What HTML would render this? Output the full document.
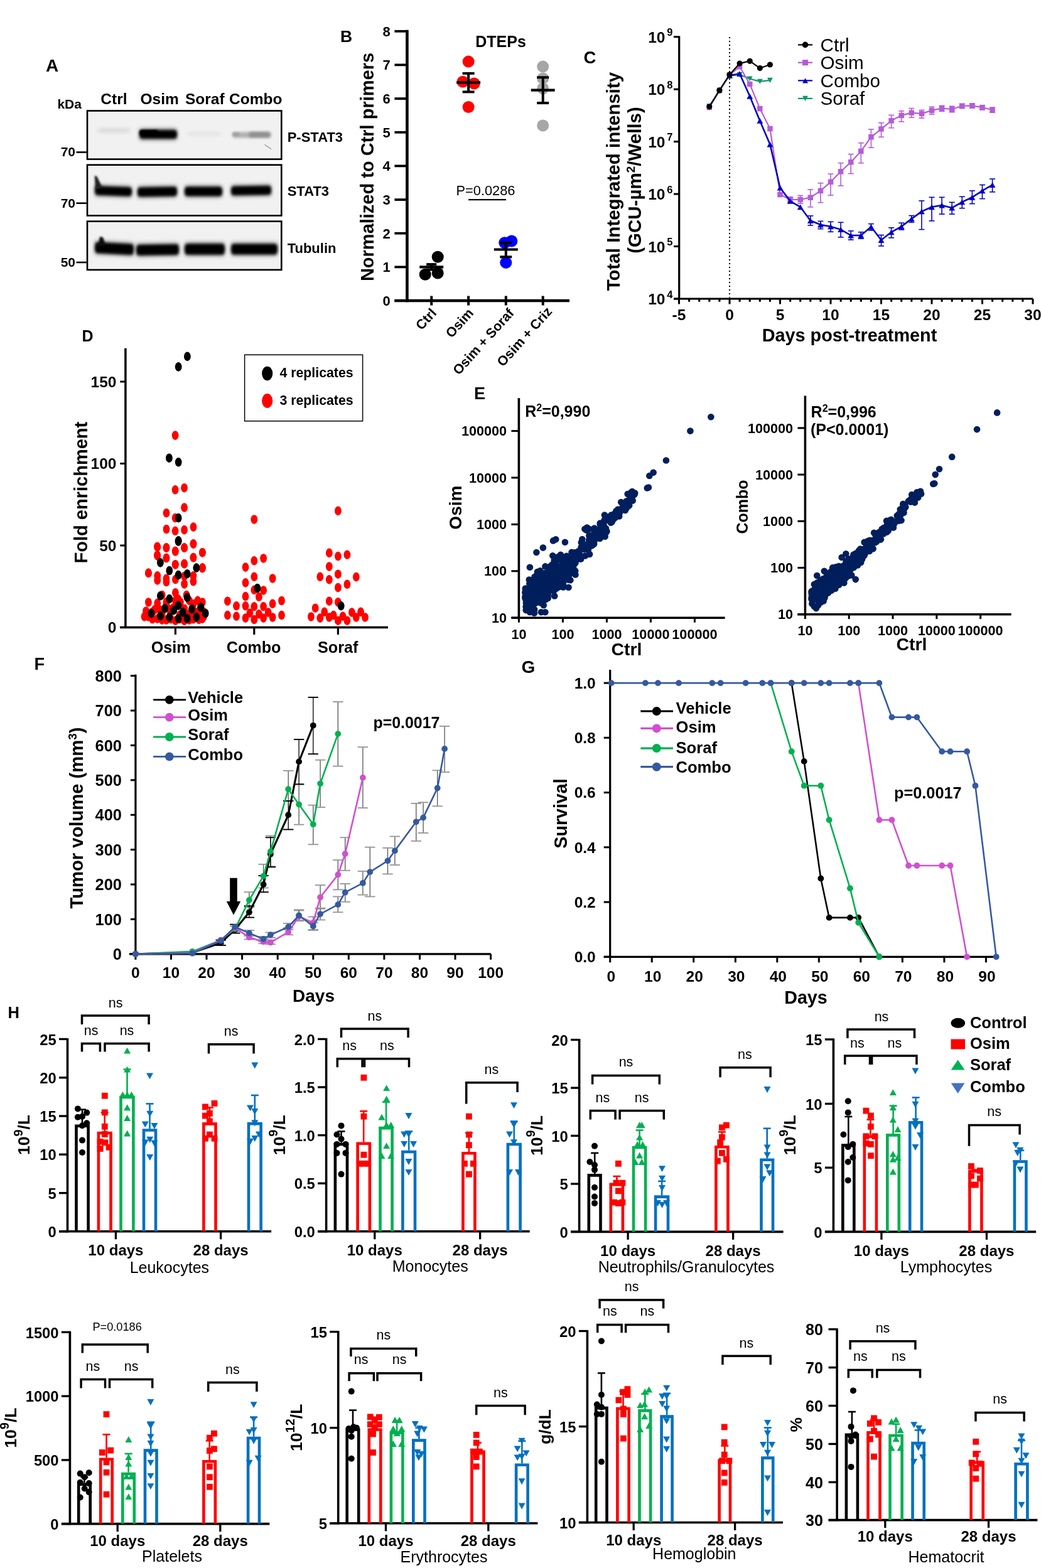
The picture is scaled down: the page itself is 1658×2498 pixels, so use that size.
<!DOCTYPE html>
<html><head><meta charset="utf-8"><style>
html,body{margin:0;padding:0;background:#fff;overflow:hidden;width:1658px;height:2498px;}
svg{display:block;}
text{font-family:'Liberation Sans', Arial, Helvetica, sans-serif;}
</style></head><body>
<svg font-weight="bold" width="1658" height="2498" viewBox="0 0 1658 2498">
<defs>
<filter id="blur2" x="-20%" y="-50%" width="140%" height="200%"><feGaussianBlur stdDeviation="2.2"/></filter>
<filter id="blur1" x="-20%" y="-50%" width="140%" height="200%"><feGaussianBlur stdDeviation="1.4"/></filter>
<filter id="blur4" x="-20%" y="-80%" width="140%" height="260%"><feGaussianBlur stdDeviation="3.5"/></filter>
<filter id="blur3" x="-20%" y="-50%" width="140%" height="200%"><feGaussianBlur stdDeviation="3"/></filter>
</defs>
<rect width="1658" height="2498" fill="#fff"/>
<text x="73" y="114" font-size="28">A</text>
<text x="91.4" y="172.5" font-size="21">kDa</text>
<text x="160.3" y="165.5" font-size="24.5">Ctrl</text>
<text x="223.5" y="165.5" font-size="24.5">Osim</text>
<text x="295" y="165.5" font-size="24.5">Soraf</text>
<text x="365" y="165.5" font-size="24.5">Combo</text>
<rect x="139" y="176.5" width="309.3" height="77.1" fill="#f1f1f1" stroke="#000" stroke-width="2.6"/>
<rect x="139" y="262.7" width="309.3" height="80.8" fill="#f1f1f1" stroke="#000" stroke-width="2.6"/>
<rect x="139" y="352.6" width="309.3" height="77.3" fill="#f1f1f1" stroke="#000" stroke-width="2.6"/>
<g filter="url(#blur3)" opacity="1.0"><path d="M158,204.5 L205,204.5 Q209,208 205,211.5 L158,211.5 Q154,208 158,204.5Z" fill="#d8d8d8"/></g>
<g filter="url(#blur4)" opacity="0.55"><path d="M223,205.5 L281,205.5 L281,222.5 L223,222.5Z" fill="#000"/></g>
<g filter="url(#blur2)" opacity="1.0"><path d="M224,207.5 L280,207.5 Q284,214 280,220.5 L224,220.5 Q220,214 224,207.5Z" fill="#000"/></g>
<g filter="url(#blur1)" opacity="1.0"><path d="M224,207 L250,207 Q254,211 250,215 L224,215 Q220,211 224,207Z" fill="#000"/></g>
<g filter="url(#blur3)" opacity="1.0"><path d="M300,210 L350,210 Q354,213 350,216 L300,216 Q296,213 300,210Z" fill="#e2e2e2"/></g>
<g filter="url(#blur2)" opacity="1.0"><path d="M372,210.5 L430,210.5 Q434,215 430,219.5 L372,219.5 Q368,215 372,210.5Z" fill="#b0b0b0"/></g>
<g filter="url(#blur2)" opacity="1.0"><path d="M398,210.5 L428,210.5 Q432,214.5 428,218.5 L398,218.5 Q394,214.5 398,210.5Z" fill="#8e8e8e"/></g>
<g filter="url(#blur1)" opacity="1.0"><path d="M372,211 L380,211 Q384,214 380,217 L372,217 Q368,214 372,211Z" fill="#a0a0a0"/></g>
<g filter="url(#blur4)" opacity="0.55"><path d="M152,294.8 L209,296.8 L209,314.2 L152,312.2Z" fill="#000"/></g>
<g filter="url(#blur2)" opacity="1.0"><path d="M153,296.8 L208,298.8 Q212,304.5 208,312.2 L153,310.2 Q149,303.5 153,296.8Z" fill="#000"/></g>
<g filter="url(#blur1)"><path d="M150.5,280 L154.5,281 L163,299 L152,301Z" fill="#222"/></g>
<g filter="url(#blur4)" opacity="0.55"><path d="M220,297 L281,296 L281,314 L220,315Z" fill="#000"/></g>
<g filter="url(#blur2)" opacity="1.0"><path d="M221,299 L280,298 Q284,305.5 280,312 L221,313 Q217,306 221,299Z" fill="#000"/></g>
<g filter="url(#blur4)" opacity="0.55"><path d="M295,296 L353,296 L353,314 L295,314Z" fill="#000"/></g>
<g filter="url(#blur2)" opacity="1.0"><path d="M296,298 L352,298 Q356,305 352,312 L296,312 Q292,305 296,298Z" fill="#000"/></g>
<g filter="url(#blur4)" opacity="0.55"><path d="M369,295.2 L431,294.2 L431,311.8 L369,312.8Z" fill="#000"/></g>
<g filter="url(#blur2)" opacity="1.0"><path d="M370,297.2 L430,296.2 Q434,303.5 430,309.8 L370,310.8 Q366,304 370,297.2Z" fill="#000"/></g>
<g filter="url(#blur4)" opacity="0.55"><path d="M152,384.2 L212,387.2 L212,407.8 L152,404.8Z" fill="#000"/></g>
<g filter="url(#blur2)" opacity="1.0"><path d="M153,386.2 L211,389.2 Q215,396 211,405.8 L153,402.8 Q149,394.5 153,386.2Z" fill="#000"/></g>
<g filter="url(#blur1)"><path d="M159,377 L164,378 L168,390 L156,393Z" fill="#111"/></g>
<line x1="421.5" y1="230.5" x2="432" y2="237.5" stroke="#555" stroke-width="0.9"/>
<g filter="url(#blur4)" opacity="0.55"><path d="M218,388.5 L284,387.5 L284,407.5 L218,408.5Z" fill="#000"/></g>
<g filter="url(#blur2)" opacity="1.0"><path d="M219,390.5 L283,389.5 Q287,398 283,405.5 L219,406.5 Q215,398.5 219,390.5Z" fill="#000"/></g>
<g filter="url(#blur4)" opacity="0.55"><path d="M295,386.8 L357,386.8 L357,407.2 L295,407.2Z" fill="#000"/></g>
<g filter="url(#blur2)" opacity="1.0"><path d="M296,388.8 L356,388.8 Q360,397 356,405.2 L296,405.2 Q292,397 296,388.8Z" fill="#000"/></g>
<g filter="url(#blur4)" opacity="0.55"><path d="M369,387 L441,387 L441,407 L369,407Z" fill="#000"/></g>
<g filter="url(#blur2)" opacity="1.0"><path d="M370,389 L440,389 Q444,397 440,405 L370,405 Q366,397 370,389Z" fill="#000"/></g>
<text x="96.7" y="248.9" font-size="21">70</text>
<line x1="121.5" y1="242.5" x2="137.7" y2="242.5" stroke="#000" stroke-width="2.6"/>
<text x="96.7" y="331.4" font-size="21">70</text>
<line x1="121.5" y1="323.7" x2="137.7" y2="323.7" stroke="#000" stroke-width="2.6"/>
<text x="96.7" y="424.9" font-size="21">50</text>
<line x1="121.5" y1="418" x2="137.7" y2="418" stroke="#000" stroke-width="2.6"/>
<text x="457.7" y="226.3" font-size="22">P-STAT3</text>
<text x="457.7" y="312" font-size="22">STAT3</text>
<text x="457.7" y="403" font-size="22">Tubulin</text>
<text x="542" y="67" font-size="26.5">B</text>
<line x1="648.4" y1="47.8" x2="648.4" y2="481.2" stroke="#000" stroke-width="4.6"/>
<line x1="628.4" y1="479" x2="907" y2="479" stroke="#000" stroke-width="4.4"/>
<line x1="628.4" y1="479" x2="648.4" y2="479" stroke="#000" stroke-width="3.8"/>
<text x="621.8" y="486.8" font-size="22" text-anchor="end">0</text>
<line x1="628.4" y1="425.4" x2="648.4" y2="425.4" stroke="#000" stroke-width="3.8"/>
<text x="621.8" y="433.2" font-size="22" text-anchor="end">1</text>
<line x1="628.4" y1="371.7" x2="648.4" y2="371.7" stroke="#000" stroke-width="3.8"/>
<text x="621.8" y="379.5" font-size="22" text-anchor="end">2</text>
<line x1="628.4" y1="318.1" x2="648.4" y2="318.1" stroke="#000" stroke-width="3.8"/>
<text x="621.8" y="325.9" font-size="22" text-anchor="end">3</text>
<line x1="628.4" y1="264.4" x2="648.4" y2="264.4" stroke="#000" stroke-width="3.8"/>
<text x="621.8" y="272.2" font-size="22" text-anchor="end">4</text>
<line x1="628.4" y1="210.8" x2="648.4" y2="210.8" stroke="#000" stroke-width="3.8"/>
<text x="621.8" y="218.6" font-size="22" text-anchor="end">5</text>
<line x1="628.4" y1="157.1" x2="648.4" y2="157.1" stroke="#000" stroke-width="3.8"/>
<text x="621.8" y="164.9" font-size="22" text-anchor="end">6</text>
<line x1="628.4" y1="103.4" x2="648.4" y2="103.4" stroke="#000" stroke-width="3.8"/>
<text x="621.8" y="111.2" font-size="22" text-anchor="end">7</text>
<line x1="628.4" y1="49.8" x2="648.4" y2="49.8" stroke="#000" stroke-width="3.8"/>
<text x="621.8" y="57.6" font-size="22" text-anchor="end">8</text>
<line x1="687.2" y1="471.5" x2="687.2" y2="486.5" stroke="#000" stroke-width="4"/>
<line x1="746.1" y1="471.5" x2="746.1" y2="486.5" stroke="#000" stroke-width="4"/>
<line x1="805.8" y1="471.5" x2="805.8" y2="486.5" stroke="#000" stroke-width="4"/>
<line x1="864.7" y1="471.5" x2="864.7" y2="486.5" stroke="#000" stroke-width="4"/>
<text x="594.9" y="266" font-size="29" text-anchor="middle" transform="rotate(-90 594.9 266)">Normalized to Ctrl primers</text>
<text x="797.5" y="74.8" font-size="25" text-anchor="middle">DTEPs</text>
<circle cx="677.2" cy="437.2" r="9.5" fill="#000"/>
<circle cx="697.2" cy="435" r="9.5" fill="#000"/>
<circle cx="697.2" cy="409.3" r="9.5" fill="#000"/>
<circle cx="746.1" cy="98.1" r="9.5" fill="#ff0000"/>
<circle cx="737.1" cy="130.3" r="9.5" fill="#ff0000"/>
<circle cx="755.1" cy="133" r="9.5" fill="#ff0000"/>
<circle cx="746.1" cy="170.5" r="9.5" fill="#ff0000"/>
<circle cx="805.8" cy="418.4" r="9.5" fill="#0000ff"/>
<circle cx="803.8" cy="386.7" r="9.5" fill="#0000ff"/>
<circle cx="814.8" cy="384" r="9.5" fill="#0000ff"/>
<circle cx="864.7" cy="106.1" r="9.5" fill="#a6a6a6"/>
<circle cx="864.7" cy="124.9" r="9.5" fill="#a6a6a6"/>
<circle cx="864.7" cy="141" r="9.5" fill="#a6a6a6"/>
<circle cx="864.7" cy="200" r="9.5" fill="#a6a6a6"/>
<line x1="668.2" y1="425.4" x2="706.2" y2="425.4" stroke="#000" stroke-width="4.2"/>
<line x1="687.2" y1="429.6" x2="687.2" y2="421.1" stroke="#000" stroke-width="4"/>
<line x1="679.2" y1="429.6" x2="695.2" y2="429.6" stroke="#000" stroke-width="4"/>
<line x1="679.2" y1="421.1" x2="695.2" y2="421.1" stroke="#000" stroke-width="4"/>
<line x1="727.1" y1="131.3" x2="765.1" y2="131.3" stroke="#000" stroke-width="4.2"/>
<line x1="746.1" y1="146.4" x2="746.1" y2="116.9" stroke="#000" stroke-width="4"/>
<line x1="736.6" y1="146.4" x2="755.6" y2="146.4" stroke="#000" stroke-width="4"/>
<line x1="736.6" y1="116.9" x2="755.6" y2="116.9" stroke="#000" stroke-width="4"/>
<line x1="786.8" y1="397.5" x2="824.8" y2="397.5" stroke="#000" stroke-width="4.2"/>
<line x1="805.8" y1="409.3" x2="805.8" y2="386.7" stroke="#000" stroke-width="4"/>
<line x1="796.3" y1="409.3" x2="815.3" y2="409.3" stroke="#000" stroke-width="4"/>
<line x1="796.3" y1="386.7" x2="815.3" y2="386.7" stroke="#000" stroke-width="4"/>
<line x1="845.7" y1="143.7" x2="883.7" y2="143.7" stroke="#000" stroke-width="4.2"/>
<line x1="864.7" y1="164.1" x2="864.7" y2="123.3" stroke="#000" stroke-width="4"/>
<line x1="855.2" y1="164.1" x2="874.2" y2="164.1" stroke="#000" stroke-width="4"/>
<line x1="855.2" y1="123.3" x2="874.2" y2="123.3" stroke="#000" stroke-width="4"/>
<line x1="746.1" y1="318.1" x2="806" y2="318.1" stroke="#000" stroke-width="2.2"/>
<text x="773.5" y="311.1" font-size="21.8" font-weight="normal" text-anchor="middle">P=0.0286</text>
<text x="696.4" y="499.5" font-size="21.5" text-anchor="end" transform="rotate(-48 696.4 499.5)">Ctrl</text>
<text x="755.2" y="499.5" font-size="21.5" text-anchor="end" transform="rotate(-48 755.2 499.5)">Osim</text>
<text x="819.8" y="499.6" font-size="21.5" text-anchor="end" transform="rotate(-48 819.8 499.6)">Osim + Soraf</text>
<text x="880.5" y="497" font-size="21.5" text-anchor="end" transform="rotate(-48 880.5 497)">Osim + Criz</text>
<text x="929.4" y="100.6" font-size="27.5">C</text>
<line x1="1081.7" y1="57.5" x2="1081.7" y2="477.5" stroke="#000" stroke-width="3.2"/>
<line x1="1073" y1="476" x2="1645" y2="476" stroke="#000" stroke-width="3.2"/>
<line x1="1073" y1="476" x2="1081.7" y2="476" stroke="#000" stroke-width="3"/>
<text x="1059.4" y="485" font-size="24.5" text-anchor="end">10</text>
<text x="1062.3" y="474.5" font-size="16.5">4</text>
<line x1="1073" y1="392.5" x2="1081.7" y2="392.5" stroke="#000" stroke-width="3"/>
<text x="1059.4" y="401.5" font-size="24.5" text-anchor="end">10</text>
<text x="1062.3" y="391" font-size="16.5">5</text>
<line x1="1073" y1="309.1" x2="1081.7" y2="309.1" stroke="#000" stroke-width="3"/>
<text x="1059.4" y="318.1" font-size="24.5" text-anchor="end">10</text>
<text x="1062.3" y="307.6" font-size="16.5">6</text>
<line x1="1073" y1="225.6" x2="1081.7" y2="225.6" stroke="#000" stroke-width="3"/>
<text x="1059.4" y="234.6" font-size="24.5" text-anchor="end">10</text>
<text x="1062.3" y="224.1" font-size="16.5">7</text>
<line x1="1073" y1="142.2" x2="1081.7" y2="142.2" stroke="#000" stroke-width="3"/>
<text x="1059.4" y="151.2" font-size="24.5" text-anchor="end">10</text>
<text x="1062.3" y="140.7" font-size="16.5">8</text>
<line x1="1073" y1="58.7" x2="1081.7" y2="58.7" stroke="#000" stroke-width="3"/>
<text x="1059.4" y="67.7" font-size="24.5" text-anchor="end">10</text>
<text x="1062.3" y="57.2" font-size="16.5">9</text>
<line x1="1081.5" y1="476" x2="1081.5" y2="484.5" stroke="#000" stroke-width="3"/>
<line x1="1097.6" y1="476" x2="1097.6" y2="480.8" stroke="#000" stroke-width="3"/>
<line x1="1113.7" y1="476" x2="1113.7" y2="480.8" stroke="#000" stroke-width="3"/>
<line x1="1129.8" y1="476" x2="1129.8" y2="480.8" stroke="#000" stroke-width="3"/>
<line x1="1145.9" y1="476" x2="1145.9" y2="480.8" stroke="#000" stroke-width="3"/>
<line x1="1162" y1="476" x2="1162" y2="484.5" stroke="#000" stroke-width="3"/>
<line x1="1178.1" y1="476" x2="1178.1" y2="480.8" stroke="#000" stroke-width="3"/>
<line x1="1194.2" y1="476" x2="1194.2" y2="480.8" stroke="#000" stroke-width="3"/>
<line x1="1210.3" y1="476" x2="1210.3" y2="480.8" stroke="#000" stroke-width="3"/>
<line x1="1226.4" y1="476" x2="1226.4" y2="480.8" stroke="#000" stroke-width="3"/>
<line x1="1242.5" y1="476" x2="1242.5" y2="484.5" stroke="#000" stroke-width="3"/>
<line x1="1258.6" y1="476" x2="1258.6" y2="480.8" stroke="#000" stroke-width="3"/>
<line x1="1274.7" y1="476" x2="1274.7" y2="480.8" stroke="#000" stroke-width="3"/>
<line x1="1290.8" y1="476" x2="1290.8" y2="480.8" stroke="#000" stroke-width="3"/>
<line x1="1306.9" y1="476" x2="1306.9" y2="480.8" stroke="#000" stroke-width="3"/>
<line x1="1323" y1="476" x2="1323" y2="484.5" stroke="#000" stroke-width="3"/>
<line x1="1339.1" y1="476" x2="1339.1" y2="480.8" stroke="#000" stroke-width="3"/>
<line x1="1355.2" y1="476" x2="1355.2" y2="480.8" stroke="#000" stroke-width="3"/>
<line x1="1371.3" y1="476" x2="1371.3" y2="480.8" stroke="#000" stroke-width="3"/>
<line x1="1387.4" y1="476" x2="1387.4" y2="480.8" stroke="#000" stroke-width="3"/>
<line x1="1403.5" y1="476" x2="1403.5" y2="484.5" stroke="#000" stroke-width="3"/>
<line x1="1419.6" y1="476" x2="1419.6" y2="480.8" stroke="#000" stroke-width="3"/>
<line x1="1435.7" y1="476" x2="1435.7" y2="480.8" stroke="#000" stroke-width="3"/>
<line x1="1451.8" y1="476" x2="1451.8" y2="480.8" stroke="#000" stroke-width="3"/>
<line x1="1467.9" y1="476" x2="1467.9" y2="480.8" stroke="#000" stroke-width="3"/>
<line x1="1484" y1="476" x2="1484" y2="484.5" stroke="#000" stroke-width="3"/>
<line x1="1500.1" y1="476" x2="1500.1" y2="480.8" stroke="#000" stroke-width="3"/>
<line x1="1516.2" y1="476" x2="1516.2" y2="480.8" stroke="#000" stroke-width="3"/>
<line x1="1532.3" y1="476" x2="1532.3" y2="480.8" stroke="#000" stroke-width="3"/>
<line x1="1548.4" y1="476" x2="1548.4" y2="480.8" stroke="#000" stroke-width="3"/>
<line x1="1564.5" y1="476" x2="1564.5" y2="484.5" stroke="#000" stroke-width="3"/>
<line x1="1580.6" y1="476" x2="1580.6" y2="480.8" stroke="#000" stroke-width="3"/>
<line x1="1596.7" y1="476" x2="1596.7" y2="480.8" stroke="#000" stroke-width="3"/>
<line x1="1612.8" y1="476" x2="1612.8" y2="480.8" stroke="#000" stroke-width="3"/>
<line x1="1628.9" y1="476" x2="1628.9" y2="480.8" stroke="#000" stroke-width="3"/>
<line x1="1645" y1="476" x2="1645" y2="484.5" stroke="#000" stroke-width="3"/>
<text x="1081.5" y="510.4" font-size="24.5" text-anchor="middle">-5</text>
<text x="1162" y="510.4" font-size="24.5" text-anchor="middle">0</text>
<text x="1242.5" y="510.4" font-size="24.5" text-anchor="middle">5</text>
<text x="1323" y="510.4" font-size="24.5" text-anchor="middle">10</text>
<text x="1403.5" y="510.4" font-size="24.5" text-anchor="middle">15</text>
<text x="1484" y="510.4" font-size="24.5" text-anchor="middle">20</text>
<text x="1564.5" y="510.4" font-size="24.5" text-anchor="middle">25</text>
<text x="1645" y="510.4" font-size="24.5" text-anchor="middle">30</text>
<line x1="1162" y1="59" x2="1162" y2="474" stroke="#000" stroke-width="2.1" stroke-dasharray="2 4"/>
<text x="986.6" y="289" font-size="29.5" text-anchor="middle" transform="rotate(-90 986.6 289)">Total Integrated intensity</text>
<text x="1021.3" y="287" font-size="29.5" text-anchor="middle" transform="rotate(-90 1021.3 287)">(GCU-µm<tspan dy="-10" font-size="19">2</tspan><tspan dy="10">/Wells)</tspan></text>
<text x="1353" y="543.5" font-size="28.8" text-anchor="middle">Days post-treatment</text>
<line x1="1258.6" y1="313.8" x2="1258.6" y2="322.7" stroke="#b65bd9" stroke-width="1.6"/>
<line x1="1254.1" y1="313.8" x2="1263.1" y2="313.8" stroke="#b65bd9" stroke-width="1.6"/>
<line x1="1254.1" y1="322.7" x2="1263.1" y2="322.7" stroke="#b65bd9" stroke-width="1.6"/>
<line x1="1274.7" y1="311.5" x2="1274.7" y2="324.2" stroke="#b65bd9" stroke-width="1.6"/>
<line x1="1270.2" y1="311.5" x2="1279.2" y2="311.5" stroke="#b65bd9" stroke-width="1.6"/>
<line x1="1270.2" y1="324.2" x2="1279.2" y2="324.2" stroke="#b65bd9" stroke-width="1.6"/>
<line x1="1290.8" y1="302" x2="1290.8" y2="329.8" stroke="#b65bd9" stroke-width="1.6"/>
<line x1="1286.3" y1="302" x2="1295.3" y2="302" stroke="#b65bd9" stroke-width="1.6"/>
<line x1="1286.3" y1="329.8" x2="1295.3" y2="329.8" stroke="#b65bd9" stroke-width="1.6"/>
<line x1="1306.9" y1="291.7" x2="1306.9" y2="322.7" stroke="#b65bd9" stroke-width="1.6"/>
<line x1="1302.4" y1="291.7" x2="1311.4" y2="291.7" stroke="#b65bd9" stroke-width="1.6"/>
<line x1="1302.4" y1="322.7" x2="1311.4" y2="322.7" stroke="#b65bd9" stroke-width="1.6"/>
<line x1="1323" y1="277.1" x2="1323" y2="311" stroke="#b65bd9" stroke-width="1.6"/>
<line x1="1318.5" y1="277.1" x2="1327.5" y2="277.1" stroke="#b65bd9" stroke-width="1.6"/>
<line x1="1318.5" y1="311" x2="1327.5" y2="311" stroke="#b65bd9" stroke-width="1.6"/>
<line x1="1339.1" y1="259.7" x2="1339.1" y2="295.9" stroke="#b65bd9" stroke-width="1.6"/>
<line x1="1334.6" y1="259.7" x2="1343.6" y2="259.7" stroke="#b65bd9" stroke-width="1.6"/>
<line x1="1334.6" y1="295.9" x2="1343.6" y2="295.9" stroke="#b65bd9" stroke-width="1.6"/>
<line x1="1355.2" y1="245.6" x2="1355.2" y2="276.6" stroke="#b65bd9" stroke-width="1.6"/>
<line x1="1350.7" y1="245.6" x2="1359.7" y2="245.6" stroke="#b65bd9" stroke-width="1.6"/>
<line x1="1350.7" y1="276.6" x2="1359.7" y2="276.6" stroke="#b65bd9" stroke-width="1.6"/>
<line x1="1371.3" y1="227.7" x2="1371.3" y2="259.7" stroke="#b65bd9" stroke-width="1.6"/>
<line x1="1366.8" y1="227.7" x2="1375.8" y2="227.7" stroke="#b65bd9" stroke-width="1.6"/>
<line x1="1366.8" y1="259.7" x2="1375.8" y2="259.7" stroke="#b65bd9" stroke-width="1.6"/>
<line x1="1387.4" y1="206" x2="1387.4" y2="235.2" stroke="#b65bd9" stroke-width="1.6"/>
<line x1="1382.9" y1="206" x2="1391.9" y2="206" stroke="#b65bd9" stroke-width="1.6"/>
<line x1="1382.9" y1="235.2" x2="1391.9" y2="235.2" stroke="#b65bd9" stroke-width="1.6"/>
<line x1="1403.5" y1="195.7" x2="1403.5" y2="218.3" stroke="#b65bd9" stroke-width="1.6"/>
<line x1="1399" y1="195.7" x2="1408" y2="195.7" stroke="#b65bd9" stroke-width="1.6"/>
<line x1="1399" y1="218.3" x2="1408" y2="218.3" stroke="#b65bd9" stroke-width="1.6"/>
<line x1="1419.6" y1="183.4" x2="1419.6" y2="203.7" stroke="#b65bd9" stroke-width="1.6"/>
<line x1="1415.1" y1="183.4" x2="1424.1" y2="183.4" stroke="#b65bd9" stroke-width="1.6"/>
<line x1="1415.1" y1="203.7" x2="1424.1" y2="203.7" stroke="#b65bd9" stroke-width="1.6"/>
<line x1="1435.7" y1="176.8" x2="1435.7" y2="193.8" stroke="#b65bd9" stroke-width="1.6"/>
<line x1="1431.2" y1="176.8" x2="1440.2" y2="176.8" stroke="#b65bd9" stroke-width="1.6"/>
<line x1="1431.2" y1="193.8" x2="1440.2" y2="193.8" stroke="#b65bd9" stroke-width="1.6"/>
<line x1="1451.8" y1="172.6" x2="1451.8" y2="187.2" stroke="#b65bd9" stroke-width="1.6"/>
<line x1="1447.3" y1="172.6" x2="1456.3" y2="172.6" stroke="#b65bd9" stroke-width="1.6"/>
<line x1="1447.3" y1="187.2" x2="1456.3" y2="187.2" stroke="#b65bd9" stroke-width="1.6"/>
<line x1="1467.9" y1="175.4" x2="1467.9" y2="188.1" stroke="#b65bd9" stroke-width="1.6"/>
<line x1="1463.4" y1="175.4" x2="1472.4" y2="175.4" stroke="#b65bd9" stroke-width="1.6"/>
<line x1="1463.4" y1="188.1" x2="1472.4" y2="188.1" stroke="#b65bd9" stroke-width="1.6"/>
<line x1="1484" y1="170.3" x2="1484" y2="182" stroke="#b65bd9" stroke-width="1.6"/>
<line x1="1479.5" y1="170.3" x2="1488.5" y2="170.3" stroke="#b65bd9" stroke-width="1.6"/>
<line x1="1479.5" y1="182" x2="1488.5" y2="182" stroke="#b65bd9" stroke-width="1.6"/>
<line x1="1500.1" y1="168.4" x2="1500.1" y2="177.3" stroke="#b65bd9" stroke-width="1.6"/>
<line x1="1495.6" y1="168.4" x2="1504.6" y2="168.4" stroke="#b65bd9" stroke-width="1.6"/>
<line x1="1495.6" y1="177.3" x2="1504.6" y2="177.3" stroke="#b65bd9" stroke-width="1.6"/>
<line x1="1516.2" y1="169.3" x2="1516.2" y2="178.7" stroke="#b65bd9" stroke-width="1.6"/>
<line x1="1511.7" y1="169.3" x2="1520.7" y2="169.3" stroke="#b65bd9" stroke-width="1.6"/>
<line x1="1511.7" y1="178.7" x2="1520.7" y2="178.7" stroke="#b65bd9" stroke-width="1.6"/>
<line x1="1532.3" y1="165.5" x2="1532.3" y2="172.6" stroke="#b65bd9" stroke-width="1.6"/>
<line x1="1527.8" y1="165.5" x2="1536.8" y2="165.5" stroke="#b65bd9" stroke-width="1.6"/>
<line x1="1527.8" y1="172.6" x2="1536.8" y2="172.6" stroke="#b65bd9" stroke-width="1.6"/>
<line x1="1548.4" y1="165.1" x2="1548.4" y2="172.1" stroke="#b65bd9" stroke-width="1.6"/>
<line x1="1543.9" y1="165.1" x2="1552.9" y2="165.1" stroke="#b65bd9" stroke-width="1.6"/>
<line x1="1543.9" y1="172.1" x2="1552.9" y2="172.1" stroke="#b65bd9" stroke-width="1.6"/>
<line x1="1564.5" y1="167.9" x2="1564.5" y2="175" stroke="#b65bd9" stroke-width="1.6"/>
<line x1="1560" y1="167.9" x2="1569" y2="167.9" stroke="#b65bd9" stroke-width="1.6"/>
<line x1="1560" y1="175" x2="1569" y2="175" stroke="#b65bd9" stroke-width="1.6"/>
<line x1="1580.6" y1="171.2" x2="1580.6" y2="179.2" stroke="#b65bd9" stroke-width="1.6"/>
<line x1="1576.1" y1="171.2" x2="1585.1" y2="171.2" stroke="#b65bd9" stroke-width="1.6"/>
<line x1="1576.1" y1="179.2" x2="1585.1" y2="179.2" stroke="#b65bd9" stroke-width="1.6"/>
<line x1="1290.8" y1="343.9" x2="1290.8" y2="359" stroke="#0000c4" stroke-width="1.6"/>
<line x1="1286.3" y1="343.9" x2="1295.3" y2="343.9" stroke="#0000c4" stroke-width="1.6"/>
<line x1="1286.3" y1="359" x2="1295.3" y2="359" stroke="#0000c4" stroke-width="1.6"/>
<line x1="1306.9" y1="352.4" x2="1306.9" y2="364.6" stroke="#0000c4" stroke-width="1.6"/>
<line x1="1302.4" y1="352.4" x2="1311.4" y2="352.4" stroke="#0000c4" stroke-width="1.6"/>
<line x1="1302.4" y1="364.6" x2="1311.4" y2="364.6" stroke="#0000c4" stroke-width="1.6"/>
<line x1="1323" y1="353.3" x2="1323" y2="369.3" stroke="#0000c4" stroke-width="1.6"/>
<line x1="1318.5" y1="353.3" x2="1327.5" y2="353.3" stroke="#0000c4" stroke-width="1.6"/>
<line x1="1318.5" y1="369.3" x2="1327.5" y2="369.3" stroke="#0000c4" stroke-width="1.6"/>
<line x1="1339.1" y1="354.3" x2="1339.1" y2="377.8" stroke="#0000c4" stroke-width="1.6"/>
<line x1="1334.6" y1="354.3" x2="1343.6" y2="354.3" stroke="#0000c4" stroke-width="1.6"/>
<line x1="1334.6" y1="377.8" x2="1343.6" y2="377.8" stroke="#0000c4" stroke-width="1.6"/>
<line x1="1355.2" y1="367.9" x2="1355.2" y2="382" stroke="#0000c4" stroke-width="1.6"/>
<line x1="1350.7" y1="367.9" x2="1359.7" y2="367.9" stroke="#0000c4" stroke-width="1.6"/>
<line x1="1350.7" y1="382" x2="1359.7" y2="382" stroke="#0000c4" stroke-width="1.6"/>
<line x1="1371.3" y1="369.8" x2="1371.3" y2="380.2" stroke="#0000c4" stroke-width="1.6"/>
<line x1="1366.8" y1="369.8" x2="1375.8" y2="369.8" stroke="#0000c4" stroke-width="1.6"/>
<line x1="1366.8" y1="380.2" x2="1375.8" y2="380.2" stroke="#0000c4" stroke-width="1.6"/>
<line x1="1387.4" y1="356.6" x2="1387.4" y2="367" stroke="#0000c4" stroke-width="1.6"/>
<line x1="1382.9" y1="356.6" x2="1391.9" y2="356.6" stroke="#0000c4" stroke-width="1.6"/>
<line x1="1382.9" y1="367" x2="1391.9" y2="367" stroke="#0000c4" stroke-width="1.6"/>
<line x1="1403.5" y1="374.5" x2="1403.5" y2="391.9" stroke="#0000c4" stroke-width="1.6"/>
<line x1="1399" y1="374.5" x2="1408" y2="374.5" stroke="#0000c4" stroke-width="1.6"/>
<line x1="1399" y1="391.9" x2="1408" y2="391.9" stroke="#0000c4" stroke-width="1.6"/>
<line x1="1419.6" y1="362.8" x2="1419.6" y2="378.8" stroke="#0000c4" stroke-width="1.6"/>
<line x1="1415.1" y1="362.8" x2="1424.1" y2="362.8" stroke="#0000c4" stroke-width="1.6"/>
<line x1="1415.1" y1="378.8" x2="1424.1" y2="378.8" stroke="#0000c4" stroke-width="1.6"/>
<line x1="1435.7" y1="355.2" x2="1435.7" y2="366" stroke="#0000c4" stroke-width="1.6"/>
<line x1="1431.2" y1="355.2" x2="1440.2" y2="355.2" stroke="#0000c4" stroke-width="1.6"/>
<line x1="1431.2" y1="366" x2="1440.2" y2="366" stroke="#0000c4" stroke-width="1.6"/>
<line x1="1451.8" y1="343.5" x2="1451.8" y2="354.3" stroke="#0000c4" stroke-width="1.6"/>
<line x1="1447.3" y1="343.5" x2="1456.3" y2="343.5" stroke="#0000c4" stroke-width="1.6"/>
<line x1="1447.3" y1="354.3" x2="1456.3" y2="354.3" stroke="#0000c4" stroke-width="1.6"/>
<line x1="1467.9" y1="319.9" x2="1467.9" y2="365.6" stroke="#0000c4" stroke-width="1.6"/>
<line x1="1463.4" y1="319.9" x2="1472.4" y2="319.9" stroke="#0000c4" stroke-width="1.6"/>
<line x1="1463.4" y1="365.6" x2="1472.4" y2="365.6" stroke="#0000c4" stroke-width="1.6"/>
<line x1="1484" y1="314.3" x2="1484" y2="351.9" stroke="#0000c4" stroke-width="1.6"/>
<line x1="1479.5" y1="314.3" x2="1488.5" y2="314.3" stroke="#0000c4" stroke-width="1.6"/>
<line x1="1479.5" y1="351.9" x2="1488.5" y2="351.9" stroke="#0000c4" stroke-width="1.6"/>
<line x1="1500.1" y1="314.3" x2="1500.1" y2="341.1" stroke="#0000c4" stroke-width="1.6"/>
<line x1="1495.6" y1="314.3" x2="1504.6" y2="314.3" stroke="#0000c4" stroke-width="1.6"/>
<line x1="1495.6" y1="341.1" x2="1504.6" y2="341.1" stroke="#0000c4" stroke-width="1.6"/>
<line x1="1516.2" y1="322.3" x2="1516.2" y2="341.1" stroke="#0000c4" stroke-width="1.6"/>
<line x1="1511.7" y1="322.3" x2="1520.7" y2="322.3" stroke="#0000c4" stroke-width="1.6"/>
<line x1="1511.7" y1="341.1" x2="1520.7" y2="341.1" stroke="#0000c4" stroke-width="1.6"/>
<line x1="1532.3" y1="313.3" x2="1532.3" y2="331.7" stroke="#0000c4" stroke-width="1.6"/>
<line x1="1527.8" y1="313.3" x2="1536.8" y2="313.3" stroke="#0000c4" stroke-width="1.6"/>
<line x1="1527.8" y1="331.7" x2="1536.8" y2="331.7" stroke="#0000c4" stroke-width="1.6"/>
<line x1="1548.4" y1="303.9" x2="1548.4" y2="324.6" stroke="#0000c4" stroke-width="1.6"/>
<line x1="1543.9" y1="303.9" x2="1552.9" y2="303.9" stroke="#0000c4" stroke-width="1.6"/>
<line x1="1543.9" y1="324.6" x2="1552.9" y2="324.6" stroke="#0000c4" stroke-width="1.6"/>
<line x1="1564.5" y1="294.5" x2="1564.5" y2="316.6" stroke="#0000c4" stroke-width="1.6"/>
<line x1="1560" y1="294.5" x2="1569" y2="294.5" stroke="#0000c4" stroke-width="1.6"/>
<line x1="1560" y1="316.6" x2="1569" y2="316.6" stroke="#0000c4" stroke-width="1.6"/>
<line x1="1580.6" y1="285.1" x2="1580.6" y2="305.8" stroke="#0000c4" stroke-width="1.6"/>
<line x1="1576.1" y1="285.1" x2="1585.1" y2="285.1" stroke="#0000c4" stroke-width="1.6"/>
<line x1="1576.1" y1="305.8" x2="1585.1" y2="305.8" stroke="#0000c4" stroke-width="1.6"/>
<polyline points="1129.8,169.3 1145.9,143.9 1162,120.4 1178.1,119 1194.2,125.5 1210.3,129.8 1226.4,127.9" fill="none" stroke="#11966a" stroke-width="2.2"/>
<polygon points="1125.3,165.3 1134.3,165.3 1129.8,173.4" fill="#11966a"/>
<polygon points="1141.4,139.8 1150.4,139.8 1145.9,147.9" fill="#11966a"/>
<polygon points="1157.5,116.3 1166.5,116.3 1162,124.4" fill="#11966a"/>
<polygon points="1173.6,114.9 1182.6,114.9 1178.1,123" fill="#11966a"/>
<polygon points="1189.7,121.5 1198.7,121.5 1194.2,129.6" fill="#11966a"/>
<polygon points="1205.8,125.7 1214.8,125.7 1210.3,133.8" fill="#11966a"/>
<polygon points="1221.9,123.8 1230.9,123.8 1226.4,131.9" fill="#11966a"/>
<polyline points="1129.8,171.2 1145.9,144.4 1162,119.4 1178.1,106.2 1194.2,134 1210.3,173.1 1226.4,205.1 1242.5,310 1258.6,318 1274.7,318 1290.8,314.7 1306.9,303.9 1323,289.8 1339.1,273.3 1355.2,258.3 1371.3,240.9 1387.4,218.3 1403.5,205.6 1419.6,192.4 1435.7,183.9 1451.8,179.7 1467.9,181.1 1484,175.9 1500.1,172.6 1516.2,174 1532.3,168.8 1548.4,168.4 1564.5,171.2 1580.6,175" fill="none" stroke="#b65bd9" stroke-width="2.2"/>
<rect x="1125.5" y="166.9" width="8.5" height="8.5" fill="#b65bd9"/>
<rect x="1141.7" y="140.1" width="8.5" height="8.5" fill="#b65bd9"/>
<rect x="1157.8" y="115.2" width="8.5" height="8.5" fill="#b65bd9"/>
<rect x="1173.8" y="102" width="8.5" height="8.5" fill="#b65bd9"/>
<rect x="1190" y="129.8" width="8.5" height="8.5" fill="#b65bd9"/>
<rect x="1206" y="168.8" width="8.5" height="8.5" fill="#b65bd9"/>
<rect x="1222.2" y="200.8" width="8.5" height="8.5" fill="#b65bd9"/>
<rect x="1238.2" y="305.8" width="8.5" height="8.5" fill="#b65bd9"/>
<rect x="1254.3" y="313.8" width="8.5" height="8.5" fill="#b65bd9"/>
<rect x="1270.5" y="313.8" width="8.5" height="8.5" fill="#b65bd9"/>
<rect x="1286.5" y="310.5" width="8.5" height="8.5" fill="#b65bd9"/>
<rect x="1302.7" y="299.7" width="8.5" height="8.5" fill="#b65bd9"/>
<rect x="1318.8" y="285.6" width="8.5" height="8.5" fill="#b65bd9"/>
<rect x="1334.8" y="269.1" width="8.5" height="8.5" fill="#b65bd9"/>
<rect x="1351" y="254" width="8.5" height="8.5" fill="#b65bd9"/>
<rect x="1367" y="236.6" width="8.5" height="8.5" fill="#b65bd9"/>
<rect x="1383.2" y="214" width="8.5" height="8.5" fill="#b65bd9"/>
<rect x="1399.2" y="201.3" width="8.5" height="8.5" fill="#b65bd9"/>
<rect x="1415.3" y="188.1" width="8.5" height="8.5" fill="#b65bd9"/>
<rect x="1431.5" y="179.7" width="8.5" height="8.5" fill="#b65bd9"/>
<rect x="1447.5" y="175.4" width="8.5" height="8.5" fill="#b65bd9"/>
<rect x="1463.7" y="176.8" width="8.5" height="8.5" fill="#b65bd9"/>
<rect x="1479.8" y="171.7" width="8.5" height="8.5" fill="#b65bd9"/>
<rect x="1495.8" y="168.4" width="8.5" height="8.5" fill="#b65bd9"/>
<rect x="1512" y="169.8" width="8.5" height="8.5" fill="#b65bd9"/>
<rect x="1528" y="164.6" width="8.5" height="8.5" fill="#b65bd9"/>
<rect x="1544.2" y="164.1" width="8.5" height="8.5" fill="#b65bd9"/>
<rect x="1560.2" y="166.9" width="8.5" height="8.5" fill="#b65bd9"/>
<rect x="1576.3" y="170.7" width="8.5" height="8.5" fill="#b65bd9"/>
<polyline points="1162,120.4 1178.1,117.5 1194.2,153.3 1210.3,192.4 1226.4,230 1242.5,299.2 1258.6,320.4 1274.7,329.8 1290.8,351.5 1306.9,358 1323,360.9 1339.1,365.6 1355.2,375 1371.3,375 1387.4,361.3 1403.5,382.5 1419.6,369.8 1435.7,360.9 1451.8,348.6 1467.9,336.9 1484,329.8 1500.1,327 1516.2,331.2 1532.3,321.8 1548.4,314.3 1564.5,303.9 1580.6,294.5" fill="none" stroke="#0000c4" stroke-width="2.6"/>
<polygon points="1157.1,124.8 1166.9,124.8 1162,116" fill="#0000c4"/>
<polygon points="1173.2,122 1183,122 1178.1,113.1" fill="#0000c4"/>
<polygon points="1189.3,157.7 1199.1,157.7 1194.2,148.9" fill="#0000c4"/>
<polygon points="1205.4,196.8 1215.2,196.8 1210.3,188" fill="#0000c4"/>
<polygon points="1221.5,234.4 1231.3,234.4 1226.4,225.6" fill="#0000c4"/>
<polygon points="1237.6,303.6 1247.4,303.6 1242.5,294.8" fill="#0000c4"/>
<polygon points="1253.7,324.8 1263.5,324.8 1258.6,316" fill="#0000c4"/>
<polygon points="1269.8,334.2 1279.6,334.2 1274.7,325.4" fill="#0000c4"/>
<polygon points="1285.9,355.9 1295.7,355.9 1290.8,347" fill="#0000c4"/>
<polygon points="1302,362.5 1311.8,362.5 1306.9,353.6" fill="#0000c4"/>
<polygon points="1318.1,365.3 1327.9,365.3 1323,356.5" fill="#0000c4"/>
<polygon points="1334.2,370 1344,370 1339.1,361.2" fill="#0000c4"/>
<polygon points="1350.3,379.4 1360.1,379.4 1355.2,370.6" fill="#0000c4"/>
<polygon points="1366.4,379.4 1376.2,379.4 1371.3,370.6" fill="#0000c4"/>
<polygon points="1382.5,365.8 1392.3,365.8 1387.4,356.9" fill="#0000c4"/>
<polygon points="1398.6,386.9 1408.4,386.9 1403.5,378.1" fill="#0000c4"/>
<polygon points="1414.7,374.2 1424.5,374.2 1419.6,365.4" fill="#0000c4"/>
<polygon points="1430.8,365.3 1440.6,365.3 1435.7,356.5" fill="#0000c4"/>
<polygon points="1446.9,353 1456.7,353 1451.8,344.2" fill="#0000c4"/>
<polygon points="1463,341.3 1472.8,341.3 1467.9,332.5" fill="#0000c4"/>
<polygon points="1479.1,334.2 1488.9,334.2 1484,325.4" fill="#0000c4"/>
<polygon points="1495.2,331.4 1505,331.4 1500.1,322.6" fill="#0000c4"/>
<polygon points="1511.3,335.6 1521.1,335.6 1516.2,326.8" fill="#0000c4"/>
<polygon points="1527.4,326.2 1537.2,326.2 1532.3,317.4" fill="#0000c4"/>
<polygon points="1543.5,318.7 1553.3,318.7 1548.4,309.9" fill="#0000c4"/>
<polygon points="1559.6,308.3 1569.4,308.3 1564.5,299.5" fill="#0000c4"/>
<polygon points="1575.7,298.9 1585.5,298.9 1580.6,290.1" fill="#0000c4"/>
<polyline points="1129.8,169.8 1145.9,143.9 1162,119 1178.1,101.1 1194.2,97.3 1210.3,108.6 1226.4,103" fill="none" stroke="#000" stroke-width="2.2"/>
<circle cx="1129.8" cy="169.8" r="4.6" fill="#000"/>
<circle cx="1145.9" cy="143.9" r="4.6" fill="#000"/>
<circle cx="1162" cy="119" r="4.6" fill="#000"/>
<circle cx="1178.1" cy="101.1" r="4.6" fill="#000"/>
<circle cx="1194.2" cy="97.3" r="4.6" fill="#000"/>
<circle cx="1210.3" cy="108.6" r="4.6" fill="#000"/>
<circle cx="1226.4" cy="103" r="4.6" fill="#000"/>
<line x1="1271" y1="71.4" x2="1294" y2="71.4" stroke="#000" stroke-width="2.2"/>
<circle cx="1282.5" cy="71.4" r="4.8" fill="#000"/>
<text x="1306.6" y="81.6" font-size="29.6" font-weight="normal">Ctrl</text>
<line x1="1271" y1="99.7" x2="1294" y2="99.7" stroke="#b65bd9" stroke-width="2.2"/>
<rect x="1278" y="95.2" width="9" height="9" fill="#b65bd9"/>
<text x="1306.6" y="109.9" font-size="29.6" font-weight="normal">Osim</text>
<line x1="1271" y1="128.4" x2="1294" y2="128.4" stroke="#0000c4" stroke-width="2.2"/>
<polygon points="1278,132.5 1287,132.5 1282.5,124.4" fill="#0000c4"/>
<text x="1306.6" y="138.6" font-size="29.6" font-weight="normal">Combo</text>
<line x1="1271" y1="156.9" x2="1294" y2="156.9" stroke="#11966a" stroke-width="2.2"/>
<polygon points="1278,152.8 1287,152.8 1282.5,161" fill="#11966a"/>
<text x="1306.6" y="167.1" font-size="29.6" font-weight="normal">Soraf</text>
<text x="130.5" y="544.2" font-size="25">D</text>
<line x1="199.9" y1="554.8" x2="199.9" y2="1001" stroke="#000" stroke-width="3.5"/>
<line x1="191" y1="999.5" x2="618" y2="999.5" stroke="#000" stroke-width="3.5"/>
<line x1="191.3" y1="999.5" x2="199.9" y2="999.5" stroke="#000" stroke-width="3"/>
<text x="185.5" y="1008.4" font-size="24.5" text-anchor="end">0</text>
<line x1="191.3" y1="869" x2="199.9" y2="869" stroke="#000" stroke-width="3"/>
<text x="185.5" y="877.9" font-size="24.5" text-anchor="end">50</text>
<line x1="191.3" y1="738.5" x2="199.9" y2="738.5" stroke="#000" stroke-width="3"/>
<text x="185.5" y="747.4" font-size="24.5" text-anchor="end">100</text>
<line x1="191.3" y1="608" x2="199.9" y2="608" stroke="#000" stroke-width="3"/>
<text x="185.5" y="616.9" font-size="24.5" text-anchor="end">150</text>
<line x1="279.4" y1="999.5" x2="279.4" y2="1011" stroke="#000" stroke-width="3.2"/>
<line x1="404.8" y1="999.5" x2="404.8" y2="1011" stroke="#000" stroke-width="3.2"/>
<line x1="538.4" y1="999.5" x2="538.4" y2="1011" stroke="#000" stroke-width="3.2"/>
<text x="272.2" y="1040" font-size="25.2" text-anchor="middle">Osim</text>
<text x="404.1" y="1040" font-size="25.2" text-anchor="middle">Combo</text>
<text x="538.2" y="1040" font-size="25.2" text-anchor="middle">Soraf</text>
<text x="138.6" y="784.6" font-size="29" text-anchor="middle" transform="rotate(-90 138.6 784.6)">Fold enrichment</text>
<rect x="389.6" y="565.3" width="188" height="105.5" fill="#fff" stroke="#000" stroke-width="1.5"/>
<ellipse cx="425.7" cy="595" rx="8.6" ry="11.2" fill="#000"/>
<ellipse cx="425.7" cy="638.5" rx="8.6" ry="11.4" fill="#ff0000"/>
<text x="445.4" y="601" font-size="21.3">4 replicates</text>
<text x="445.4" y="645.3" font-size="21.3">3 replicates</text>
<ellipse cx="279.1" cy="693.6" rx="5.4" ry="7.3" fill="#ff0000"/>
<ellipse cx="279.1" cy="780.3" rx="5.4" ry="7.3" fill="#ff0000"/>
<ellipse cx="293.5" cy="777.2" rx="5.4" ry="7.3" fill="#ff0000"/>
<ellipse cx="293.5" cy="808.6" rx="5.4" ry="7.3" fill="#ff0000"/>
<ellipse cx="265" cy="817.2" rx="5.4" ry="7.3" fill="#ff0000"/>
<ellipse cx="279.1" cy="825.1" rx="5.4" ry="7.3" fill="#ff0000"/>
<ellipse cx="265" cy="843" rx="5.4" ry="7.3" fill="#ff0000"/>
<ellipse cx="279.1" cy="845.8" rx="5.4" ry="7.3" fill="#ff0000"/>
<ellipse cx="293.5" cy="844.1" rx="5.4" ry="7.3" fill="#ff0000"/>
<ellipse cx="308" cy="839.6" rx="5.4" ry="7.3" fill="#ff0000"/>
<ellipse cx="250.5" cy="870.9" rx="5.4" ry="7.3" fill="#ff0000"/>
<ellipse cx="265" cy="872.3" rx="5.4" ry="7.3" fill="#ff0000"/>
<ellipse cx="279.1" cy="877.8" rx="5.4" ry="7.3" fill="#ff0000"/>
<ellipse cx="293.5" cy="872.3" rx="5.4" ry="7.3" fill="#ff0000"/>
<ellipse cx="308" cy="866.4" rx="5.4" ry="7.3" fill="#ff0000"/>
<ellipse cx="322.5" cy="880.2" rx="5.4" ry="7.3" fill="#ff0000"/>
<ellipse cx="250.5" cy="884.3" rx="5.4" ry="7.3" fill="#ff0000"/>
<ellipse cx="265" cy="888.8" rx="5.4" ry="7.3" fill="#ff0000"/>
<ellipse cx="308" cy="888.1" rx="5.4" ry="7.3" fill="#ff0000"/>
<ellipse cx="236.4" cy="912.9" rx="5.4" ry="7.3" fill="#ff0000"/>
<ellipse cx="279.1" cy="899.2" rx="5.4" ry="7.3" fill="#ff0000"/>
<ellipse cx="293.5" cy="898.1" rx="5.4" ry="7.3" fill="#ff0000"/>
<ellipse cx="322.5" cy="904.3" rx="5.4" ry="7.3" fill="#ff0000"/>
<ellipse cx="250.7" cy="871.5" rx="5.4" ry="7.3" fill="#ff0000"/>
<ellipse cx="264.9" cy="872.8" rx="5.4" ry="7.3" fill="#ff0000"/>
<ellipse cx="279.4" cy="878.5" rx="5.4" ry="7.3" fill="#ff0000"/>
<ellipse cx="293.6" cy="872.8" rx="5.4" ry="7.3" fill="#ff0000"/>
<ellipse cx="307.9" cy="866.6" rx="5.4" ry="7.3" fill="#ff0000"/>
<ellipse cx="322.3" cy="880.4" rx="5.4" ry="7.3" fill="#ff0000"/>
<ellipse cx="250.7" cy="885.5" rx="5.4" ry="7.3" fill="#ff0000"/>
<ellipse cx="264.9" cy="889.1" rx="5.4" ry="7.3" fill="#ff0000"/>
<ellipse cx="279.4" cy="899.5" rx="5.4" ry="7.3" fill="#ff0000"/>
<ellipse cx="293.6" cy="898.3" rx="5.4" ry="7.3" fill="#ff0000"/>
<ellipse cx="307.9" cy="888.3" rx="5.4" ry="7.3" fill="#ff0000"/>
<ellipse cx="322.3" cy="905.3" rx="5.4" ry="7.3" fill="#ff0000"/>
<ellipse cx="236.4" cy="912.9" rx="5.4" ry="7.3" fill="#ff0000"/>
<ellipse cx="250.7" cy="917.4" rx="5.4" ry="7.3" fill="#ff0000"/>
<ellipse cx="250.7" cy="924.4" rx="5.4" ry="7.3" fill="#ff0000"/>
<ellipse cx="264.9" cy="921.9" rx="5.4" ry="7.3" fill="#ff0000"/>
<ellipse cx="264.9" cy="927" rx="5.4" ry="7.3" fill="#ff0000"/>
<ellipse cx="279.4" cy="923.1" rx="5.4" ry="7.3" fill="#ff0000"/>
<ellipse cx="293.6" cy="918" rx="5.4" ry="7.3" fill="#ff0000"/>
<ellipse cx="293.6" cy="930.5" rx="5.4" ry="7.3" fill="#ff0000"/>
<ellipse cx="307.9" cy="917.4" rx="5.4" ry="7.3" fill="#ff0000"/>
<ellipse cx="307.9" cy="926.3" rx="5.4" ry="7.3" fill="#ff0000"/>
<ellipse cx="258.1" cy="948" rx="5.4" ry="7.3" fill="#ff0000"/>
<ellipse cx="279.4" cy="944.2" rx="5.4" ry="7.3" fill="#ff0000"/>
<ellipse cx="297" cy="948" rx="5.4" ry="7.3" fill="#ff0000"/>
<ellipse cx="236.4" cy="959.5" rx="5.4" ry="7.3" fill="#ff0000"/>
<ellipse cx="250.7" cy="960.8" rx="5.4" ry="7.3" fill="#ff0000"/>
<ellipse cx="250.7" cy="965.9" rx="5.4" ry="7.3" fill="#ff0000"/>
<ellipse cx="264.9" cy="959.5" rx="5.4" ry="7.3" fill="#ff0000"/>
<ellipse cx="264.9" cy="964.6" rx="5.4" ry="7.3" fill="#ff0000"/>
<ellipse cx="279.4" cy="956.9" rx="5.4" ry="7.3" fill="#ff0000"/>
<ellipse cx="283.6" cy="954.4" rx="5.4" ry="7.3" fill="#ff0000"/>
<ellipse cx="287.4" cy="959.5" rx="5.4" ry="7.3" fill="#ff0000"/>
<ellipse cx="301.4" cy="956.9" rx="5.4" ry="7.3" fill="#ff0000"/>
<ellipse cx="307.9" cy="962" rx="5.4" ry="7.3" fill="#ff0000"/>
<ellipse cx="314.8" cy="956.9" rx="5.4" ry="7.3" fill="#ff0000"/>
<ellipse cx="322.3" cy="959.5" rx="5.4" ry="7.3" fill="#ff0000"/>
<ellipse cx="236.4" cy="982.4" rx="5.4" ry="7.3" fill="#ff0000"/>
<ellipse cx="250.7" cy="985.6" rx="5.4" ry="7.3" fill="#ff0000"/>
<ellipse cx="264.9" cy="987.6" rx="5.4" ry="7.3" fill="#ff0000"/>
<ellipse cx="279.4" cy="988.8" rx="5.4" ry="7.3" fill="#ff0000"/>
<ellipse cx="293.6" cy="988.8" rx="5.4" ry="7.3" fill="#ff0000"/>
<ellipse cx="307.9" cy="986.3" rx="5.4" ry="7.3" fill="#ff0000"/>
<ellipse cx="322.3" cy="985.6" rx="5.4" ry="7.3" fill="#ff0000"/>
<ellipse cx="232.6" cy="973.5" rx="5.4" ry="7.3" fill="#ff0000"/>
<ellipse cx="242.8" cy="974.8" rx="5.4" ry="7.3" fill="#ff0000"/>
<ellipse cx="258.1" cy="978.6" rx="5.4" ry="7.3" fill="#ff0000"/>
<ellipse cx="272.1" cy="974.8" rx="5.4" ry="7.3" fill="#ff0000"/>
<ellipse cx="286.1" cy="979.9" rx="5.4" ry="7.3" fill="#ff0000"/>
<ellipse cx="301.4" cy="978.6" rx="5.4" ry="7.3" fill="#ff0000"/>
<ellipse cx="315.5" cy="974.8" rx="5.4" ry="7.3" fill="#ff0000"/>
<ellipse cx="324.4" cy="974.8" rx="5.4" ry="7.3" fill="#ff0000"/>
<ellipse cx="230" cy="982.4" rx="5.4" ry="7.3" fill="#ff0000"/>
<ellipse cx="242.8" cy="986.3" rx="5.4" ry="7.3" fill="#ff0000"/>
<ellipse cx="258.1" cy="987.6" rx="5.4" ry="7.3" fill="#ff0000"/>
<ellipse cx="272.1" cy="986.3" rx="5.4" ry="7.3" fill="#ff0000"/>
<ellipse cx="286.1" cy="986.3" rx="5.4" ry="7.3" fill="#ff0000"/>
<ellipse cx="301.4" cy="987.6" rx="5.4" ry="7.3" fill="#ff0000"/>
<ellipse cx="316.7" cy="986.9" rx="5.4" ry="7.3" fill="#ff0000"/>
<ellipse cx="324.4" cy="982.4" rx="5.4" ry="7.3" fill="#ff0000"/>
<ellipse cx="246.6" cy="971" rx="5.4" ry="7.3" fill="#ff0000"/>
<ellipse cx="275.9" cy="968.4" rx="5.4" ry="7.3" fill="#ff0000"/>
<ellipse cx="307.8" cy="972.2" rx="5.4" ry="7.3" fill="#ff0000"/>
<ellipse cx="293.8" cy="969.7" rx="5.4" ry="7.3" fill="#ff0000"/>
<ellipse cx="319.3" cy="968.4" rx="5.4" ry="7.3" fill="#ff0000"/>
<ellipse cx="268.3" cy="969.7" rx="5.4" ry="7.3" fill="#ff0000"/>
<ellipse cx="255.5" cy="972.2" rx="5.4" ry="7.3" fill="#ff0000"/>
<ellipse cx="404.8" cy="827.5" rx="5.4" ry="7.3" fill="#ff0000"/>
<ellipse cx="391" cy="903.6" rx="5.4" ry="7.3" fill="#ff0000"/>
<ellipse cx="404.8" cy="893.3" rx="5.4" ry="7.3" fill="#ff0000"/>
<ellipse cx="419.6" cy="889.5" rx="5.4" ry="7.3" fill="#ff0000"/>
<ellipse cx="391" cy="928.4" rx="5.4" ry="7.3" fill="#ff0000"/>
<ellipse cx="404.8" cy="918.8" rx="5.4" ry="7.3" fill="#ff0000"/>
<ellipse cx="434.1" cy="921.5" rx="5.4" ry="7.3" fill="#ff0000"/>
<ellipse cx="391" cy="950.1" rx="5.4" ry="7.3" fill="#ff0000"/>
<ellipse cx="404.8" cy="939.8" rx="5.4" ry="7.3" fill="#ff0000"/>
<ellipse cx="419.6" cy="940.5" rx="5.4" ry="7.3" fill="#ff0000"/>
<ellipse cx="412.4" cy="950.8" rx="5.4" ry="7.3" fill="#ff0000"/>
<ellipse cx="362.4" cy="957.7" rx="5.4" ry="7.3" fill="#ff0000"/>
<ellipse cx="376.5" cy="965.3" rx="5.4" ry="7.3" fill="#ff0000"/>
<ellipse cx="391" cy="965.3" rx="5.4" ry="7.3" fill="#ff0000"/>
<ellipse cx="404.8" cy="966.3" rx="5.4" ry="7.3" fill="#ff0000"/>
<ellipse cx="419.6" cy="966.3" rx="5.4" ry="7.3" fill="#ff0000"/>
<ellipse cx="434.1" cy="961.8" rx="5.4" ry="7.3" fill="#ff0000"/>
<ellipse cx="448.5" cy="957" rx="5.4" ry="7.3" fill="#ff0000"/>
<ellipse cx="362.4" cy="980.1" rx="5.4" ry="7.3" fill="#ff0000"/>
<ellipse cx="376.5" cy="981.8" rx="5.4" ry="7.3" fill="#ff0000"/>
<ellipse cx="391" cy="984.6" rx="5.4" ry="7.3" fill="#ff0000"/>
<ellipse cx="404.8" cy="987" rx="5.4" ry="7.3" fill="#ff0000"/>
<ellipse cx="419.6" cy="984.6" rx="5.4" ry="7.3" fill="#ff0000"/>
<ellipse cx="434.1" cy="983.5" rx="5.4" ry="7.3" fill="#ff0000"/>
<ellipse cx="448.5" cy="980.1" rx="5.4" ry="7.3" fill="#ff0000"/>
<ellipse cx="397.9" cy="976.6" rx="5.4" ry="7.3" fill="#ff0000"/>
<ellipse cx="412.4" cy="978.4" rx="5.4" ry="7.3" fill="#ff0000"/>
<ellipse cx="427.2" cy="975.6" rx="5.4" ry="7.3" fill="#ff0000"/>
<ellipse cx="538.4" cy="813.8" rx="5.4" ry="7.3" fill="#ff0000"/>
<ellipse cx="524.3" cy="880.9" rx="5.4" ry="7.3" fill="#ff0000"/>
<ellipse cx="538.4" cy="886.1" rx="5.4" ry="7.3" fill="#ff0000"/>
<ellipse cx="552.9" cy="883.7" rx="5.4" ry="7.3" fill="#ff0000"/>
<ellipse cx="524.3" cy="902.6" rx="5.4" ry="7.3" fill="#ff0000"/>
<ellipse cx="509.8" cy="918.8" rx="5.4" ry="7.3" fill="#ff0000"/>
<ellipse cx="524.3" cy="923.3" rx="5.4" ry="7.3" fill="#ff0000"/>
<ellipse cx="538.4" cy="914.7" rx="5.4" ry="7.3" fill="#ff0000"/>
<ellipse cx="567.3" cy="919.1" rx="5.4" ry="7.3" fill="#ff0000"/>
<ellipse cx="538.4" cy="936" rx="5.4" ry="7.3" fill="#ff0000"/>
<ellipse cx="552.9" cy="930.8" rx="5.4" ry="7.3" fill="#ff0000"/>
<ellipse cx="524.3" cy="957.7" rx="5.4" ry="7.3" fill="#ff0000"/>
<ellipse cx="538.4" cy="959.4" rx="5.4" ry="7.3" fill="#ff0000"/>
<ellipse cx="502.2" cy="968.7" rx="5.4" ry="7.3" fill="#ff0000"/>
<ellipse cx="495.4" cy="982.5" rx="5.4" ry="7.3" fill="#ff0000"/>
<ellipse cx="509.8" cy="984.6" rx="5.4" ry="7.3" fill="#ff0000"/>
<ellipse cx="516.7" cy="974.9" rx="5.4" ry="7.3" fill="#ff0000"/>
<ellipse cx="524.3" cy="983.5" rx="5.4" ry="7.3" fill="#ff0000"/>
<ellipse cx="531.2" cy="980.1" rx="5.4" ry="7.3" fill="#ff0000"/>
<ellipse cx="538.4" cy="988.7" rx="5.4" ry="7.3" fill="#ff0000"/>
<ellipse cx="546" cy="981.8" rx="5.4" ry="7.3" fill="#ff0000"/>
<ellipse cx="552.9" cy="988.7" rx="5.4" ry="7.3" fill="#ff0000"/>
<ellipse cx="560.4" cy="975.6" rx="5.4" ry="7.3" fill="#ff0000"/>
<ellipse cx="567.3" cy="983.5" rx="5.4" ry="7.3" fill="#ff0000"/>
<ellipse cx="574.6" cy="974.9" rx="5.4" ry="7.3" fill="#ff0000"/>
<ellipse cx="581.5" cy="983.5" rx="5.4" ry="7.3" fill="#ff0000"/>
<ellipse cx="298.4" cy="567.9" rx="5.4" ry="7.3" fill="#000"/>
<ellipse cx="284.2" cy="584.4" rx="5.4" ry="7.3" fill="#000"/>
<ellipse cx="269.4" cy="729.7" rx="5.4" ry="7.3" fill="#000"/>
<ellipse cx="284.2" cy="736.3" rx="5.4" ry="7.3" fill="#000"/>
<ellipse cx="284.2" cy="825.1" rx="5.4" ry="7.3" fill="#000"/>
<ellipse cx="284.2" cy="861.3" rx="5.4" ry="7.3" fill="#000"/>
<ellipse cx="284" cy="862.6" rx="5.4" ry="7.3" fill="#000"/>
<ellipse cx="255.4" cy="896.4" rx="5.4" ry="7.3" fill="#000"/>
<ellipse cx="269.8" cy="909.1" rx="5.4" ry="7.3" fill="#000"/>
<ellipse cx="284" cy="916.1" rx="5.4" ry="7.3" fill="#000"/>
<ellipse cx="298.2" cy="914.2" rx="5.4" ry="7.3" fill="#000"/>
<ellipse cx="312.8" cy="904.6" rx="5.4" ry="7.3" fill="#000"/>
<ellipse cx="255.4" cy="949.3" rx="5.4" ry="7.3" fill="#000"/>
<ellipse cx="269.8" cy="954.1" rx="5.4" ry="7.3" fill="#000"/>
<ellipse cx="298.2" cy="951.8" rx="5.4" ry="7.3" fill="#000"/>
<ellipse cx="262.5" cy="969.4" rx="5.4" ry="7.3" fill="#000"/>
<ellipse cx="284" cy="964.6" rx="5.4" ry="7.3" fill="#000"/>
<ellipse cx="276.8" cy="972.2" rx="5.4" ry="7.3" fill="#000"/>
<ellipse cx="291.2" cy="975.4" rx="5.4" ry="7.3" fill="#000"/>
<ellipse cx="305.5" cy="970.3" rx="5.4" ry="7.3" fill="#000"/>
<ellipse cx="319.9" cy="967.5" rx="5.4" ry="7.3" fill="#000"/>
<ellipse cx="327.2" cy="977" rx="5.4" ry="7.3" fill="#000"/>
<ellipse cx="241.1" cy="977.1" rx="5.4" ry="7.3" fill="#000"/>
<ellipse cx="255.4" cy="981.2" rx="5.4" ry="7.3" fill="#000"/>
<ellipse cx="269.8" cy="983.1" rx="5.4" ry="7.3" fill="#000"/>
<ellipse cx="284" cy="985.6" rx="5.4" ry="7.3" fill="#000"/>
<ellipse cx="298.2" cy="985.4" rx="5.4" ry="7.3" fill="#000"/>
<ellipse cx="312.8" cy="983.1" rx="5.4" ry="7.3" fill="#000"/>
<ellipse cx="409.9" cy="937" rx="5.4" ry="7.3" fill="#000"/>
<ellipse cx="543.2" cy="965.3" rx="5.4" ry="7.3" fill="#000"/>
<text x="755" y="636.1" font-size="27">E</text>
<line x1="826.4" y1="634.3" x2="826.4" y2="986.2" stroke="#000" stroke-width="3.6"/>
<line x1="814.4" y1="984.2" x2="1154.6" y2="984.2" stroke="#000" stroke-width="3.6"/>
<line x1="814.4" y1="984.2" x2="826.4" y2="984.2" stroke="#000" stroke-width="3"/>
<text x="807.1" y="991.8" font-size="21.6" text-anchor="end">10</text>
<line x1="826.4" y1="984.2" x2="826.4" y2="991.7" stroke="#000" stroke-width="3"/>
<text x="826.4" y="1017.9" font-size="21.6" text-anchor="middle">10</text>
<line x1="814.4" y1="909.8" x2="826.4" y2="909.8" stroke="#000" stroke-width="3"/>
<text x="807.1" y="917.4" font-size="21.6" text-anchor="end">100</text>
<line x1="896.4" y1="984.2" x2="896.4" y2="991.7" stroke="#000" stroke-width="3"/>
<text x="896.4" y="1017.9" font-size="21.6" text-anchor="middle">100</text>
<line x1="814.4" y1="835.4" x2="826.4" y2="835.4" stroke="#000" stroke-width="3"/>
<text x="807.1" y="843" font-size="21.6" text-anchor="end">1000</text>
<line x1="966.4" y1="984.2" x2="966.4" y2="991.7" stroke="#000" stroke-width="3"/>
<text x="966.4" y="1017.9" font-size="21.6" text-anchor="middle">1000</text>
<line x1="814.4" y1="761" x2="826.4" y2="761" stroke="#000" stroke-width="3"/>
<text x="807.1" y="768.6" font-size="21.6" text-anchor="end">10000</text>
<line x1="1036.4" y1="984.2" x2="1036.4" y2="991.7" stroke="#000" stroke-width="3"/>
<text x="1036.4" y="1017.9" font-size="21.6" text-anchor="middle">10000</text>
<line x1="814.4" y1="686.6" x2="826.4" y2="686.6" stroke="#000" stroke-width="3"/>
<text x="807.1" y="694.2" font-size="21.6" text-anchor="end">100000</text>
<line x1="1106.4" y1="984.2" x2="1106.4" y2="991.7" stroke="#000" stroke-width="3"/>
<text x="1106.4" y="1017.9" font-size="21.6" text-anchor="middle">100000</text>
<text x="735.2" y="808.6" font-size="28" text-anchor="middle" transform="rotate(-90 735.2 808.6)">Osim</text>
<text x="998" y="1043.9" font-size="28.4" text-anchor="middle">Ctrl</text>
<circle cx="864.4" cy="929.2" r="5.3" fill="#001f5c"/>
<circle cx="865.1" cy="937.9" r="5.3" fill="#001f5c"/>
<circle cx="850.3" cy="948.1" r="5.3" fill="#001f5c"/>
<circle cx="893.2" cy="907" r="5.3" fill="#001f5c"/>
<circle cx="891.6" cy="910.7" r="5.3" fill="#001f5c"/>
<circle cx="878.1" cy="922.3" r="5.3" fill="#001f5c"/>
<circle cx="837.9" cy="945.6" r="5.3" fill="#001f5c"/>
<circle cx="874.7" cy="911.5" r="5.3" fill="#001f5c"/>
<circle cx="895.9" cy="913.6" r="5.3" fill="#001f5c"/>
<circle cx="836.9" cy="937.5" r="5.3" fill="#001f5c"/>
<circle cx="880.7" cy="929.5" r="5.3" fill="#001f5c"/>
<circle cx="876.3" cy="921.4" r="5.3" fill="#001f5c"/>
<circle cx="855.9" cy="922.2" r="5.3" fill="#001f5c"/>
<circle cx="881.5" cy="908.4" r="5.3" fill="#001f5c"/>
<circle cx="856.8" cy="949" r="5.3" fill="#001f5c"/>
<circle cx="862.6" cy="937.5" r="5.3" fill="#001f5c"/>
<circle cx="883.1" cy="917.8" r="5.3" fill="#001f5c"/>
<circle cx="860.4" cy="948.6" r="5.3" fill="#001f5c"/>
<circle cx="858.9" cy="925.5" r="5.3" fill="#001f5c"/>
<circle cx="852.8" cy="941" r="5.3" fill="#001f5c"/>
<circle cx="878.8" cy="940.5" r="5.3" fill="#001f5c"/>
<circle cx="870.8" cy="915.4" r="5.3" fill="#001f5c"/>
<circle cx="846.4" cy="952.2" r="5.3" fill="#001f5c"/>
<circle cx="855.9" cy="911" r="5.3" fill="#001f5c"/>
<circle cx="885.9" cy="910.6" r="5.3" fill="#001f5c"/>
<circle cx="870.3" cy="936.7" r="5.3" fill="#001f5c"/>
<circle cx="863.9" cy="935.1" r="5.3" fill="#001f5c"/>
<circle cx="852.2" cy="960.7" r="5.3" fill="#001f5c"/>
<circle cx="840.6" cy="963.2" r="5.3" fill="#001f5c"/>
<circle cx="860.3" cy="952.1" r="5.3" fill="#001f5c"/>
<circle cx="849.5" cy="952.2" r="5.3" fill="#001f5c"/>
<circle cx="896.9" cy="930.5" r="5.3" fill="#001f5c"/>
<circle cx="839.2" cy="951.5" r="5.3" fill="#001f5c"/>
<circle cx="900.1" cy="897.9" r="5.3" fill="#001f5c"/>
<circle cx="847.7" cy="970" r="5.3" fill="#001f5c"/>
<circle cx="846.3" cy="937.8" r="5.3" fill="#001f5c"/>
<circle cx="892.9" cy="910.2" r="5.3" fill="#001f5c"/>
<circle cx="875" cy="922" r="5.3" fill="#001f5c"/>
<circle cx="903.3" cy="894.1" r="5.3" fill="#001f5c"/>
<circle cx="880.7" cy="916.3" r="5.3" fill="#001f5c"/>
<circle cx="836.9" cy="941.7" r="5.3" fill="#001f5c"/>
<circle cx="889.9" cy="909.4" r="5.3" fill="#001f5c"/>
<circle cx="847.7" cy="954.8" r="5.3" fill="#001f5c"/>
<circle cx="880.9" cy="929" r="5.3" fill="#001f5c"/>
<circle cx="852.7" cy="938.5" r="5.3" fill="#001f5c"/>
<circle cx="909.2" cy="913.3" r="5.3" fill="#001f5c"/>
<circle cx="877.4" cy="919.3" r="5.3" fill="#001f5c"/>
<circle cx="871.5" cy="921.3" r="5.3" fill="#001f5c"/>
<circle cx="841.9" cy="950.7" r="5.3" fill="#001f5c"/>
<circle cx="869.6" cy="929.9" r="5.3" fill="#001f5c"/>
<circle cx="852.2" cy="939" r="5.3" fill="#001f5c"/>
<circle cx="845.9" cy="960.2" r="5.3" fill="#001f5c"/>
<circle cx="840.8" cy="954.4" r="5.3" fill="#001f5c"/>
<circle cx="866.7" cy="936.5" r="5.3" fill="#001f5c"/>
<circle cx="899.3" cy="916.7" r="5.3" fill="#001f5c"/>
<circle cx="896.3" cy="922.6" r="5.3" fill="#001f5c"/>
<circle cx="853.3" cy="936.4" r="5.3" fill="#001f5c"/>
<circle cx="893.5" cy="901.8" r="5.3" fill="#001f5c"/>
<circle cx="877" cy="923.6" r="5.3" fill="#001f5c"/>
<circle cx="873" cy="921.9" r="5.3" fill="#001f5c"/>
<circle cx="866.1" cy="930.5" r="5.3" fill="#001f5c"/>
<circle cx="881.8" cy="921.5" r="5.3" fill="#001f5c"/>
<circle cx="885.8" cy="912.2" r="5.3" fill="#001f5c"/>
<circle cx="912" cy="888.1" r="5.3" fill="#001f5c"/>
<circle cx="860.8" cy="941.8" r="5.3" fill="#001f5c"/>
<circle cx="869.5" cy="920.7" r="5.3" fill="#001f5c"/>
<circle cx="862.7" cy="931.9" r="5.3" fill="#001f5c"/>
<circle cx="908.4" cy="924.2" r="5.3" fill="#001f5c"/>
<circle cx="846.2" cy="946.1" r="5.3" fill="#001f5c"/>
<circle cx="878.2" cy="921.7" r="5.3" fill="#001f5c"/>
<circle cx="860.7" cy="930.4" r="5.3" fill="#001f5c"/>
<circle cx="875.7" cy="932" r="5.3" fill="#001f5c"/>
<circle cx="920.8" cy="878.4" r="5.3" fill="#001f5c"/>
<circle cx="858.2" cy="940.8" r="5.3" fill="#001f5c"/>
<circle cx="865.1" cy="935.1" r="5.3" fill="#001f5c"/>
<circle cx="848.3" cy="952.6" r="5.3" fill="#001f5c"/>
<circle cx="864.4" cy="943.1" r="5.3" fill="#001f5c"/>
<circle cx="861.3" cy="932.2" r="5.3" fill="#001f5c"/>
<circle cx="873.4" cy="941.7" r="5.3" fill="#001f5c"/>
<circle cx="873.2" cy="938" r="5.3" fill="#001f5c"/>
<circle cx="876.3" cy="905.7" r="5.3" fill="#001f5c"/>
<circle cx="910.7" cy="895.2" r="5.3" fill="#001f5c"/>
<circle cx="883.2" cy="939.9" r="5.3" fill="#001f5c"/>
<circle cx="868.8" cy="939.5" r="5.3" fill="#001f5c"/>
<circle cx="850.2" cy="946.9" r="5.3" fill="#001f5c"/>
<circle cx="874.7" cy="926.5" r="5.3" fill="#001f5c"/>
<circle cx="866.8" cy="924.5" r="5.3" fill="#001f5c"/>
<circle cx="851.2" cy="971.1" r="5.3" fill="#001f5c"/>
<circle cx="850" cy="937.3" r="5.3" fill="#001f5c"/>
<circle cx="889" cy="919" r="5.3" fill="#001f5c"/>
<circle cx="872.6" cy="920.8" r="5.3" fill="#001f5c"/>
<circle cx="874.5" cy="920.1" r="5.3" fill="#001f5c"/>
<circle cx="837.7" cy="972.1" r="5.3" fill="#001f5c"/>
<circle cx="882.7" cy="931.6" r="5.3" fill="#001f5c"/>
<circle cx="848.2" cy="963.7" r="5.3" fill="#001f5c"/>
<circle cx="896.4" cy="900" r="5.3" fill="#001f5c"/>
<circle cx="900.7" cy="914.2" r="5.3" fill="#001f5c"/>
<circle cx="869.8" cy="943.5" r="5.3" fill="#001f5c"/>
<circle cx="885.9" cy="900.7" r="5.3" fill="#001f5c"/>
<circle cx="851.1" cy="927.6" r="5.3" fill="#001f5c"/>
<circle cx="890.5" cy="916.5" r="5.3" fill="#001f5c"/>
<circle cx="846.3" cy="933" r="5.3" fill="#001f5c"/>
<circle cx="875.1" cy="921.6" r="5.3" fill="#001f5c"/>
<circle cx="896.3" cy="888.7" r="5.3" fill="#001f5c"/>
<circle cx="873.9" cy="933.5" r="5.3" fill="#001f5c"/>
<circle cx="897" cy="935.4" r="5.3" fill="#001f5c"/>
<circle cx="859.1" cy="947.6" r="5.3" fill="#001f5c"/>
<circle cx="859.2" cy="940.7" r="5.3" fill="#001f5c"/>
<circle cx="925.4" cy="874.8" r="5.3" fill="#001f5c"/>
<circle cx="854.7" cy="953.4" r="5.3" fill="#001f5c"/>
<circle cx="890.3" cy="919.6" r="5.3" fill="#001f5c"/>
<circle cx="897" cy="922.7" r="5.3" fill="#001f5c"/>
<circle cx="873.7" cy="919.5" r="5.3" fill="#001f5c"/>
<circle cx="865.6" cy="926" r="5.3" fill="#001f5c"/>
<circle cx="855.9" cy="945.9" r="5.3" fill="#001f5c"/>
<circle cx="860.1" cy="935.3" r="5.3" fill="#001f5c"/>
<circle cx="886.4" cy="923.7" r="5.3" fill="#001f5c"/>
<circle cx="843" cy="947.4" r="5.3" fill="#001f5c"/>
<circle cx="887.9" cy="923.5" r="5.3" fill="#001f5c"/>
<circle cx="891.3" cy="920.2" r="5.3" fill="#001f5c"/>
<circle cx="844.7" cy="952.6" r="5.3" fill="#001f5c"/>
<circle cx="892.3" cy="911.3" r="5.3" fill="#001f5c"/>
<circle cx="870.6" cy="929.3" r="5.3" fill="#001f5c"/>
<circle cx="873.7" cy="934.3" r="5.3" fill="#001f5c"/>
<circle cx="836.5" cy="953.2" r="5.3" fill="#001f5c"/>
<circle cx="852.3" cy="947.6" r="5.3" fill="#001f5c"/>
<circle cx="843.2" cy="952.7" r="5.3" fill="#001f5c"/>
<circle cx="871.9" cy="934.3" r="5.3" fill="#001f5c"/>
<circle cx="855.1" cy="945.2" r="5.3" fill="#001f5c"/>
<circle cx="863.7" cy="916.5" r="5.3" fill="#001f5c"/>
<circle cx="842.9" cy="952.1" r="5.3" fill="#001f5c"/>
<circle cx="872.7" cy="953.1" r="5.3" fill="#001f5c"/>
<circle cx="842.7" cy="946.1" r="5.3" fill="#001f5c"/>
<circle cx="844.7" cy="950.5" r="5.3" fill="#001f5c"/>
<circle cx="861.7" cy="948.4" r="5.3" fill="#001f5c"/>
<circle cx="846.4" cy="951.3" r="5.3" fill="#001f5c"/>
<circle cx="900.2" cy="910.5" r="5.3" fill="#001f5c"/>
<circle cx="905.6" cy="917.2" r="5.3" fill="#001f5c"/>
<circle cx="868.2" cy="917.7" r="5.3" fill="#001f5c"/>
<circle cx="907.5" cy="904" r="5.3" fill="#001f5c"/>
<circle cx="876.8" cy="921.1" r="5.3" fill="#001f5c"/>
<circle cx="862.2" cy="935" r="5.3" fill="#001f5c"/>
<circle cx="870.3" cy="926" r="5.3" fill="#001f5c"/>
<circle cx="852" cy="961.5" r="5.3" fill="#001f5c"/>
<circle cx="879.5" cy="927.2" r="5.3" fill="#001f5c"/>
<circle cx="863.3" cy="951.8" r="5.3" fill="#001f5c"/>
<circle cx="896.9" cy="889.7" r="5.3" fill="#001f5c"/>
<circle cx="884.3" cy="921.3" r="5.3" fill="#001f5c"/>
<circle cx="890" cy="918.4" r="5.3" fill="#001f5c"/>
<circle cx="847.9" cy="944.8" r="5.3" fill="#001f5c"/>
<circle cx="881.6" cy="911.7" r="5.3" fill="#001f5c"/>
<circle cx="850.8" cy="946.3" r="5.3" fill="#001f5c"/>
<circle cx="875.9" cy="916.8" r="5.3" fill="#001f5c"/>
<circle cx="869.1" cy="933.5" r="5.3" fill="#001f5c"/>
<circle cx="848.5" cy="951.1" r="5.3" fill="#001f5c"/>
<circle cx="888.5" cy="915.3" r="5.3" fill="#001f5c"/>
<circle cx="851.9" cy="953.9" r="5.3" fill="#001f5c"/>
<circle cx="925.8" cy="864.3" r="5.3" fill="#001f5c"/>
<circle cx="883.2" cy="949.4" r="5.3" fill="#001f5c"/>
<circle cx="882.9" cy="915.4" r="5.3" fill="#001f5c"/>
<circle cx="905.2" cy="894.2" r="5.3" fill="#001f5c"/>
<circle cx="868.4" cy="926" r="5.3" fill="#001f5c"/>
<circle cx="847.7" cy="936.2" r="5.3" fill="#001f5c"/>
<circle cx="869.2" cy="924.9" r="5.3" fill="#001f5c"/>
<circle cx="893.7" cy="918.3" r="5.3" fill="#001f5c"/>
<circle cx="867" cy="937.5" r="5.3" fill="#001f5c"/>
<circle cx="899.8" cy="898.7" r="5.3" fill="#001f5c"/>
<circle cx="862.5" cy="934.4" r="5.3" fill="#001f5c"/>
<circle cx="897.4" cy="913.2" r="5.3" fill="#001f5c"/>
<circle cx="872.6" cy="933" r="5.3" fill="#001f5c"/>
<circle cx="874.6" cy="930.3" r="5.3" fill="#001f5c"/>
<circle cx="884.8" cy="928.6" r="5.3" fill="#001f5c"/>
<circle cx="855.6" cy="929.6" r="5.3" fill="#001f5c"/>
<circle cx="884.7" cy="923.3" r="5.3" fill="#001f5c"/>
<circle cx="887.5" cy="907.3" r="5.3" fill="#001f5c"/>
<circle cx="870.5" cy="924.8" r="5.3" fill="#001f5c"/>
<circle cx="873.4" cy="925" r="5.3" fill="#001f5c"/>
<circle cx="875.2" cy="917.4" r="5.3" fill="#001f5c"/>
<circle cx="857.8" cy="922.2" r="5.3" fill="#001f5c"/>
<circle cx="863.7" cy="922.7" r="5.3" fill="#001f5c"/>
<circle cx="878.3" cy="915" r="5.3" fill="#001f5c"/>
<circle cx="885.6" cy="917.7" r="5.3" fill="#001f5c"/>
<circle cx="903.8" cy="898.7" r="5.3" fill="#001f5c"/>
<circle cx="856.9" cy="942.9" r="5.3" fill="#001f5c"/>
<circle cx="837.7" cy="951.2" r="5.3" fill="#001f5c"/>
<circle cx="879.2" cy="934.4" r="5.3" fill="#001f5c"/>
<circle cx="841.7" cy="951.6" r="5.3" fill="#001f5c"/>
<circle cx="837.8" cy="956" r="5.3" fill="#001f5c"/>
<circle cx="888.9" cy="917.2" r="5.3" fill="#001f5c"/>
<circle cx="886.1" cy="933.5" r="5.3" fill="#001f5c"/>
<circle cx="855.8" cy="950.1" r="5.3" fill="#001f5c"/>
<circle cx="865.8" cy="930.8" r="5.3" fill="#001f5c"/>
<circle cx="875.3" cy="923.4" r="5.3" fill="#001f5c"/>
<circle cx="868.9" cy="940" r="5.3" fill="#001f5c"/>
<circle cx="874.4" cy="923.2" r="5.3" fill="#001f5c"/>
<circle cx="892.8" cy="931.1" r="5.3" fill="#001f5c"/>
<circle cx="861.6" cy="945" r="5.3" fill="#001f5c"/>
<circle cx="870.7" cy="920.8" r="5.3" fill="#001f5c"/>
<circle cx="857.9" cy="938.2" r="5.3" fill="#001f5c"/>
<circle cx="854.3" cy="939.7" r="5.3" fill="#001f5c"/>
<circle cx="924.5" cy="885.5" r="5.3" fill="#001f5c"/>
<circle cx="854.8" cy="944.7" r="5.3" fill="#001f5c"/>
<circle cx="887.5" cy="919.3" r="5.3" fill="#001f5c"/>
<circle cx="869.2" cy="930.8" r="5.3" fill="#001f5c"/>
<circle cx="852.3" cy="935.6" r="5.3" fill="#001f5c"/>
<circle cx="855.7" cy="941.6" r="5.3" fill="#001f5c"/>
<circle cx="867.7" cy="932.4" r="5.3" fill="#001f5c"/>
<circle cx="869" cy="926.5" r="5.3" fill="#001f5c"/>
<circle cx="864.9" cy="932.6" r="5.3" fill="#001f5c"/>
<circle cx="887.5" cy="915.9" r="5.3" fill="#001f5c"/>
<circle cx="872.8" cy="913.7" r="5.3" fill="#001f5c"/>
<circle cx="845.4" cy="952.8" r="5.3" fill="#001f5c"/>
<circle cx="860.6" cy="960.2" r="5.3" fill="#001f5c"/>
<circle cx="855.5" cy="935.4" r="5.3" fill="#001f5c"/>
<circle cx="881.7" cy="922.3" r="5.3" fill="#001f5c"/>
<circle cx="864.9" cy="950.3" r="5.3" fill="#001f5c"/>
<circle cx="908.2" cy="890" r="5.3" fill="#001f5c"/>
<circle cx="892.8" cy="922" r="5.3" fill="#001f5c"/>
<circle cx="865.9" cy="954" r="5.3" fill="#001f5c"/>
<circle cx="886.2" cy="907.8" r="5.3" fill="#001f5c"/>
<circle cx="847.5" cy="948.4" r="5.3" fill="#001f5c"/>
<circle cx="882.6" cy="934" r="5.3" fill="#001f5c"/>
<circle cx="894.7" cy="920.7" r="5.3" fill="#001f5c"/>
<circle cx="864.5" cy="942.4" r="5.3" fill="#001f5c"/>
<circle cx="880.8" cy="921.2" r="5.3" fill="#001f5c"/>
<circle cx="863.5" cy="931.6" r="5.3" fill="#001f5c"/>
<circle cx="883.6" cy="932.4" r="5.3" fill="#001f5c"/>
<circle cx="849.3" cy="957.7" r="5.3" fill="#001f5c"/>
<circle cx="859.5" cy="950.3" r="5.3" fill="#001f5c"/>
<circle cx="907.3" cy="896.3" r="5.3" fill="#001f5c"/>
<circle cx="869.5" cy="944.2" r="5.3" fill="#001f5c"/>
<circle cx="839.7" cy="957.4" r="5.3" fill="#001f5c"/>
<circle cx="901.2" cy="895.9" r="5.3" fill="#001f5c"/>
<circle cx="869.7" cy="926.4" r="5.3" fill="#001f5c"/>
<circle cx="866.5" cy="915.3" r="5.3" fill="#001f5c"/>
<circle cx="879.4" cy="905.8" r="5.3" fill="#001f5c"/>
<circle cx="894" cy="912.8" r="5.3" fill="#001f5c"/>
<circle cx="852.1" cy="935.8" r="5.3" fill="#001f5c"/>
<circle cx="855.3" cy="959.3" r="5.3" fill="#001f5c"/>
<circle cx="847.4" cy="958.6" r="5.3" fill="#001f5c"/>
<circle cx="880.3" cy="919.8" r="5.3" fill="#001f5c"/>
<circle cx="868.9" cy="913" r="5.3" fill="#001f5c"/>
<circle cx="860.7" cy="924.1" r="5.3" fill="#001f5c"/>
<circle cx="877.2" cy="924.8" r="5.3" fill="#001f5c"/>
<circle cx="866.1" cy="917" r="5.3" fill="#001f5c"/>
<circle cx="858.6" cy="955" r="5.3" fill="#001f5c"/>
<circle cx="863.4" cy="922.7" r="5.3" fill="#001f5c"/>
<circle cx="846.8" cy="945.6" r="5.3" fill="#001f5c"/>
<circle cx="902.5" cy="885.8" r="5.3" fill="#001f5c"/>
<circle cx="888" cy="887.5" r="5.3" fill="#001f5c"/>
<circle cx="873.4" cy="928.8" r="5.3" fill="#001f5c"/>
<circle cx="849.8" cy="940.8" r="5.3" fill="#001f5c"/>
<circle cx="854" cy="940.1" r="5.3" fill="#001f5c"/>
<circle cx="882.5" cy="895" r="5.3" fill="#001f5c"/>
<circle cx="876.6" cy="911.3" r="5.3" fill="#001f5c"/>
<circle cx="885.9" cy="907.9" r="5.3" fill="#001f5c"/>
<circle cx="880.5" cy="924.3" r="5.3" fill="#001f5c"/>
<circle cx="880.5" cy="934.6" r="5.3" fill="#001f5c"/>
<circle cx="894.6" cy="921.6" r="5.3" fill="#001f5c"/>
<circle cx="875" cy="903.1" r="5.3" fill="#001f5c"/>
<circle cx="865.1" cy="934.1" r="5.3" fill="#001f5c"/>
<circle cx="894.2" cy="910.3" r="5.3" fill="#001f5c"/>
<circle cx="852.8" cy="940.8" r="5.3" fill="#001f5c"/>
<circle cx="882" cy="913.5" r="5.3" fill="#001f5c"/>
<circle cx="853.6" cy="923.6" r="5.3" fill="#001f5c"/>
<circle cx="904.8" cy="899.2" r="5.3" fill="#001f5c"/>
<circle cx="875.4" cy="931.2" r="5.3" fill="#001f5c"/>
<circle cx="899.5" cy="912.9" r="5.3" fill="#001f5c"/>
<circle cx="884" cy="925.3" r="5.3" fill="#001f5c"/>
<circle cx="855.2" cy="933.9" r="5.3" fill="#001f5c"/>
<circle cx="897.8" cy="906.9" r="5.3" fill="#001f5c"/>
<circle cx="855.6" cy="932.6" r="5.3" fill="#001f5c"/>
<circle cx="868.8" cy="928.1" r="5.3" fill="#001f5c"/>
<circle cx="901.8" cy="890" r="5.3" fill="#001f5c"/>
<circle cx="858.9" cy="913.6" r="5.3" fill="#001f5c"/>
<circle cx="869.9" cy="921.9" r="5.3" fill="#001f5c"/>
<circle cx="856.2" cy="941.7" r="5.3" fill="#001f5c"/>
<circle cx="848.6" cy="927.1" r="5.3" fill="#001f5c"/>
<circle cx="881.1" cy="936.7" r="5.3" fill="#001f5c"/>
<circle cx="912.5" cy="904.9" r="5.3" fill="#001f5c"/>
<circle cx="837.9" cy="960.6" r="5.3" fill="#001f5c"/>
<circle cx="902.3" cy="896.5" r="5.3" fill="#001f5c"/>
<circle cx="836.4" cy="950.7" r="5.3" fill="#001f5c"/>
<circle cx="859.2" cy="946.1" r="5.3" fill="#001f5c"/>
<circle cx="915.6" cy="880.2" r="5.3" fill="#001f5c"/>
<circle cx="886.3" cy="909" r="5.3" fill="#001f5c"/>
<circle cx="860" cy="930.4" r="5.3" fill="#001f5c"/>
<circle cx="865.8" cy="964.2" r="5.3" fill="#001f5c"/>
<circle cx="867.8" cy="916" r="5.3" fill="#001f5c"/>
<circle cx="861.4" cy="923.7" r="5.3" fill="#001f5c"/>
<circle cx="859.8" cy="934.3" r="5.3" fill="#001f5c"/>
<circle cx="877.4" cy="918.5" r="5.3" fill="#001f5c"/>
<circle cx="890.2" cy="922.1" r="5.3" fill="#001f5c"/>
<circle cx="878.4" cy="900.4" r="5.3" fill="#001f5c"/>
<circle cx="892.8" cy="912.5" r="5.3" fill="#001f5c"/>
<circle cx="878.6" cy="918.4" r="5.3" fill="#001f5c"/>
<circle cx="886" cy="912.9" r="5.3" fill="#001f5c"/>
<circle cx="882.9" cy="916.3" r="5.3" fill="#001f5c"/>
<circle cx="868.4" cy="917.4" r="5.3" fill="#001f5c"/>
<circle cx="896.3" cy="920.5" r="5.3" fill="#001f5c"/>
<circle cx="851.3" cy="938.9" r="5.3" fill="#001f5c"/>
<circle cx="849.6" cy="947.8" r="5.3" fill="#001f5c"/>
<circle cx="865.8" cy="930.4" r="5.3" fill="#001f5c"/>
<circle cx="860.3" cy="909.2" r="5.3" fill="#001f5c"/>
<circle cx="887.3" cy="908" r="5.3" fill="#001f5c"/>
<circle cx="841.1" cy="968.9" r="5.3" fill="#001f5c"/>
<circle cx="873.3" cy="919.4" r="5.3" fill="#001f5c"/>
<circle cx="870" cy="919.3" r="5.3" fill="#001f5c"/>
<circle cx="848.1" cy="938.1" r="5.3" fill="#001f5c"/>
<circle cx="872.9" cy="930.1" r="5.3" fill="#001f5c"/>
<circle cx="902.1" cy="898.7" r="5.3" fill="#001f5c"/>
<circle cx="888.7" cy="924" r="5.3" fill="#001f5c"/>
<circle cx="869.5" cy="931.1" r="5.3" fill="#001f5c"/>
<circle cx="847.8" cy="931.5" r="5.3" fill="#001f5c"/>
<circle cx="904.4" cy="923.4" r="5.3" fill="#001f5c"/>
<circle cx="869.9" cy="925.3" r="5.3" fill="#001f5c"/>
<circle cx="884.2" cy="908.5" r="5.3" fill="#001f5c"/>
<circle cx="849.1" cy="970.8" r="5.3" fill="#001f5c"/>
<circle cx="864.4" cy="950.7" r="5.3" fill="#001f5c"/>
<circle cx="872" cy="941.4" r="5.3" fill="#001f5c"/>
<circle cx="864.1" cy="936.1" r="5.3" fill="#001f5c"/>
<circle cx="872.9" cy="936.3" r="5.3" fill="#001f5c"/>
<circle cx="896.3" cy="916.2" r="5.3" fill="#001f5c"/>
<circle cx="866.2" cy="928" r="5.3" fill="#001f5c"/>
<circle cx="869.5" cy="915.1" r="5.3" fill="#001f5c"/>
<circle cx="866.5" cy="938.4" r="5.3" fill="#001f5c"/>
<circle cx="892.9" cy="906.2" r="5.3" fill="#001f5c"/>
<circle cx="851.7" cy="950.1" r="5.3" fill="#001f5c"/>
<circle cx="874.5" cy="912.2" r="5.3" fill="#001f5c"/>
<circle cx="887.6" cy="916.5" r="5.3" fill="#001f5c"/>
<circle cx="845.2" cy="942.7" r="5.3" fill="#001f5c"/>
<circle cx="887.6" cy="925.6" r="5.3" fill="#001f5c"/>
<circle cx="871.3" cy="921.2" r="5.3" fill="#001f5c"/>
<circle cx="901.6" cy="907.1" r="5.3" fill="#001f5c"/>
<circle cx="868.2" cy="929.7" r="5.3" fill="#001f5c"/>
<circle cx="838.3" cy="954.6" r="5.3" fill="#001f5c"/>
<circle cx="855.6" cy="937.5" r="5.3" fill="#001f5c"/>
<circle cx="846.1" cy="971" r="5.3" fill="#001f5c"/>
<circle cx="870.6" cy="927.2" r="5.3" fill="#001f5c"/>
<circle cx="858.3" cy="929.7" r="5.3" fill="#001f5c"/>
<circle cx="864.1" cy="941.9" r="5.3" fill="#001f5c"/>
<circle cx="879.8" cy="940.6" r="5.3" fill="#001f5c"/>
<circle cx="855.6" cy="941.9" r="5.3" fill="#001f5c"/>
<circle cx="887.6" cy="918.9" r="5.3" fill="#001f5c"/>
<circle cx="876.3" cy="933.1" r="5.3" fill="#001f5c"/>
<circle cx="876.1" cy="907.3" r="5.3" fill="#001f5c"/>
<circle cx="855.4" cy="915.4" r="5.3" fill="#001f5c"/>
<circle cx="856.3" cy="940.9" r="5.3" fill="#001f5c"/>
<circle cx="873.4" cy="916.5" r="5.3" fill="#001f5c"/>
<circle cx="843.8" cy="974.1" r="5.3" fill="#001f5c"/>
<circle cx="882.5" cy="912.1" r="5.3" fill="#001f5c"/>
<circle cx="882.9" cy="891.4" r="5.3" fill="#001f5c"/>
<circle cx="874.1" cy="924.6" r="5.3" fill="#001f5c"/>
<circle cx="889.3" cy="911.7" r="5.3" fill="#001f5c"/>
<circle cx="904.7" cy="913.3" r="5.3" fill="#001f5c"/>
<circle cx="861.9" cy="975.2" r="5.3" fill="#001f5c"/>
<circle cx="886.9" cy="921.9" r="5.3" fill="#001f5c"/>
<circle cx="889.2" cy="891.9" r="5.3" fill="#001f5c"/>
<circle cx="869.7" cy="933.7" r="5.3" fill="#001f5c"/>
<circle cx="859.3" cy="948.1" r="5.3" fill="#001f5c"/>
<circle cx="856.6" cy="933.7" r="5.3" fill="#001f5c"/>
<circle cx="870.6" cy="929.4" r="5.3" fill="#001f5c"/>
<circle cx="866.2" cy="923.3" r="5.3" fill="#001f5c"/>
<circle cx="880.2" cy="924.4" r="5.3" fill="#001f5c"/>
<circle cx="883.8" cy="921.8" r="5.3" fill="#001f5c"/>
<circle cx="845.6" cy="933" r="5.3" fill="#001f5c"/>
<circle cx="879.6" cy="934" r="5.3" fill="#001f5c"/>
<circle cx="892.5" cy="908.7" r="5.3" fill="#001f5c"/>
<circle cx="836.9" cy="937.9" r="5.3" fill="#001f5c"/>
<circle cx="876.8" cy="915.4" r="5.3" fill="#001f5c"/>
<circle cx="874" cy="929.2" r="5.3" fill="#001f5c"/>
<circle cx="837.3" cy="944.8" r="5.3" fill="#001f5c"/>
<circle cx="870.4" cy="933.5" r="5.3" fill="#001f5c"/>
<circle cx="877.2" cy="924.2" r="5.3" fill="#001f5c"/>
<circle cx="884" cy="924" r="5.3" fill="#001f5c"/>
<circle cx="869" cy="955.2" r="5.3" fill="#001f5c"/>
<circle cx="860.9" cy="930" r="5.3" fill="#001f5c"/>
<circle cx="897.9" cy="910.8" r="5.3" fill="#001f5c"/>
<circle cx="867.3" cy="915" r="5.3" fill="#001f5c"/>
<circle cx="863" cy="927.8" r="5.3" fill="#001f5c"/>
<circle cx="905" cy="898.7" r="5.3" fill="#001f5c"/>
<circle cx="895.6" cy="917.1" r="5.3" fill="#001f5c"/>
<circle cx="874.2" cy="928.3" r="5.3" fill="#001f5c"/>
<circle cx="872.2" cy="916.3" r="5.3" fill="#001f5c"/>
<circle cx="920" cy="890.7" r="5.3" fill="#001f5c"/>
<circle cx="857.7" cy="934.4" r="5.3" fill="#001f5c"/>
<circle cx="847.6" cy="942.2" r="5.3" fill="#001f5c"/>
<circle cx="881.8" cy="924.7" r="5.3" fill="#001f5c"/>
<circle cx="881" cy="939.5" r="5.3" fill="#001f5c"/>
<circle cx="885.8" cy="935.8" r="5.3" fill="#001f5c"/>
<circle cx="855.2" cy="948.2" r="5.3" fill="#001f5c"/>
<circle cx="861.4" cy="927.6" r="5.3" fill="#001f5c"/>
<circle cx="871.5" cy="933.9" r="5.3" fill="#001f5c"/>
<circle cx="881.2" cy="904.4" r="5.3" fill="#001f5c"/>
<circle cx="869.9" cy="926.6" r="5.3" fill="#001f5c"/>
<circle cx="895.8" cy="905.9" r="5.3" fill="#001f5c"/>
<circle cx="842.8" cy="923.6" r="5.3" fill="#001f5c"/>
<circle cx="916.2" cy="909.4" r="5.3" fill="#001f5c"/>
<circle cx="869" cy="926.7" r="5.3" fill="#001f5c"/>
<circle cx="890.1" cy="907.6" r="5.3" fill="#001f5c"/>
<circle cx="864.1" cy="946.9" r="5.3" fill="#001f5c"/>
<circle cx="872" cy="917.6" r="5.3" fill="#001f5c"/>
<circle cx="846.9" cy="959.7" r="5.3" fill="#001f5c"/>
<circle cx="869.3" cy="952.8" r="5.3" fill="#001f5c"/>
<circle cx="864.3" cy="939.8" r="5.3" fill="#001f5c"/>
<circle cx="879.3" cy="931.3" r="5.3" fill="#001f5c"/>
<circle cx="851.3" cy="949.3" r="5.3" fill="#001f5c"/>
<circle cx="868.8" cy="939" r="5.3" fill="#001f5c"/>
<circle cx="870.1" cy="922.2" r="5.3" fill="#001f5c"/>
<circle cx="894.7" cy="891.1" r="5.3" fill="#001f5c"/>
<circle cx="853.3" cy="948" r="5.3" fill="#001f5c"/>
<circle cx="843.3" cy="929.8" r="5.3" fill="#001f5c"/>
<circle cx="874.3" cy="907.2" r="5.3" fill="#001f5c"/>
<circle cx="837.6" cy="966.4" r="5.3" fill="#001f5c"/>
<circle cx="886.7" cy="937.2" r="5.3" fill="#001f5c"/>
<circle cx="875" cy="928.4" r="5.3" fill="#001f5c"/>
<circle cx="866.9" cy="927.5" r="5.3" fill="#001f5c"/>
<circle cx="890.7" cy="886.5" r="5.3" fill="#001f5c"/>
<circle cx="841.4" cy="965.3" r="5.3" fill="#001f5c"/>
<circle cx="885.1" cy="928.1" r="5.3" fill="#001f5c"/>
<circle cx="867.5" cy="913.2" r="5.3" fill="#001f5c"/>
<circle cx="879.2" cy="925.4" r="5.3" fill="#001f5c"/>
<circle cx="845.8" cy="958" r="5.3" fill="#001f5c"/>
<circle cx="873.9" cy="917.2" r="5.3" fill="#001f5c"/>
<circle cx="878.7" cy="918.1" r="5.3" fill="#001f5c"/>
<circle cx="868.9" cy="916.3" r="5.3" fill="#001f5c"/>
<circle cx="861.6" cy="943.2" r="5.3" fill="#001f5c"/>
<circle cx="888.5" cy="915.8" r="5.3" fill="#001f5c"/>
<circle cx="864" cy="941.7" r="5.3" fill="#001f5c"/>
<circle cx="864.4" cy="927.9" r="5.3" fill="#001f5c"/>
<circle cx="877.2" cy="938.6" r="5.3" fill="#001f5c"/>
<circle cx="878.8" cy="921.9" r="5.3" fill="#001f5c"/>
<circle cx="848.8" cy="938.2" r="5.3" fill="#001f5c"/>
<circle cx="863.9" cy="939" r="5.3" fill="#001f5c"/>
<circle cx="886.5" cy="903.2" r="5.3" fill="#001f5c"/>
<circle cx="855.3" cy="936.9" r="5.3" fill="#001f5c"/>
<circle cx="851.4" cy="919" r="5.3" fill="#001f5c"/>
<circle cx="859.4" cy="925.3" r="5.3" fill="#001f5c"/>
<circle cx="856.2" cy="932.1" r="5.3" fill="#001f5c"/>
<circle cx="916.4" cy="915.4" r="5.3" fill="#001f5c"/>
<circle cx="860.7" cy="932.1" r="5.3" fill="#001f5c"/>
<circle cx="867.8" cy="939.7" r="5.3" fill="#001f5c"/>
<circle cx="915" cy="887.7" r="5.3" fill="#001f5c"/>
<circle cx="841.9" cy="942.6" r="5.3" fill="#001f5c"/>
<circle cx="887.1" cy="925.8" r="5.3" fill="#001f5c"/>
<circle cx="871.7" cy="927.7" r="5.3" fill="#001f5c"/>
<circle cx="841.3" cy="957.6" r="5.3" fill="#001f5c"/>
<circle cx="877.5" cy="927.5" r="5.3" fill="#001f5c"/>
<circle cx="855.3" cy="949.3" r="5.3" fill="#001f5c"/>
<circle cx="858" cy="939.9" r="5.3" fill="#001f5c"/>
<circle cx="864.5" cy="921.6" r="5.3" fill="#001f5c"/>
<circle cx="878.8" cy="926.3" r="5.3" fill="#001f5c"/>
<circle cx="849.7" cy="944.9" r="5.3" fill="#001f5c"/>
<circle cx="873.4" cy="922.5" r="5.3" fill="#001f5c"/>
<circle cx="923.4" cy="890.3" r="5.3" fill="#001f5c"/>
<circle cx="862.9" cy="935.6" r="5.3" fill="#001f5c"/>
<circle cx="888.4" cy="921.5" r="5.3" fill="#001f5c"/>
<circle cx="893.9" cy="919.8" r="5.3" fill="#001f5c"/>
<circle cx="875.4" cy="932.3" r="5.3" fill="#001f5c"/>
<circle cx="873.1" cy="935.9" r="5.3" fill="#001f5c"/>
<circle cx="836.3" cy="944.2" r="5.3" fill="#001f5c"/>
<circle cx="876.2" cy="932.1" r="5.3" fill="#001f5c"/>
<circle cx="874" cy="916.5" r="5.3" fill="#001f5c"/>
<circle cx="849.3" cy="947.7" r="5.3" fill="#001f5c"/>
<circle cx="881.1" cy="916.2" r="5.3" fill="#001f5c"/>
<circle cx="862.8" cy="959.7" r="5.3" fill="#001f5c"/>
<circle cx="895.9" cy="905.2" r="5.3" fill="#001f5c"/>
<circle cx="870.1" cy="933.6" r="5.3" fill="#001f5c"/>
<circle cx="875.3" cy="931.3" r="5.3" fill="#001f5c"/>
<circle cx="848.3" cy="955.5" r="5.3" fill="#001f5c"/>
<circle cx="857.3" cy="947.2" r="5.3" fill="#001f5c"/>
<circle cx="845.5" cy="942.3" r="5.3" fill="#001f5c"/>
<circle cx="842.3" cy="944.4" r="5.3" fill="#001f5c"/>
<circle cx="848.5" cy="943.1" r="5.3" fill="#001f5c"/>
<circle cx="898.7" cy="903.6" r="5.3" fill="#001f5c"/>
<circle cx="854.5" cy="942" r="5.3" fill="#001f5c"/>
<circle cx="872.9" cy="947.7" r="5.3" fill="#001f5c"/>
<circle cx="857" cy="938.7" r="5.3" fill="#001f5c"/>
<circle cx="859.9" cy="937.4" r="5.3" fill="#001f5c"/>
<circle cx="885.2" cy="910.4" r="5.3" fill="#001f5c"/>
<circle cx="896.5" cy="919.1" r="5.3" fill="#001f5c"/>
<circle cx="892.5" cy="910.3" r="5.3" fill="#001f5c"/>
<circle cx="938.4" cy="853.3" r="5.3" fill="#001f5c"/>
<circle cx="949.3" cy="846.9" r="5.3" fill="#001f5c"/>
<circle cx="928.8" cy="866" r="5.3" fill="#001f5c"/>
<circle cx="918.5" cy="883" r="5.3" fill="#001f5c"/>
<circle cx="962.6" cy="828.6" r="5.3" fill="#001f5c"/>
<circle cx="966.1" cy="823.3" r="5.3" fill="#001f5c"/>
<circle cx="945.8" cy="855.1" r="5.3" fill="#001f5c"/>
<circle cx="965" cy="841.9" r="5.3" fill="#001f5c"/>
<circle cx="927.3" cy="859" r="5.3" fill="#001f5c"/>
<circle cx="902.1" cy="908.7" r="5.3" fill="#001f5c"/>
<circle cx="950.1" cy="849.9" r="5.3" fill="#001f5c"/>
<circle cx="916.4" cy="889.8" r="5.3" fill="#001f5c"/>
<circle cx="947.6" cy="845.7" r="5.3" fill="#001f5c"/>
<circle cx="910.6" cy="879.8" r="5.3" fill="#001f5c"/>
<circle cx="952.2" cy="844.4" r="5.3" fill="#001f5c"/>
<circle cx="960.2" cy="834.2" r="5.3" fill="#001f5c"/>
<circle cx="905.4" cy="901" r="5.3" fill="#001f5c"/>
<circle cx="914" cy="881.2" r="5.3" fill="#001f5c"/>
<circle cx="892.2" cy="912.2" r="5.3" fill="#001f5c"/>
<circle cx="961.5" cy="836.1" r="5.3" fill="#001f5c"/>
<circle cx="941.7" cy="857.6" r="5.3" fill="#001f5c"/>
<circle cx="949.8" cy="856.1" r="5.3" fill="#001f5c"/>
<circle cx="898.3" cy="919.5" r="5.3" fill="#001f5c"/>
<circle cx="917.1" cy="890.1" r="5.3" fill="#001f5c"/>
<circle cx="956.6" cy="856.2" r="5.3" fill="#001f5c"/>
<circle cx="957.4" cy="848.8" r="5.3" fill="#001f5c"/>
<circle cx="897.5" cy="896.9" r="5.3" fill="#001f5c"/>
<circle cx="919.8" cy="885.5" r="5.3" fill="#001f5c"/>
<circle cx="950.8" cy="854.3" r="5.3" fill="#001f5c"/>
<circle cx="933.9" cy="844.6" r="5.3" fill="#001f5c"/>
<circle cx="917.1" cy="886.9" r="5.3" fill="#001f5c"/>
<circle cx="903" cy="911.8" r="5.3" fill="#001f5c"/>
<circle cx="946.7" cy="841.6" r="5.3" fill="#001f5c"/>
<circle cx="908.9" cy="891.9" r="5.3" fill="#001f5c"/>
<circle cx="938.6" cy="853.9" r="5.3" fill="#001f5c"/>
<circle cx="940.5" cy="864" r="5.3" fill="#001f5c"/>
<circle cx="913.5" cy="889.5" r="5.3" fill="#001f5c"/>
<circle cx="900.9" cy="905" r="5.3" fill="#001f5c"/>
<circle cx="936.8" cy="876" r="5.3" fill="#001f5c"/>
<circle cx="958.4" cy="839.8" r="5.3" fill="#001f5c"/>
<circle cx="899.6" cy="904.7" r="5.3" fill="#001f5c"/>
<circle cx="891.1" cy="903.4" r="5.3" fill="#001f5c"/>
<circle cx="889.6" cy="919.5" r="5.3" fill="#001f5c"/>
<circle cx="916.9" cy="884.9" r="5.3" fill="#001f5c"/>
<circle cx="906.7" cy="908.5" r="5.3" fill="#001f5c"/>
<circle cx="905.1" cy="906.1" r="5.3" fill="#001f5c"/>
<circle cx="937.4" cy="870.6" r="5.3" fill="#001f5c"/>
<circle cx="961.5" cy="839.9" r="5.3" fill="#001f5c"/>
<circle cx="908.2" cy="895.1" r="5.3" fill="#001f5c"/>
<circle cx="938.5" cy="862" r="5.3" fill="#001f5c"/>
<circle cx="956.5" cy="844.2" r="5.3" fill="#001f5c"/>
<circle cx="909.7" cy="903.9" r="5.3" fill="#001f5c"/>
<circle cx="890.3" cy="922.9" r="5.3" fill="#001f5c"/>
<circle cx="916.4" cy="897.1" r="5.3" fill="#001f5c"/>
<circle cx="939.1" cy="882.9" r="5.3" fill="#001f5c"/>
<circle cx="945.9" cy="850.4" r="5.3" fill="#001f5c"/>
<circle cx="908.5" cy="894.8" r="5.3" fill="#001f5c"/>
<circle cx="930.3" cy="875.2" r="5.3" fill="#001f5c"/>
<circle cx="920.7" cy="883.8" r="5.3" fill="#001f5c"/>
<circle cx="949.4" cy="850.6" r="5.3" fill="#001f5c"/>
<circle cx="890.4" cy="935.1" r="5.3" fill="#001f5c"/>
<circle cx="900.4" cy="911.9" r="5.3" fill="#001f5c"/>
<circle cx="904.8" cy="908.7" r="5.3" fill="#001f5c"/>
<circle cx="938.8" cy="871" r="5.3" fill="#001f5c"/>
<circle cx="952" cy="847.4" r="5.3" fill="#001f5c"/>
<circle cx="912.5" cy="886.3" r="5.3" fill="#001f5c"/>
<circle cx="893.1" cy="902" r="5.3" fill="#001f5c"/>
<circle cx="944.5" cy="868.1" r="5.3" fill="#001f5c"/>
<circle cx="889.9" cy="909" r="5.3" fill="#001f5c"/>
<circle cx="925.2" cy="890.6" r="5.3" fill="#001f5c"/>
<circle cx="946.5" cy="862.3" r="5.3" fill="#001f5c"/>
<circle cx="897.5" cy="906.9" r="5.3" fill="#001f5c"/>
<circle cx="907.3" cy="890.9" r="5.3" fill="#001f5c"/>
<circle cx="947.1" cy="854.1" r="5.3" fill="#001f5c"/>
<circle cx="942.9" cy="852.9" r="5.3" fill="#001f5c"/>
<circle cx="909.9" cy="906.4" r="5.3" fill="#001f5c"/>
<circle cx="932" cy="885.5" r="5.3" fill="#001f5c"/>
<circle cx="929.7" cy="868.6" r="5.3" fill="#001f5c"/>
<circle cx="909.8" cy="909.1" r="5.3" fill="#001f5c"/>
<circle cx="906.1" cy="916.4" r="5.3" fill="#001f5c"/>
<circle cx="957.2" cy="838.7" r="5.3" fill="#001f5c"/>
<circle cx="907.6" cy="897.3" r="5.3" fill="#001f5c"/>
<circle cx="946.7" cy="843.3" r="5.3" fill="#001f5c"/>
<circle cx="914.6" cy="895.2" r="5.3" fill="#001f5c"/>
<circle cx="957.2" cy="848.1" r="5.3" fill="#001f5c"/>
<circle cx="959.3" cy="837.5" r="5.3" fill="#001f5c"/>
<circle cx="938" cy="870" r="5.3" fill="#001f5c"/>
<circle cx="964.8" cy="848.7" r="5.3" fill="#001f5c"/>
<circle cx="925.6" cy="871.9" r="5.3" fill="#001f5c"/>
<circle cx="955.4" cy="858" r="5.3" fill="#001f5c"/>
<circle cx="923.1" cy="883.2" r="5.3" fill="#001f5c"/>
<circle cx="913.1" cy="902.8" r="5.3" fill="#001f5c"/>
<circle cx="905.7" cy="902.3" r="5.3" fill="#001f5c"/>
<circle cx="959.5" cy="845" r="5.3" fill="#001f5c"/>
<circle cx="900.5" cy="901.5" r="5.3" fill="#001f5c"/>
<circle cx="960.9" cy="840.5" r="5.3" fill="#001f5c"/>
<circle cx="916" cy="887.7" r="5.3" fill="#001f5c"/>
<circle cx="892.6" cy="912.3" r="5.3" fill="#001f5c"/>
<circle cx="942.7" cy="869.2" r="5.3" fill="#001f5c"/>
<circle cx="946.1" cy="866.6" r="5.3" fill="#001f5c"/>
<circle cx="894.5" cy="918.6" r="5.3" fill="#001f5c"/>
<circle cx="952.4" cy="854.6" r="5.3" fill="#001f5c"/>
<circle cx="952.5" cy="847.8" r="5.3" fill="#001f5c"/>
<circle cx="956.2" cy="848.2" r="5.3" fill="#001f5c"/>
<circle cx="959.8" cy="838.7" r="5.3" fill="#001f5c"/>
<circle cx="905.2" cy="901.8" r="5.3" fill="#001f5c"/>
<circle cx="898" cy="892.2" r="5.3" fill="#001f5c"/>
<circle cx="951.9" cy="847.3" r="5.3" fill="#001f5c"/>
<circle cx="938.2" cy="860" r="5.3" fill="#001f5c"/>
<circle cx="911.5" cy="904.3" r="5.3" fill="#001f5c"/>
<circle cx="897.1" cy="897.6" r="5.3" fill="#001f5c"/>
<circle cx="905.2" cy="892.3" r="5.3" fill="#001f5c"/>
<circle cx="914" cy="892.6" r="5.3" fill="#001f5c"/>
<circle cx="909.2" cy="895.4" r="5.3" fill="#001f5c"/>
<circle cx="911.2" cy="895.8" r="5.3" fill="#001f5c"/>
<circle cx="914.1" cy="898.8" r="5.3" fill="#001f5c"/>
<circle cx="963.6" cy="854.7" r="5.3" fill="#001f5c"/>
<circle cx="937" cy="867" r="5.3" fill="#001f5c"/>
<circle cx="891.8" cy="922.4" r="5.3" fill="#001f5c"/>
<circle cx="948.9" cy="849.3" r="5.3" fill="#001f5c"/>
<circle cx="916.1" cy="891.8" r="5.3" fill="#001f5c"/>
<circle cx="906.1" cy="909.5" r="5.3" fill="#001f5c"/>
<circle cx="955.8" cy="833.6" r="5.3" fill="#001f5c"/>
<circle cx="902.5" cy="894.9" r="5.3" fill="#001f5c"/>
<circle cx="889.5" cy="912.9" r="5.3" fill="#001f5c"/>
<circle cx="964.7" cy="823.7" r="5.3" fill="#001f5c"/>
<circle cx="889.7" cy="926.6" r="5.3" fill="#001f5c"/>
<circle cx="950.8" cy="851.5" r="5.3" fill="#001f5c"/>
<circle cx="974.8" cy="831.3" r="5.3" fill="#001f5c"/>
<circle cx="1004.2" cy="795" r="5.3" fill="#001f5c"/>
<circle cx="978.3" cy="818.8" r="5.3" fill="#001f5c"/>
<circle cx="976.2" cy="826.5" r="5.3" fill="#001f5c"/>
<circle cx="998.2" cy="804.1" r="5.3" fill="#001f5c"/>
<circle cx="995.4" cy="804.6" r="5.3" fill="#001f5c"/>
<circle cx="970.1" cy="829.6" r="5.3" fill="#001f5c"/>
<circle cx="1002.2" cy="805.2" r="5.3" fill="#001f5c"/>
<circle cx="995" cy="808.3" r="5.3" fill="#001f5c"/>
<circle cx="984.4" cy="812.2" r="5.3" fill="#001f5c"/>
<circle cx="1006.9" cy="783" r="5.3" fill="#001f5c"/>
<circle cx="967.5" cy="828.6" r="5.3" fill="#001f5c"/>
<circle cx="975.8" cy="826.4" r="5.3" fill="#001f5c"/>
<circle cx="989.2" cy="800" r="5.3" fill="#001f5c"/>
<circle cx="983.7" cy="814.2" r="5.3" fill="#001f5c"/>
<circle cx="987.4" cy="815.6" r="5.3" fill="#001f5c"/>
<circle cx="990.6" cy="809.4" r="5.3" fill="#001f5c"/>
<circle cx="995.8" cy="812.9" r="5.3" fill="#001f5c"/>
<circle cx="982.3" cy="819.9" r="5.3" fill="#001f5c"/>
<circle cx="1004.8" cy="791.9" r="5.3" fill="#001f5c"/>
<circle cx="996.5" cy="803.5" r="5.3" fill="#001f5c"/>
<circle cx="986.4" cy="817.4" r="5.3" fill="#001f5c"/>
<circle cx="1001.6" cy="800.4" r="5.3" fill="#001f5c"/>
<circle cx="987.4" cy="814.3" r="5.3" fill="#001f5c"/>
<circle cx="1006.7" cy="792.3" r="5.3" fill="#001f5c"/>
<circle cx="980.1" cy="817.4" r="5.3" fill="#001f5c"/>
<circle cx="998.4" cy="799.7" r="5.3" fill="#001f5c"/>
<circle cx="973.5" cy="830.4" r="5.3" fill="#001f5c"/>
<circle cx="977.7" cy="826.4" r="5.3" fill="#001f5c"/>
<circle cx="973.7" cy="822" r="5.3" fill="#001f5c"/>
<circle cx="981.3" cy="814.3" r="5.3" fill="#001f5c"/>
<circle cx="999.6" cy="787" r="5.3" fill="#001f5c"/>
<circle cx="971" cy="828.1" r="5.3" fill="#001f5c"/>
<circle cx="983.9" cy="817.4" r="5.3" fill="#001f5c"/>
<circle cx="1011.2" cy="785.5" r="5.3" fill="#001f5c"/>
<circle cx="986.2" cy="822.5" r="5.3" fill="#001f5c"/>
<circle cx="975.3" cy="827.5" r="5.3" fill="#001f5c"/>
<circle cx="975.8" cy="827.3" r="5.3" fill="#001f5c"/>
<circle cx="984.1" cy="811.5" r="5.3" fill="#001f5c"/>
<circle cx="1002.4" cy="796" r="5.3" fill="#001f5c"/>
<circle cx="998" cy="809.2" r="5.3" fill="#001f5c"/>
<circle cx="987.5" cy="813" r="5.3" fill="#001f5c"/>
<circle cx="972.9" cy="832.8" r="5.3" fill="#001f5c"/>
<circle cx="1000.1" cy="802.8" r="5.3" fill="#001f5c"/>
<circle cx="1007.7" cy="797.6" r="5.3" fill="#001f5c"/>
<circle cx="1132.3" cy="664.3" r="5.3" fill="#001f5c"/>
<circle cx="1099.4" cy="686.6" r="5.3" fill="#001f5c"/>
<circle cx="1060.9" cy="733.5" r="5.3" fill="#001f5c"/>
<circle cx="1040.6" cy="752.8" r="5.3" fill="#001f5c"/>
<circle cx="1034.3" cy="758" r="5.3" fill="#001f5c"/>
<circle cx="1030.8" cy="777.4" r="5.3" fill="#001f5c"/>
<circle cx="1032.9" cy="776.6" r="5.3" fill="#001f5c"/>
<circle cx="1010.5" cy="787.8" r="5.3" fill="#001f5c"/>
<circle cx="1004.9" cy="784.8" r="5.3" fill="#001f5c"/>
<circle cx="997.9" cy="798.2" r="5.3" fill="#001f5c"/>
<circle cx="1001.4" cy="805.6" r="5.3" fill="#001f5c"/>
<circle cx="843.9" cy="975.3" r="5.3" fill="#001f5c"/>
<circle cx="850.9" cy="976.8" r="5.3" fill="#001f5c"/>
<circle cx="868.4" cy="975.3" r="5.3" fill="#001f5c"/>
<circle cx="854.4" cy="880" r="5.3" fill="#001f5c"/>
<circle cx="864.9" cy="872.6" r="5.3" fill="#001f5c"/>
<circle cx="881" cy="861.4" r="5.3" fill="#001f5c"/>
<circle cx="885.2" cy="859.2" r="5.3" fill="#001f5c"/>
<circle cx="899.9" cy="863.7" r="5.3" fill="#001f5c"/>
<circle cx="892.9" cy="883.8" r="5.3" fill="#001f5c"/>
<circle cx="880.3" cy="885.2" r="5.3" fill="#001f5c"/>
<circle cx="843.9" cy="903.8" r="5.3" fill="#001f5c"/>
<circle cx="868.4" cy="902.4" r="5.3" fill="#001f5c"/>
<circle cx="905.5" cy="935.8" r="5.3" fill="#001f5c"/>
<circle cx="934.9" cy="840.6" r="5.3" fill="#001f5c"/>
<circle cx="931.4" cy="842.8" r="5.3" fill="#001f5c"/>
<circle cx="955.9" cy="835.4" r="5.3" fill="#001f5c"/>
<circle cx="938.4" cy="842.8" r="5.3" fill="#001f5c"/>
<circle cx="966.4" cy="846.6" r="5.3" fill="#001f5c"/>
<circle cx="962.9" cy="820.5" r="5.3" fill="#001f5c"/>
<circle cx="973.4" cy="820.5" r="5.3" fill="#001f5c"/>
<circle cx="980.4" cy="824.2" r="5.3" fill="#001f5c"/>
<text x="836.2" y="664.3" font-size="25">R<tspan dy="-9" font-size="16">2</tspan><tspan dy="9">=0,990</tspan></text>
<line x1="1282.4" y1="630.6" x2="1282.4" y2="980.7" stroke="#000" stroke-width="3.6"/>
<line x1="1270.4" y1="978.7" x2="1610.6" y2="978.7" stroke="#000" stroke-width="3.6"/>
<line x1="1270.4" y1="978.7" x2="1282.4" y2="978.7" stroke="#000" stroke-width="3"/>
<text x="1263.1" y="986.3" font-size="21.6" text-anchor="end">10</text>
<line x1="1282.4" y1="978.7" x2="1282.4" y2="986.2" stroke="#000" stroke-width="3"/>
<text x="1282.4" y="1011.7" font-size="21.6" text-anchor="middle">10</text>
<line x1="1270.4" y1="904.5" x2="1282.4" y2="904.5" stroke="#000" stroke-width="3"/>
<text x="1263.1" y="912.1" font-size="21.6" text-anchor="end">100</text>
<line x1="1352.2" y1="978.7" x2="1352.2" y2="986.2" stroke="#000" stroke-width="3"/>
<text x="1352.2" y="1011.7" font-size="21.6" text-anchor="middle">100</text>
<line x1="1270.4" y1="830.3" x2="1282.4" y2="830.3" stroke="#000" stroke-width="3"/>
<text x="1263.1" y="837.9" font-size="21.6" text-anchor="end">1000</text>
<line x1="1422" y1="978.7" x2="1422" y2="986.2" stroke="#000" stroke-width="3"/>
<text x="1422" y="1011.7" font-size="21.6" text-anchor="middle">1000</text>
<line x1="1270.4" y1="756.1" x2="1282.4" y2="756.1" stroke="#000" stroke-width="3"/>
<text x="1263.1" y="763.7" font-size="21.6" text-anchor="end">10000</text>
<line x1="1491.8" y1="978.7" x2="1491.8" y2="986.2" stroke="#000" stroke-width="3"/>
<text x="1491.8" y="1011.7" font-size="21.6" text-anchor="middle">10000</text>
<line x1="1270.4" y1="681.9" x2="1282.4" y2="681.9" stroke="#000" stroke-width="3"/>
<text x="1263.1" y="689.5" font-size="21.6" text-anchor="end">100000</text>
<line x1="1561.6" y1="978.7" x2="1561.6" y2="986.2" stroke="#000" stroke-width="3"/>
<text x="1561.6" y="1011.7" font-size="21.6" text-anchor="middle">100000</text>
<text x="1190.6" y="807.4" font-size="25" text-anchor="middle" transform="rotate(-90 1190.6 807.4)">Combo</text>
<text x="1452" y="1036.2" font-size="28.4" text-anchor="middle">Ctrl</text>
<circle cx="1300" cy="942.2" r="5.3" fill="#001f5c"/>
<circle cx="1346.5" cy="912.9" r="5.3" fill="#001f5c"/>
<circle cx="1297.8" cy="947.2" r="5.3" fill="#001f5c"/>
<circle cx="1335.7" cy="909.6" r="5.3" fill="#001f5c"/>
<circle cx="1300.2" cy="954.5" r="5.3" fill="#001f5c"/>
<circle cx="1340.5" cy="910.6" r="5.3" fill="#001f5c"/>
<circle cx="1357.8" cy="889.8" r="5.3" fill="#001f5c"/>
<circle cx="1323.5" cy="929.1" r="5.3" fill="#001f5c"/>
<circle cx="1379.5" cy="876.1" r="5.3" fill="#001f5c"/>
<circle cx="1309.2" cy="946.4" r="5.3" fill="#001f5c"/>
<circle cx="1327.7" cy="922.8" r="5.3" fill="#001f5c"/>
<circle cx="1318.5" cy="931.4" r="5.3" fill="#001f5c"/>
<circle cx="1331.4" cy="915.9" r="5.3" fill="#001f5c"/>
<circle cx="1348.6" cy="905.2" r="5.3" fill="#001f5c"/>
<circle cx="1299.4" cy="940.3" r="5.3" fill="#001f5c"/>
<circle cx="1310" cy="944.1" r="5.3" fill="#001f5c"/>
<circle cx="1313.6" cy="941.7" r="5.3" fill="#001f5c"/>
<circle cx="1312.8" cy="909.8" r="5.3" fill="#001f5c"/>
<circle cx="1365.8" cy="889" r="5.3" fill="#001f5c"/>
<circle cx="1320.9" cy="935.3" r="5.3" fill="#001f5c"/>
<circle cx="1327.9" cy="917.6" r="5.3" fill="#001f5c"/>
<circle cx="1358" cy="891.5" r="5.3" fill="#001f5c"/>
<circle cx="1292.8" cy="942.1" r="5.3" fill="#001f5c"/>
<circle cx="1304" cy="929.8" r="5.3" fill="#001f5c"/>
<circle cx="1340" cy="914.4" r="5.3" fill="#001f5c"/>
<circle cx="1345.6" cy="914.5" r="5.3" fill="#001f5c"/>
<circle cx="1346.6" cy="909.9" r="5.3" fill="#001f5c"/>
<circle cx="1352.1" cy="898.5" r="5.3" fill="#001f5c"/>
<circle cx="1328.6" cy="928.9" r="5.3" fill="#001f5c"/>
<circle cx="1341.8" cy="909.6" r="5.3" fill="#001f5c"/>
<circle cx="1360.1" cy="897.5" r="5.3" fill="#001f5c"/>
<circle cx="1337.3" cy="912.7" r="5.3" fill="#001f5c"/>
<circle cx="1331.6" cy="919.3" r="5.3" fill="#001f5c"/>
<circle cx="1329.5" cy="926.9" r="5.3" fill="#001f5c"/>
<circle cx="1304.4" cy="944.6" r="5.3" fill="#001f5c"/>
<circle cx="1338" cy="904.7" r="5.3" fill="#001f5c"/>
<circle cx="1346.1" cy="901.6" r="5.3" fill="#001f5c"/>
<circle cx="1342" cy="907.8" r="5.3" fill="#001f5c"/>
<circle cx="1329.5" cy="916.7" r="5.3" fill="#001f5c"/>
<circle cx="1362.8" cy="894.2" r="5.3" fill="#001f5c"/>
<circle cx="1311.1" cy="922" r="5.3" fill="#001f5c"/>
<circle cx="1330.8" cy="914.3" r="5.3" fill="#001f5c"/>
<circle cx="1344" cy="919.8" r="5.3" fill="#001f5c"/>
<circle cx="1376.6" cy="863.9" r="5.3" fill="#001f5c"/>
<circle cx="1329.4" cy="917" r="5.3" fill="#001f5c"/>
<circle cx="1328.3" cy="929.9" r="5.3" fill="#001f5c"/>
<circle cx="1323.3" cy="924.4" r="5.3" fill="#001f5c"/>
<circle cx="1349" cy="901.1" r="5.3" fill="#001f5c"/>
<circle cx="1326.9" cy="914.4" r="5.3" fill="#001f5c"/>
<circle cx="1309.7" cy="931.7" r="5.3" fill="#001f5c"/>
<circle cx="1349" cy="908.6" r="5.3" fill="#001f5c"/>
<circle cx="1294.7" cy="955.8" r="5.3" fill="#001f5c"/>
<circle cx="1351.6" cy="890.3" r="5.3" fill="#001f5c"/>
<circle cx="1332.2" cy="925.5" r="5.3" fill="#001f5c"/>
<circle cx="1338.4" cy="904.4" r="5.3" fill="#001f5c"/>
<circle cx="1338.6" cy="917.3" r="5.3" fill="#001f5c"/>
<circle cx="1366.9" cy="892.1" r="5.3" fill="#001f5c"/>
<circle cx="1308.2" cy="943.4" r="5.3" fill="#001f5c"/>
<circle cx="1330.4" cy="920.6" r="5.3" fill="#001f5c"/>
<circle cx="1340.7" cy="915.2" r="5.3" fill="#001f5c"/>
<circle cx="1321.1" cy="934.4" r="5.3" fill="#001f5c"/>
<circle cx="1338.3" cy="924.7" r="5.3" fill="#001f5c"/>
<circle cx="1322.2" cy="923.6" r="5.3" fill="#001f5c"/>
<circle cx="1324.2" cy="929.3" r="5.3" fill="#001f5c"/>
<circle cx="1329.3" cy="913.2" r="5.3" fill="#001f5c"/>
<circle cx="1343" cy="920.3" r="5.3" fill="#001f5c"/>
<circle cx="1316.9" cy="915.9" r="5.3" fill="#001f5c"/>
<circle cx="1326.8" cy="923.3" r="5.3" fill="#001f5c"/>
<circle cx="1322.9" cy="919.5" r="5.3" fill="#001f5c"/>
<circle cx="1337.8" cy="914.4" r="5.3" fill="#001f5c"/>
<circle cx="1307.1" cy="932.5" r="5.3" fill="#001f5c"/>
<circle cx="1339.1" cy="909.9" r="5.3" fill="#001f5c"/>
<circle cx="1371.2" cy="896" r="5.3" fill="#001f5c"/>
<circle cx="1308" cy="948.4" r="5.3" fill="#001f5c"/>
<circle cx="1315.7" cy="935.1" r="5.3" fill="#001f5c"/>
<circle cx="1329.6" cy="922.1" r="5.3" fill="#001f5c"/>
<circle cx="1353.2" cy="908.1" r="5.3" fill="#001f5c"/>
<circle cx="1329.9" cy="922.5" r="5.3" fill="#001f5c"/>
<circle cx="1309.9" cy="943.9" r="5.3" fill="#001f5c"/>
<circle cx="1323.4" cy="933.6" r="5.3" fill="#001f5c"/>
<circle cx="1334" cy="919.1" r="5.3" fill="#001f5c"/>
<circle cx="1292.9" cy="954" r="5.3" fill="#001f5c"/>
<circle cx="1353.4" cy="908.9" r="5.3" fill="#001f5c"/>
<circle cx="1315" cy="946.2" r="5.3" fill="#001f5c"/>
<circle cx="1342.5" cy="916.1" r="5.3" fill="#001f5c"/>
<circle cx="1307.8" cy="953.7" r="5.3" fill="#001f5c"/>
<circle cx="1340.7" cy="919.5" r="5.3" fill="#001f5c"/>
<circle cx="1336.2" cy="931.7" r="5.3" fill="#001f5c"/>
<circle cx="1299.4" cy="950.1" r="5.3" fill="#001f5c"/>
<circle cx="1305.2" cy="934.4" r="5.3" fill="#001f5c"/>
<circle cx="1319" cy="932.4" r="5.3" fill="#001f5c"/>
<circle cx="1304.5" cy="959.7" r="5.3" fill="#001f5c"/>
<circle cx="1322.8" cy="934.9" r="5.3" fill="#001f5c"/>
<circle cx="1323.1" cy="937.1" r="5.3" fill="#001f5c"/>
<circle cx="1293.3" cy="945" r="5.3" fill="#001f5c"/>
<circle cx="1325.7" cy="927.2" r="5.3" fill="#001f5c"/>
<circle cx="1306.4" cy="945.2" r="5.3" fill="#001f5c"/>
<circle cx="1329.7" cy="910.9" r="5.3" fill="#001f5c"/>
<circle cx="1296.8" cy="947.3" r="5.3" fill="#001f5c"/>
<circle cx="1339.8" cy="917.3" r="5.3" fill="#001f5c"/>
<circle cx="1343.4" cy="911.4" r="5.3" fill="#001f5c"/>
<circle cx="1319.5" cy="934.6" r="5.3" fill="#001f5c"/>
<circle cx="1347.7" cy="893.7" r="5.3" fill="#001f5c"/>
<circle cx="1313.6" cy="941.4" r="5.3" fill="#001f5c"/>
<circle cx="1340.2" cy="918.5" r="5.3" fill="#001f5c"/>
<circle cx="1318.7" cy="935" r="5.3" fill="#001f5c"/>
<circle cx="1304.9" cy="935.6" r="5.3" fill="#001f5c"/>
<circle cx="1340.7" cy="918.9" r="5.3" fill="#001f5c"/>
<circle cx="1309.8" cy="940.7" r="5.3" fill="#001f5c"/>
<circle cx="1341.8" cy="906.5" r="5.3" fill="#001f5c"/>
<circle cx="1346.9" cy="921" r="5.3" fill="#001f5c"/>
<circle cx="1313.3" cy="952.5" r="5.3" fill="#001f5c"/>
<circle cx="1323.5" cy="922.6" r="5.3" fill="#001f5c"/>
<circle cx="1309.7" cy="935.8" r="5.3" fill="#001f5c"/>
<circle cx="1330.5" cy="914.2" r="5.3" fill="#001f5c"/>
<circle cx="1308.5" cy="944.7" r="5.3" fill="#001f5c"/>
<circle cx="1309.7" cy="924.6" r="5.3" fill="#001f5c"/>
<circle cx="1348.5" cy="907.9" r="5.3" fill="#001f5c"/>
<circle cx="1330.4" cy="920.9" r="5.3" fill="#001f5c"/>
<circle cx="1329.9" cy="923.7" r="5.3" fill="#001f5c"/>
<circle cx="1318.7" cy="940.1" r="5.3" fill="#001f5c"/>
<circle cx="1312.2" cy="923.4" r="5.3" fill="#001f5c"/>
<circle cx="1336.9" cy="916.3" r="5.3" fill="#001f5c"/>
<circle cx="1321.2" cy="928.4" r="5.3" fill="#001f5c"/>
<circle cx="1333.1" cy="924.5" r="5.3" fill="#001f5c"/>
<circle cx="1329.8" cy="920.5" r="5.3" fill="#001f5c"/>
<circle cx="1310" cy="943.2" r="5.3" fill="#001f5c"/>
<circle cx="1304.8" cy="949.3" r="5.3" fill="#001f5c"/>
<circle cx="1344.3" cy="928.6" r="5.3" fill="#001f5c"/>
<circle cx="1320.1" cy="934.2" r="5.3" fill="#001f5c"/>
<circle cx="1312.7" cy="934.6" r="5.3" fill="#001f5c"/>
<circle cx="1349.3" cy="905.5" r="5.3" fill="#001f5c"/>
<circle cx="1322.7" cy="932.2" r="5.3" fill="#001f5c"/>
<circle cx="1323" cy="920.7" r="5.3" fill="#001f5c"/>
<circle cx="1317.4" cy="940.2" r="5.3" fill="#001f5c"/>
<circle cx="1299.2" cy="953.9" r="5.3" fill="#001f5c"/>
<circle cx="1296.6" cy="939.5" r="5.3" fill="#001f5c"/>
<circle cx="1333.1" cy="921.5" r="5.3" fill="#001f5c"/>
<circle cx="1356.2" cy="903.6" r="5.3" fill="#001f5c"/>
<circle cx="1341.4" cy="907.4" r="5.3" fill="#001f5c"/>
<circle cx="1293.3" cy="961.7" r="5.3" fill="#001f5c"/>
<circle cx="1306.3" cy="933.5" r="5.3" fill="#001f5c"/>
<circle cx="1352.8" cy="911.5" r="5.3" fill="#001f5c"/>
<circle cx="1347.6" cy="910.7" r="5.3" fill="#001f5c"/>
<circle cx="1317.4" cy="935.8" r="5.3" fill="#001f5c"/>
<circle cx="1318.9" cy="944.1" r="5.3" fill="#001f5c"/>
<circle cx="1304.7" cy="950.6" r="5.3" fill="#001f5c"/>
<circle cx="1335.9" cy="902" r="5.3" fill="#001f5c"/>
<circle cx="1382.9" cy="872.9" r="5.3" fill="#001f5c"/>
<circle cx="1296.6" cy="950.6" r="5.3" fill="#001f5c"/>
<circle cx="1360.5" cy="902.1" r="5.3" fill="#001f5c"/>
<circle cx="1320.6" cy="926.7" r="5.3" fill="#001f5c"/>
<circle cx="1301" cy="940.9" r="5.3" fill="#001f5c"/>
<circle cx="1328.4" cy="931.8" r="5.3" fill="#001f5c"/>
<circle cx="1363.2" cy="888.9" r="5.3" fill="#001f5c"/>
<circle cx="1360.2" cy="889.3" r="5.3" fill="#001f5c"/>
<circle cx="1334.5" cy="912.7" r="5.3" fill="#001f5c"/>
<circle cx="1328.4" cy="927.3" r="5.3" fill="#001f5c"/>
<circle cx="1340.7" cy="906.7" r="5.3" fill="#001f5c"/>
<circle cx="1319" cy="944.5" r="5.3" fill="#001f5c"/>
<circle cx="1306.9" cy="956.4" r="5.3" fill="#001f5c"/>
<circle cx="1293.4" cy="949.3" r="5.3" fill="#001f5c"/>
<circle cx="1330.3" cy="913" r="5.3" fill="#001f5c"/>
<circle cx="1317.2" cy="920.3" r="5.3" fill="#001f5c"/>
<circle cx="1309.3" cy="944.8" r="5.3" fill="#001f5c"/>
<circle cx="1340.6" cy="921.9" r="5.3" fill="#001f5c"/>
<circle cx="1317.9" cy="924.6" r="5.3" fill="#001f5c"/>
<circle cx="1351" cy="917.4" r="5.3" fill="#001f5c"/>
<circle cx="1336.3" cy="903.3" r="5.3" fill="#001f5c"/>
<circle cx="1350.7" cy="906.4" r="5.3" fill="#001f5c"/>
<circle cx="1313.1" cy="937.2" r="5.3" fill="#001f5c"/>
<circle cx="1301.5" cy="945.8" r="5.3" fill="#001f5c"/>
<circle cx="1321.8" cy="929.5" r="5.3" fill="#001f5c"/>
<circle cx="1350.4" cy="906.6" r="5.3" fill="#001f5c"/>
<circle cx="1295.2" cy="941" r="5.3" fill="#001f5c"/>
<circle cx="1303.2" cy="945.9" r="5.3" fill="#001f5c"/>
<circle cx="1322.9" cy="930.1" r="5.3" fill="#001f5c"/>
<circle cx="1304.7" cy="943.3" r="5.3" fill="#001f5c"/>
<circle cx="1371.4" cy="887.1" r="5.3" fill="#001f5c"/>
<circle cx="1322.8" cy="919.2" r="5.3" fill="#001f5c"/>
<circle cx="1341.3" cy="907.8" r="5.3" fill="#001f5c"/>
<circle cx="1343.7" cy="926.2" r="5.3" fill="#001f5c"/>
<circle cx="1307.6" cy="938.3" r="5.3" fill="#001f5c"/>
<circle cx="1336.1" cy="907.8" r="5.3" fill="#001f5c"/>
<circle cx="1335.5" cy="919.6" r="5.3" fill="#001f5c"/>
<circle cx="1326.5" cy="926.3" r="5.3" fill="#001f5c"/>
<circle cx="1330.8" cy="916.4" r="5.3" fill="#001f5c"/>
<circle cx="1318.6" cy="936.9" r="5.3" fill="#001f5c"/>
<circle cx="1307.8" cy="931" r="5.3" fill="#001f5c"/>
<circle cx="1352.5" cy="895.3" r="5.3" fill="#001f5c"/>
<circle cx="1343.6" cy="905.5" r="5.3" fill="#001f5c"/>
<circle cx="1325.6" cy="920.5" r="5.3" fill="#001f5c"/>
<circle cx="1303.6" cy="943.8" r="5.3" fill="#001f5c"/>
<circle cx="1310.3" cy="931.8" r="5.3" fill="#001f5c"/>
<circle cx="1313.5" cy="935.5" r="5.3" fill="#001f5c"/>
<circle cx="1334.1" cy="908.9" r="5.3" fill="#001f5c"/>
<circle cx="1309.1" cy="945.1" r="5.3" fill="#001f5c"/>
<circle cx="1342.8" cy="920.5" r="5.3" fill="#001f5c"/>
<circle cx="1335.1" cy="922.4" r="5.3" fill="#001f5c"/>
<circle cx="1323.5" cy="940.6" r="5.3" fill="#001f5c"/>
<circle cx="1340.6" cy="917.7" r="5.3" fill="#001f5c"/>
<circle cx="1306.9" cy="924.4" r="5.3" fill="#001f5c"/>
<circle cx="1340.6" cy="888" r="5.3" fill="#001f5c"/>
<circle cx="1334.2" cy="921.4" r="5.3" fill="#001f5c"/>
<circle cx="1327.9" cy="911.7" r="5.3" fill="#001f5c"/>
<circle cx="1325.1" cy="922.5" r="5.3" fill="#001f5c"/>
<circle cx="1336.5" cy="923.9" r="5.3" fill="#001f5c"/>
<circle cx="1328.4" cy="927.1" r="5.3" fill="#001f5c"/>
<circle cx="1299.6" cy="938.9" r="5.3" fill="#001f5c"/>
<circle cx="1339.6" cy="914.2" r="5.3" fill="#001f5c"/>
<circle cx="1306.7" cy="954.8" r="5.3" fill="#001f5c"/>
<circle cx="1335.8" cy="918.3" r="5.3" fill="#001f5c"/>
<circle cx="1299.2" cy="946.1" r="5.3" fill="#001f5c"/>
<circle cx="1320.3" cy="933.9" r="5.3" fill="#001f5c"/>
<circle cx="1334.6" cy="917" r="5.3" fill="#001f5c"/>
<circle cx="1351.5" cy="901.6" r="5.3" fill="#001f5c"/>
<circle cx="1298.6" cy="947" r="5.3" fill="#001f5c"/>
<circle cx="1333.8" cy="915.4" r="5.3" fill="#001f5c"/>
<circle cx="1337.1" cy="903" r="5.3" fill="#001f5c"/>
<circle cx="1373.5" cy="881.4" r="5.3" fill="#001f5c"/>
<circle cx="1331.9" cy="919.2" r="5.3" fill="#001f5c"/>
<circle cx="1347.9" cy="910" r="5.3" fill="#001f5c"/>
<circle cx="1327.4" cy="930.7" r="5.3" fill="#001f5c"/>
<circle cx="1301" cy="942.4" r="5.3" fill="#001f5c"/>
<circle cx="1300" cy="940.8" r="5.3" fill="#001f5c"/>
<circle cx="1358.1" cy="895.8" r="5.3" fill="#001f5c"/>
<circle cx="1333.1" cy="923.6" r="5.3" fill="#001f5c"/>
<circle cx="1292.8" cy="947.1" r="5.3" fill="#001f5c"/>
<circle cx="1314.2" cy="931.4" r="5.3" fill="#001f5c"/>
<circle cx="1338.4" cy="908" r="5.3" fill="#001f5c"/>
<circle cx="1369.8" cy="882.8" r="5.3" fill="#001f5c"/>
<circle cx="1336.1" cy="928.4" r="5.3" fill="#001f5c"/>
<circle cx="1344.6" cy="918.9" r="5.3" fill="#001f5c"/>
<circle cx="1302.3" cy="937.6" r="5.3" fill="#001f5c"/>
<circle cx="1303.4" cy="943" r="5.3" fill="#001f5c"/>
<circle cx="1323.3" cy="910.9" r="5.3" fill="#001f5c"/>
<circle cx="1324.4" cy="939.2" r="5.3" fill="#001f5c"/>
<circle cx="1334.1" cy="925.9" r="5.3" fill="#001f5c"/>
<circle cx="1360" cy="904" r="5.3" fill="#001f5c"/>
<circle cx="1313.5" cy="946.6" r="5.3" fill="#001f5c"/>
<circle cx="1327.7" cy="931.4" r="5.3" fill="#001f5c"/>
<circle cx="1324.3" cy="929.2" r="5.3" fill="#001f5c"/>
<circle cx="1312.8" cy="928.2" r="5.3" fill="#001f5c"/>
<circle cx="1345.3" cy="909.9" r="5.3" fill="#001f5c"/>
<circle cx="1306.8" cy="947.8" r="5.3" fill="#001f5c"/>
<circle cx="1331.3" cy="903.3" r="5.3" fill="#001f5c"/>
<circle cx="1316.1" cy="938.5" r="5.3" fill="#001f5c"/>
<circle cx="1311.1" cy="944.7" r="5.3" fill="#001f5c"/>
<circle cx="1305.3" cy="942.5" r="5.3" fill="#001f5c"/>
<circle cx="1355.7" cy="899.3" r="5.3" fill="#001f5c"/>
<circle cx="1315" cy="945.6" r="5.3" fill="#001f5c"/>
<circle cx="1330.1" cy="922.2" r="5.3" fill="#001f5c"/>
<circle cx="1300" cy="953.1" r="5.3" fill="#001f5c"/>
<circle cx="1324.8" cy="918.6" r="5.3" fill="#001f5c"/>
<circle cx="1338.8" cy="913.8" r="5.3" fill="#001f5c"/>
<circle cx="1318.9" cy="928.2" r="5.3" fill="#001f5c"/>
<circle cx="1325.4" cy="909.5" r="5.3" fill="#001f5c"/>
<circle cx="1302" cy="946.3" r="5.3" fill="#001f5c"/>
<circle cx="1352.2" cy="905" r="5.3" fill="#001f5c"/>
<circle cx="1355.5" cy="899.8" r="5.3" fill="#001f5c"/>
<circle cx="1328.7" cy="925.8" r="5.3" fill="#001f5c"/>
<circle cx="1296.8" cy="954.7" r="5.3" fill="#001f5c"/>
<circle cx="1372.1" cy="877.1" r="5.3" fill="#001f5c"/>
<circle cx="1338.4" cy="908.6" r="5.3" fill="#001f5c"/>
<circle cx="1337.6" cy="908.7" r="5.3" fill="#001f5c"/>
<circle cx="1320.1" cy="931.3" r="5.3" fill="#001f5c"/>
<circle cx="1346.3" cy="911.9" r="5.3" fill="#001f5c"/>
<circle cx="1297.8" cy="948.4" r="5.3" fill="#001f5c"/>
<circle cx="1314.3" cy="929.6" r="5.3" fill="#001f5c"/>
<circle cx="1310.6" cy="944.8" r="5.3" fill="#001f5c"/>
<circle cx="1318.7" cy="919.2" r="5.3" fill="#001f5c"/>
<circle cx="1324.7" cy="925" r="5.3" fill="#001f5c"/>
<circle cx="1325.9" cy="923.1" r="5.3" fill="#001f5c"/>
<circle cx="1345.1" cy="900.2" r="5.3" fill="#001f5c"/>
<circle cx="1302.6" cy="932.9" r="5.3" fill="#001f5c"/>
<circle cx="1385.3" cy="860.9" r="5.3" fill="#001f5c"/>
<circle cx="1333.4" cy="920.5" r="5.3" fill="#001f5c"/>
<circle cx="1344.1" cy="915.7" r="5.3" fill="#001f5c"/>
<circle cx="1295.6" cy="945.6" r="5.3" fill="#001f5c"/>
<circle cx="1302.3" cy="945.9" r="5.3" fill="#001f5c"/>
<circle cx="1303.6" cy="938.2" r="5.3" fill="#001f5c"/>
<circle cx="1317.4" cy="933.9" r="5.3" fill="#001f5c"/>
<circle cx="1309.3" cy="943.7" r="5.3" fill="#001f5c"/>
<circle cx="1327.6" cy="921.6" r="5.3" fill="#001f5c"/>
<circle cx="1315.1" cy="934.2" r="5.3" fill="#001f5c"/>
<circle cx="1296.6" cy="943.8" r="5.3" fill="#001f5c"/>
<circle cx="1310" cy="935.8" r="5.3" fill="#001f5c"/>
<circle cx="1306.7" cy="943.8" r="5.3" fill="#001f5c"/>
<circle cx="1330.2" cy="930.9" r="5.3" fill="#001f5c"/>
<circle cx="1377.4" cy="876.5" r="5.3" fill="#001f5c"/>
<circle cx="1324.2" cy="932" r="5.3" fill="#001f5c"/>
<circle cx="1359.1" cy="885.4" r="5.3" fill="#001f5c"/>
<circle cx="1331.9" cy="930.7" r="5.3" fill="#001f5c"/>
<circle cx="1315.1" cy="928.9" r="5.3" fill="#001f5c"/>
<circle cx="1315" cy="942.4" r="5.3" fill="#001f5c"/>
<circle cx="1300.8" cy="950.2" r="5.3" fill="#001f5c"/>
<circle cx="1326" cy="930" r="5.3" fill="#001f5c"/>
<circle cx="1326.1" cy="904.4" r="5.3" fill="#001f5c"/>
<circle cx="1362.8" cy="899.4" r="5.3" fill="#001f5c"/>
<circle cx="1332.9" cy="919.2" r="5.3" fill="#001f5c"/>
<circle cx="1322.8" cy="919.9" r="5.3" fill="#001f5c"/>
<circle cx="1318.7" cy="933.1" r="5.3" fill="#001f5c"/>
<circle cx="1317.8" cy="932.1" r="5.3" fill="#001f5c"/>
<circle cx="1352.6" cy="896.8" r="5.3" fill="#001f5c"/>
<circle cx="1297.6" cy="950.2" r="5.3" fill="#001f5c"/>
<circle cx="1309" cy="932.1" r="5.3" fill="#001f5c"/>
<circle cx="1330.4" cy="915.2" r="5.3" fill="#001f5c"/>
<circle cx="1324.4" cy="940.6" r="5.3" fill="#001f5c"/>
<circle cx="1335.1" cy="916.5" r="5.3" fill="#001f5c"/>
<circle cx="1336.3" cy="926.9" r="5.3" fill="#001f5c"/>
<circle cx="1327.4" cy="929.2" r="5.3" fill="#001f5c"/>
<circle cx="1311.3" cy="933.8" r="5.3" fill="#001f5c"/>
<circle cx="1333.1" cy="926.4" r="5.3" fill="#001f5c"/>
<circle cx="1296.7" cy="965.9" r="5.3" fill="#001f5c"/>
<circle cx="1292.6" cy="954.4" r="5.3" fill="#001f5c"/>
<circle cx="1345.1" cy="914.3" r="5.3" fill="#001f5c"/>
<circle cx="1319.2" cy="927.9" r="5.3" fill="#001f5c"/>
<circle cx="1331.7" cy="922.9" r="5.3" fill="#001f5c"/>
<circle cx="1349.1" cy="901.6" r="5.3" fill="#001f5c"/>
<circle cx="1294" cy="948.6" r="5.3" fill="#001f5c"/>
<circle cx="1314.7" cy="921.5" r="5.3" fill="#001f5c"/>
<circle cx="1338.6" cy="913.2" r="5.3" fill="#001f5c"/>
<circle cx="1321.1" cy="931.5" r="5.3" fill="#001f5c"/>
<circle cx="1314.5" cy="922.7" r="5.3" fill="#001f5c"/>
<circle cx="1319.8" cy="935.6" r="5.3" fill="#001f5c"/>
<circle cx="1338" cy="910.5" r="5.3" fill="#001f5c"/>
<circle cx="1322.7" cy="934.7" r="5.3" fill="#001f5c"/>
<circle cx="1350" cy="897.5" r="5.3" fill="#001f5c"/>
<circle cx="1305.3" cy="948" r="5.3" fill="#001f5c"/>
<circle cx="1344.9" cy="914.8" r="5.3" fill="#001f5c"/>
<circle cx="1331.5" cy="926.9" r="5.3" fill="#001f5c"/>
<circle cx="1317" cy="925.2" r="5.3" fill="#001f5c"/>
<circle cx="1366.4" cy="894.2" r="5.3" fill="#001f5c"/>
<circle cx="1325.9" cy="918.2" r="5.3" fill="#001f5c"/>
<circle cx="1312.5" cy="930.2" r="5.3" fill="#001f5c"/>
<circle cx="1309.2" cy="933.5" r="5.3" fill="#001f5c"/>
<circle cx="1334.8" cy="909.4" r="5.3" fill="#001f5c"/>
<circle cx="1333.3" cy="928.4" r="5.3" fill="#001f5c"/>
<circle cx="1339.6" cy="922.9" r="5.3" fill="#001f5c"/>
<circle cx="1341.4" cy="902.2" r="5.3" fill="#001f5c"/>
<circle cx="1338.2" cy="920" r="5.3" fill="#001f5c"/>
<circle cx="1350.6" cy="903.4" r="5.3" fill="#001f5c"/>
<circle cx="1299.6" cy="948" r="5.3" fill="#001f5c"/>
<circle cx="1355.4" cy="901.9" r="5.3" fill="#001f5c"/>
<circle cx="1328.2" cy="926" r="5.3" fill="#001f5c"/>
<circle cx="1293.3" cy="953.9" r="5.3" fill="#001f5c"/>
<circle cx="1355.5" cy="893.6" r="5.3" fill="#001f5c"/>
<circle cx="1332.8" cy="921.8" r="5.3" fill="#001f5c"/>
<circle cx="1317.9" cy="934.4" r="5.3" fill="#001f5c"/>
<circle cx="1324.9" cy="936.7" r="5.3" fill="#001f5c"/>
<circle cx="1326.1" cy="919.8" r="5.3" fill="#001f5c"/>
<circle cx="1328.1" cy="932.5" r="5.3" fill="#001f5c"/>
<circle cx="1327.6" cy="931.3" r="5.3" fill="#001f5c"/>
<circle cx="1296.8" cy="930.9" r="5.3" fill="#001f5c"/>
<circle cx="1314.2" cy="941.8" r="5.3" fill="#001f5c"/>
<circle cx="1293.1" cy="953.1" r="5.3" fill="#001f5c"/>
<circle cx="1313.6" cy="950.6" r="5.3" fill="#001f5c"/>
<circle cx="1292.5" cy="943.4" r="5.3" fill="#001f5c"/>
<circle cx="1305.2" cy="953.7" r="5.3" fill="#001f5c"/>
<circle cx="1339.3" cy="928.1" r="5.3" fill="#001f5c"/>
<circle cx="1366" cy="900.4" r="5.3" fill="#001f5c"/>
<circle cx="1309.4" cy="944.8" r="5.3" fill="#001f5c"/>
<circle cx="1316.3" cy="945.5" r="5.3" fill="#001f5c"/>
<circle cx="1306.4" cy="936.5" r="5.3" fill="#001f5c"/>
<circle cx="1346.6" cy="899.3" r="5.3" fill="#001f5c"/>
<circle cx="1346" cy="910.1" r="5.3" fill="#001f5c"/>
<circle cx="1332.7" cy="915.7" r="5.3" fill="#001f5c"/>
<circle cx="1310.2" cy="934.5" r="5.3" fill="#001f5c"/>
<circle cx="1332.9" cy="920.4" r="5.3" fill="#001f5c"/>
<circle cx="1322" cy="924.8" r="5.3" fill="#001f5c"/>
<circle cx="1304" cy="952.3" r="5.3" fill="#001f5c"/>
<circle cx="1328.9" cy="920.5" r="5.3" fill="#001f5c"/>
<circle cx="1298.9" cy="943.4" r="5.3" fill="#001f5c"/>
<circle cx="1330.5" cy="922.8" r="5.3" fill="#001f5c"/>
<circle cx="1336.1" cy="914.5" r="5.3" fill="#001f5c"/>
<circle cx="1328.8" cy="917.7" r="5.3" fill="#001f5c"/>
<circle cx="1319.9" cy="939.6" r="5.3" fill="#001f5c"/>
<circle cx="1327.9" cy="919" r="5.3" fill="#001f5c"/>
<circle cx="1323.2" cy="922.8" r="5.3" fill="#001f5c"/>
<circle cx="1326.5" cy="931.1" r="5.3" fill="#001f5c"/>
<circle cx="1298.9" cy="950" r="5.3" fill="#001f5c"/>
<circle cx="1322.8" cy="912.1" r="5.3" fill="#001f5c"/>
<circle cx="1342.1" cy="916.3" r="5.3" fill="#001f5c"/>
<circle cx="1298.9" cy="951.3" r="5.3" fill="#001f5c"/>
<circle cx="1326.9" cy="922.1" r="5.3" fill="#001f5c"/>
<circle cx="1361.3" cy="897.7" r="5.3" fill="#001f5c"/>
<circle cx="1306.4" cy="934.1" r="5.3" fill="#001f5c"/>
<circle cx="1309" cy="938.8" r="5.3" fill="#001f5c"/>
<circle cx="1356.3" cy="899.4" r="5.3" fill="#001f5c"/>
<circle cx="1325.9" cy="924.1" r="5.3" fill="#001f5c"/>
<circle cx="1305.8" cy="939.4" r="5.3" fill="#001f5c"/>
<circle cx="1335.3" cy="929.3" r="5.3" fill="#001f5c"/>
<circle cx="1316" cy="935.4" r="5.3" fill="#001f5c"/>
<circle cx="1335.9" cy="912.1" r="5.3" fill="#001f5c"/>
<circle cx="1323.2" cy="912.4" r="5.3" fill="#001f5c"/>
<circle cx="1296" cy="949.2" r="5.3" fill="#001f5c"/>
<circle cx="1342.1" cy="913" r="5.3" fill="#001f5c"/>
<circle cx="1314" cy="935.3" r="5.3" fill="#001f5c"/>
<circle cx="1325.8" cy="925.7" r="5.3" fill="#001f5c"/>
<circle cx="1343.3" cy="924.9" r="5.3" fill="#001f5c"/>
<circle cx="1329.5" cy="925.3" r="5.3" fill="#001f5c"/>
<circle cx="1321.5" cy="916.9" r="5.3" fill="#001f5c"/>
<circle cx="1345.3" cy="905.5" r="5.3" fill="#001f5c"/>
<circle cx="1300.4" cy="941.1" r="5.3" fill="#001f5c"/>
<circle cx="1336.8" cy="921.8" r="5.3" fill="#001f5c"/>
<circle cx="1331" cy="928.8" r="5.3" fill="#001f5c"/>
<circle cx="1333.6" cy="920.9" r="5.3" fill="#001f5c"/>
<circle cx="1332.3" cy="924.8" r="5.3" fill="#001f5c"/>
<circle cx="1301" cy="946.7" r="5.3" fill="#001f5c"/>
<circle cx="1347.4" cy="896.4" r="5.3" fill="#001f5c"/>
<circle cx="1318.9" cy="924.7" r="5.3" fill="#001f5c"/>
<circle cx="1341.6" cy="910.3" r="5.3" fill="#001f5c"/>
<circle cx="1293.2" cy="947.9" r="5.3" fill="#001f5c"/>
<circle cx="1305.4" cy="932.2" r="5.3" fill="#001f5c"/>
<circle cx="1342.2" cy="908.2" r="5.3" fill="#001f5c"/>
<circle cx="1303.8" cy="937.6" r="5.3" fill="#001f5c"/>
<circle cx="1323.8" cy="927.8" r="5.3" fill="#001f5c"/>
<circle cx="1302.1" cy="935.3" r="5.3" fill="#001f5c"/>
<circle cx="1327.8" cy="914.2" r="5.3" fill="#001f5c"/>
<circle cx="1322.7" cy="927.4" r="5.3" fill="#001f5c"/>
<circle cx="1363.2" cy="892.1" r="5.3" fill="#001f5c"/>
<circle cx="1333.5" cy="909.5" r="5.3" fill="#001f5c"/>
<circle cx="1320.6" cy="922.3" r="5.3" fill="#001f5c"/>
<circle cx="1308.6" cy="940" r="5.3" fill="#001f5c"/>
<circle cx="1314.8" cy="927.4" r="5.3" fill="#001f5c"/>
<circle cx="1317.6" cy="936.5" r="5.3" fill="#001f5c"/>
<circle cx="1336.2" cy="905.9" r="5.3" fill="#001f5c"/>
<circle cx="1301.5" cy="928.2" r="5.3" fill="#001f5c"/>
<circle cx="1294.7" cy="953.7" r="5.3" fill="#001f5c"/>
<circle cx="1306.4" cy="928" r="5.3" fill="#001f5c"/>
<circle cx="1335.3" cy="915.8" r="5.3" fill="#001f5c"/>
<circle cx="1351.8" cy="897.2" r="5.3" fill="#001f5c"/>
<circle cx="1322.3" cy="932.5" r="5.3" fill="#001f5c"/>
<circle cx="1293.1" cy="942.2" r="5.3" fill="#001f5c"/>
<circle cx="1318.1" cy="933" r="5.3" fill="#001f5c"/>
<circle cx="1327.5" cy="919.7" r="5.3" fill="#001f5c"/>
<circle cx="1340.9" cy="908.4" r="5.3" fill="#001f5c"/>
<circle cx="1368" cy="878.9" r="5.3" fill="#001f5c"/>
<circle cx="1303.2" cy="938.7" r="5.3" fill="#001f5c"/>
<circle cx="1304.2" cy="952" r="5.3" fill="#001f5c"/>
<circle cx="1334.6" cy="925.2" r="5.3" fill="#001f5c"/>
<circle cx="1315.1" cy="926.8" r="5.3" fill="#001f5c"/>
<circle cx="1346.8" cy="908.1" r="5.3" fill="#001f5c"/>
<circle cx="1307.3" cy="959.5" r="5.3" fill="#001f5c"/>
<circle cx="1333.3" cy="930.2" r="5.3" fill="#001f5c"/>
<circle cx="1322.5" cy="928.7" r="5.3" fill="#001f5c"/>
<circle cx="1316.3" cy="926.6" r="5.3" fill="#001f5c"/>
<circle cx="1319.9" cy="932.7" r="5.3" fill="#001f5c"/>
<circle cx="1307.7" cy="933" r="5.3" fill="#001f5c"/>
<circle cx="1335.1" cy="931.7" r="5.3" fill="#001f5c"/>
<circle cx="1316.3" cy="935.4" r="5.3" fill="#001f5c"/>
<circle cx="1330.4" cy="937.8" r="5.3" fill="#001f5c"/>
<circle cx="1307" cy="941.7" r="5.3" fill="#001f5c"/>
<circle cx="1314.1" cy="934.3" r="5.3" fill="#001f5c"/>
<circle cx="1311.6" cy="957.4" r="5.3" fill="#001f5c"/>
<circle cx="1292.6" cy="951.9" r="5.3" fill="#001f5c"/>
<circle cx="1332.8" cy="924.2" r="5.3" fill="#001f5c"/>
<circle cx="1353.3" cy="905.3" r="5.3" fill="#001f5c"/>
<circle cx="1328.5" cy="920.3" r="5.3" fill="#001f5c"/>
<circle cx="1326.6" cy="915" r="5.3" fill="#001f5c"/>
<circle cx="1319.6" cy="936.3" r="5.3" fill="#001f5c"/>
<circle cx="1343.6" cy="914.7" r="5.3" fill="#001f5c"/>
<circle cx="1315.2" cy="932.5" r="5.3" fill="#001f5c"/>
<circle cx="1336.8" cy="917.5" r="5.3" fill="#001f5c"/>
<circle cx="1347.3" cy="913.5" r="5.3" fill="#001f5c"/>
<circle cx="1300.8" cy="948" r="5.3" fill="#001f5c"/>
<circle cx="1321.5" cy="912.4" r="5.3" fill="#001f5c"/>
<circle cx="1364.3" cy="890.9" r="5.3" fill="#001f5c"/>
<circle cx="1317.1" cy="934.2" r="5.3" fill="#001f5c"/>
<circle cx="1333.5" cy="924.9" r="5.3" fill="#001f5c"/>
<circle cx="1338.1" cy="919.2" r="5.3" fill="#001f5c"/>
<circle cx="1294.8" cy="955.3" r="5.3" fill="#001f5c"/>
<circle cx="1317.7" cy="932.4" r="5.3" fill="#001f5c"/>
<circle cx="1338.6" cy="914.6" r="5.3" fill="#001f5c"/>
<circle cx="1375.1" cy="880.1" r="5.3" fill="#001f5c"/>
<circle cx="1315.9" cy="938.2" r="5.3" fill="#001f5c"/>
<circle cx="1309.4" cy="948.5" r="5.3" fill="#001f5c"/>
<circle cx="1305" cy="934.5" r="5.3" fill="#001f5c"/>
<circle cx="1326.9" cy="925.7" r="5.3" fill="#001f5c"/>
<circle cx="1333" cy="911.9" r="5.3" fill="#001f5c"/>
<circle cx="1356.2" cy="905.7" r="5.3" fill="#001f5c"/>
<circle cx="1358.6" cy="893" r="5.3" fill="#001f5c"/>
<circle cx="1385.1" cy="870.1" r="5.3" fill="#001f5c"/>
<circle cx="1370.7" cy="877.6" r="5.3" fill="#001f5c"/>
<circle cx="1394.5" cy="851.5" r="5.3" fill="#001f5c"/>
<circle cx="1356.3" cy="898.2" r="5.3" fill="#001f5c"/>
<circle cx="1418.9" cy="838.7" r="5.3" fill="#001f5c"/>
<circle cx="1376.8" cy="882" r="5.3" fill="#001f5c"/>
<circle cx="1393.1" cy="864.5" r="5.3" fill="#001f5c"/>
<circle cx="1402.9" cy="859.3" r="5.3" fill="#001f5c"/>
<circle cx="1382.5" cy="861.7" r="5.3" fill="#001f5c"/>
<circle cx="1410.9" cy="842.5" r="5.3" fill="#001f5c"/>
<circle cx="1376.6" cy="885.1" r="5.3" fill="#001f5c"/>
<circle cx="1414.7" cy="835.1" r="5.3" fill="#001f5c"/>
<circle cx="1385.6" cy="874.8" r="5.3" fill="#001f5c"/>
<circle cx="1414.7" cy="839" r="5.3" fill="#001f5c"/>
<circle cx="1369.8" cy="877.3" r="5.3" fill="#001f5c"/>
<circle cx="1414.3" cy="835.4" r="5.3" fill="#001f5c"/>
<circle cx="1401.4" cy="859.8" r="5.3" fill="#001f5c"/>
<circle cx="1368.6" cy="892.4" r="5.3" fill="#001f5c"/>
<circle cx="1390.8" cy="860.9" r="5.3" fill="#001f5c"/>
<circle cx="1379.5" cy="874.2" r="5.3" fill="#001f5c"/>
<circle cx="1383.8" cy="872.3" r="5.3" fill="#001f5c"/>
<circle cx="1398.6" cy="854.1" r="5.3" fill="#001f5c"/>
<circle cx="1385.6" cy="868.6" r="5.3" fill="#001f5c"/>
<circle cx="1375.6" cy="874.9" r="5.3" fill="#001f5c"/>
<circle cx="1363.3" cy="881.5" r="5.3" fill="#001f5c"/>
<circle cx="1419.4" cy="827.9" r="5.3" fill="#001f5c"/>
<circle cx="1396.3" cy="853.7" r="5.3" fill="#001f5c"/>
<circle cx="1407" cy="850.5" r="5.3" fill="#001f5c"/>
<circle cx="1362.2" cy="894" r="5.3" fill="#001f5c"/>
<circle cx="1414.6" cy="845.4" r="5.3" fill="#001f5c"/>
<circle cx="1352.8" cy="903.1" r="5.3" fill="#001f5c"/>
<circle cx="1386.5" cy="870.8" r="5.3" fill="#001f5c"/>
<circle cx="1418.2" cy="830.1" r="5.3" fill="#001f5c"/>
<circle cx="1368.2" cy="887.5" r="5.3" fill="#001f5c"/>
<circle cx="1370.2" cy="874.5" r="5.3" fill="#001f5c"/>
<circle cx="1407.8" cy="840.8" r="5.3" fill="#001f5c"/>
<circle cx="1375.7" cy="884.1" r="5.3" fill="#001f5c"/>
<circle cx="1348.7" cy="902.4" r="5.3" fill="#001f5c"/>
<circle cx="1347.6" cy="905.5" r="5.3" fill="#001f5c"/>
<circle cx="1383.5" cy="874.1" r="5.3" fill="#001f5c"/>
<circle cx="1416.9" cy="829.5" r="5.3" fill="#001f5c"/>
<circle cx="1361.1" cy="896" r="5.3" fill="#001f5c"/>
<circle cx="1367.9" cy="877.3" r="5.3" fill="#001f5c"/>
<circle cx="1360.2" cy="901.5" r="5.3" fill="#001f5c"/>
<circle cx="1409.6" cy="847.4" r="5.3" fill="#001f5c"/>
<circle cx="1358.4" cy="892.9" r="5.3" fill="#001f5c"/>
<circle cx="1412.8" cy="836.4" r="5.3" fill="#001f5c"/>
<circle cx="1393.8" cy="860.4" r="5.3" fill="#001f5c"/>
<circle cx="1359.9" cy="895" r="5.3" fill="#001f5c"/>
<circle cx="1353.4" cy="904.5" r="5.3" fill="#001f5c"/>
<circle cx="1400.9" cy="857.3" r="5.3" fill="#001f5c"/>
<circle cx="1412" cy="829.9" r="5.3" fill="#001f5c"/>
<circle cx="1400" cy="848" r="5.3" fill="#001f5c"/>
<circle cx="1417.2" cy="828.9" r="5.3" fill="#001f5c"/>
<circle cx="1379.4" cy="872.1" r="5.3" fill="#001f5c"/>
<circle cx="1368.8" cy="885" r="5.3" fill="#001f5c"/>
<circle cx="1399.8" cy="852.8" r="5.3" fill="#001f5c"/>
<circle cx="1363.3" cy="889.4" r="5.3" fill="#001f5c"/>
<circle cx="1396.2" cy="856.3" r="5.3" fill="#001f5c"/>
<circle cx="1396" cy="863.1" r="5.3" fill="#001f5c"/>
<circle cx="1413.1" cy="843.1" r="5.3" fill="#001f5c"/>
<circle cx="1368.3" cy="889.5" r="5.3" fill="#001f5c"/>
<circle cx="1416.4" cy="838.5" r="5.3" fill="#001f5c"/>
<circle cx="1394.4" cy="863.6" r="5.3" fill="#001f5c"/>
<circle cx="1352.1" cy="898.6" r="5.3" fill="#001f5c"/>
<circle cx="1385.8" cy="869.4" r="5.3" fill="#001f5c"/>
<circle cx="1386" cy="861.4" r="5.3" fill="#001f5c"/>
<circle cx="1367.1" cy="886.6" r="5.3" fill="#001f5c"/>
<circle cx="1364.5" cy="890.7" r="5.3" fill="#001f5c"/>
<circle cx="1367.1" cy="890.9" r="5.3" fill="#001f5c"/>
<circle cx="1403.2" cy="850.1" r="5.3" fill="#001f5c"/>
<circle cx="1387.3" cy="862.7" r="5.3" fill="#001f5c"/>
<circle cx="1359.5" cy="883.5" r="5.3" fill="#001f5c"/>
<circle cx="1347.8" cy="919.1" r="5.3" fill="#001f5c"/>
<circle cx="1380.7" cy="874.2" r="5.3" fill="#001f5c"/>
<circle cx="1416.6" cy="841.6" r="5.3" fill="#001f5c"/>
<circle cx="1383.6" cy="868.1" r="5.3" fill="#001f5c"/>
<circle cx="1394.7" cy="852.9" r="5.3" fill="#001f5c"/>
<circle cx="1372.8" cy="887.9" r="5.3" fill="#001f5c"/>
<circle cx="1384.9" cy="877.9" r="5.3" fill="#001f5c"/>
<circle cx="1384" cy="865.9" r="5.3" fill="#001f5c"/>
<circle cx="1385.2" cy="876.4" r="5.3" fill="#001f5c"/>
<circle cx="1418.3" cy="829.8" r="5.3" fill="#001f5c"/>
<circle cx="1357.9" cy="889.8" r="5.3" fill="#001f5c"/>
<circle cx="1391.9" cy="861.7" r="5.3" fill="#001f5c"/>
<circle cx="1404.6" cy="842.9" r="5.3" fill="#001f5c"/>
<circle cx="1405.6" cy="846.7" r="5.3" fill="#001f5c"/>
<circle cx="1382.8" cy="875.9" r="5.3" fill="#001f5c"/>
<circle cx="1362.2" cy="899.6" r="5.3" fill="#001f5c"/>
<circle cx="1347.9" cy="912.2" r="5.3" fill="#001f5c"/>
<circle cx="1391" cy="864.8" r="5.3" fill="#001f5c"/>
<circle cx="1412.2" cy="847.8" r="5.3" fill="#001f5c"/>
<circle cx="1359" cy="896.6" r="5.3" fill="#001f5c"/>
<circle cx="1383.3" cy="870.6" r="5.3" fill="#001f5c"/>
<circle cx="1378.6" cy="880.5" r="5.3" fill="#001f5c"/>
<circle cx="1406.5" cy="845.2" r="5.3" fill="#001f5c"/>
<circle cx="1350.8" cy="900" r="5.3" fill="#001f5c"/>
<circle cx="1386.9" cy="871.6" r="5.3" fill="#001f5c"/>
<circle cx="1406" cy="847.1" r="5.3" fill="#001f5c"/>
<circle cx="1369.1" cy="883.4" r="5.3" fill="#001f5c"/>
<circle cx="1348.5" cy="911.5" r="5.3" fill="#001f5c"/>
<circle cx="1385.6" cy="861.9" r="5.3" fill="#001f5c"/>
<circle cx="1365.5" cy="892.3" r="5.3" fill="#001f5c"/>
<circle cx="1408.2" cy="846.2" r="5.3" fill="#001f5c"/>
<circle cx="1358.4" cy="898" r="5.3" fill="#001f5c"/>
<circle cx="1398.2" cy="852.3" r="5.3" fill="#001f5c"/>
<circle cx="1409" cy="843.6" r="5.3" fill="#001f5c"/>
<circle cx="1376.7" cy="880.3" r="5.3" fill="#001f5c"/>
<circle cx="1373.2" cy="879.1" r="5.3" fill="#001f5c"/>
<circle cx="1348.5" cy="894" r="5.3" fill="#001f5c"/>
<circle cx="1382.8" cy="870.8" r="5.3" fill="#001f5c"/>
<circle cx="1356.3" cy="916.4" r="5.3" fill="#001f5c"/>
<circle cx="1380.2" cy="874.8" r="5.3" fill="#001f5c"/>
<circle cx="1363.7" cy="893.9" r="5.3" fill="#001f5c"/>
<circle cx="1413.6" cy="835.8" r="5.3" fill="#001f5c"/>
<circle cx="1368.1" cy="883.3" r="5.3" fill="#001f5c"/>
<circle cx="1377.8" cy="876" r="5.3" fill="#001f5c"/>
<circle cx="1421.7" cy="829.9" r="5.3" fill="#001f5c"/>
<circle cx="1403.8" cy="850" r="5.3" fill="#001f5c"/>
<circle cx="1364.7" cy="895.3" r="5.3" fill="#001f5c"/>
<circle cx="1387.6" cy="866.6" r="5.3" fill="#001f5c"/>
<circle cx="1416.8" cy="829.6" r="5.3" fill="#001f5c"/>
<circle cx="1373.2" cy="890.4" r="5.3" fill="#001f5c"/>
<circle cx="1392.1" cy="848.7" r="5.3" fill="#001f5c"/>
<circle cx="1348.3" cy="915.3" r="5.3" fill="#001f5c"/>
<circle cx="1349.7" cy="902.5" r="5.3" fill="#001f5c"/>
<circle cx="1371.6" cy="887.7" r="5.3" fill="#001f5c"/>
<circle cx="1390.6" cy="874.2" r="5.3" fill="#001f5c"/>
<circle cx="1462.2" cy="792.6" r="5.3" fill="#001f5c"/>
<circle cx="1460.2" cy="788.4" r="5.3" fill="#001f5c"/>
<circle cx="1439.3" cy="811.2" r="5.3" fill="#001f5c"/>
<circle cx="1437.8" cy="817.1" r="5.3" fill="#001f5c"/>
<circle cx="1430.3" cy="824.4" r="5.3" fill="#001f5c"/>
<circle cx="1431.2" cy="821.4" r="5.3" fill="#001f5c"/>
<circle cx="1431.7" cy="824.3" r="5.3" fill="#001f5c"/>
<circle cx="1442.3" cy="807.8" r="5.3" fill="#001f5c"/>
<circle cx="1467.1" cy="786.8" r="5.3" fill="#001f5c"/>
<circle cx="1431.3" cy="829.8" r="5.3" fill="#001f5c"/>
<circle cx="1439.4" cy="804.7" r="5.3" fill="#001f5c"/>
<circle cx="1438.5" cy="809.3" r="5.3" fill="#001f5c"/>
<circle cx="1434.5" cy="813.8" r="5.3" fill="#001f5c"/>
<circle cx="1433.9" cy="817.3" r="5.3" fill="#001f5c"/>
<circle cx="1439.8" cy="804" r="5.3" fill="#001f5c"/>
<circle cx="1434.2" cy="821.1" r="5.3" fill="#001f5c"/>
<circle cx="1438.4" cy="805.9" r="5.3" fill="#001f5c"/>
<circle cx="1438.3" cy="802.9" r="5.3" fill="#001f5c"/>
<circle cx="1456.7" cy="795.3" r="5.3" fill="#001f5c"/>
<circle cx="1422.9" cy="840.5" r="5.3" fill="#001f5c"/>
<circle cx="1436.6" cy="816.4" r="5.3" fill="#001f5c"/>
<circle cx="1462" cy="786.3" r="5.3" fill="#001f5c"/>
<circle cx="1436.8" cy="813.8" r="5.3" fill="#001f5c"/>
<circle cx="1424.5" cy="833.9" r="5.3" fill="#001f5c"/>
<circle cx="1439.9" cy="811.2" r="5.3" fill="#001f5c"/>
<circle cx="1428.8" cy="821.5" r="5.3" fill="#001f5c"/>
<circle cx="1449" cy="797.2" r="5.3" fill="#001f5c"/>
<circle cx="1441.2" cy="809" r="5.3" fill="#001f5c"/>
<circle cx="1446.7" cy="798.7" r="5.3" fill="#001f5c"/>
<circle cx="1433.8" cy="811.6" r="5.3" fill="#001f5c"/>
<circle cx="1454.9" cy="796.8" r="5.3" fill="#001f5c"/>
<circle cx="1431.3" cy="823" r="5.3" fill="#001f5c"/>
<circle cx="1434.7" cy="818" r="5.3" fill="#001f5c"/>
<circle cx="1439.5" cy="816.8" r="5.3" fill="#001f5c"/>
<circle cx="1461.3" cy="787.9" r="5.3" fill="#001f5c"/>
<circle cx="1437.7" cy="809.4" r="5.3" fill="#001f5c"/>
<circle cx="1431.8" cy="818.8" r="5.3" fill="#001f5c"/>
<circle cx="1450.6" cy="799.6" r="5.3" fill="#001f5c"/>
<circle cx="1447.7" cy="797.9" r="5.3" fill="#001f5c"/>
<circle cx="1435.5" cy="829.1" r="5.3" fill="#001f5c"/>
<circle cx="1452.4" cy="794.8" r="5.3" fill="#001f5c"/>
<circle cx="1453.3" cy="798.8" r="5.3" fill="#001f5c"/>
<circle cx="1452.2" cy="788.1" r="5.3" fill="#001f5c"/>
<circle cx="1432.6" cy="821.9" r="5.3" fill="#001f5c"/>
<circle cx="1450.7" cy="795.2" r="5.3" fill="#001f5c"/>
<circle cx="1588.1" cy="657.4" r="5.3" fill="#001f5c"/>
<circle cx="1556" cy="684.1" r="5.3" fill="#001f5c"/>
<circle cx="1516.2" cy="727.9" r="5.3" fill="#001f5c"/>
<circle cx="1496" cy="747.2" r="5.3" fill="#001f5c"/>
<circle cx="1489.7" cy="756.1" r="5.3" fill="#001f5c"/>
<circle cx="1486.2" cy="770.9" r="5.3" fill="#001f5c"/>
<circle cx="1488.3" cy="770.2" r="5.3" fill="#001f5c"/>
<circle cx="1466" cy="782.8" r="5.3" fill="#001f5c"/>
<circle cx="1460.4" cy="784.3" r="5.3" fill="#001f5c"/>
<circle cx="1453.4" cy="796.9" r="5.3" fill="#001f5c"/>
<circle cx="1456.9" cy="800.6" r="5.3" fill="#001f5c"/>
<circle cx="1299.9" cy="969.1" r="5.3" fill="#001f5c"/>
<circle cx="1303.3" cy="963.9" r="5.3" fill="#001f5c"/>
<circle cx="1301.2" cy="917.1" r="5.3" fill="#001f5c"/>
<circle cx="1347.3" cy="882.2" r="5.3" fill="#001f5c"/>
<circle cx="1362.7" cy="923.1" r="5.3" fill="#001f5c"/>
<text x="1291.6" y="664.9" font-size="25">R<tspan dy="-9" font-size="16">2</tspan><tspan dy="9">=0,996</tspan></text>
<text x="1291" y="693.4" font-size="25">(P&lt;0.0001)</text>
<text x="54.5" y="1066.7" font-size="27">F</text>
<line x1="215.9" y1="1074.5" x2="215.9" y2="1521.5" stroke="#000" stroke-width="3.2"/>
<line x1="205.9" y1="1519.8" x2="781.8" y2="1519.8" stroke="#000" stroke-width="3.2"/>
<line x1="207.9" y1="1519.8" x2="215.9" y2="1519.8" stroke="#000" stroke-width="3"/>
<text x="193.9" y="1529" font-size="25.4" text-anchor="end">0</text>
<line x1="207.9" y1="1464.4" x2="215.9" y2="1464.4" stroke="#000" stroke-width="3"/>
<text x="193.9" y="1473.6" font-size="25.4" text-anchor="end">100</text>
<line x1="207.9" y1="1409" x2="215.9" y2="1409" stroke="#000" stroke-width="3"/>
<text x="193.9" y="1418.2" font-size="25.4" text-anchor="end">200</text>
<line x1="207.9" y1="1353.6" x2="215.9" y2="1353.6" stroke="#000" stroke-width="3"/>
<text x="193.9" y="1362.8" font-size="25.4" text-anchor="end">300</text>
<line x1="207.9" y1="1298.2" x2="215.9" y2="1298.2" stroke="#000" stroke-width="3"/>
<text x="193.9" y="1307.4" font-size="25.4" text-anchor="end">400</text>
<line x1="207.9" y1="1242.8" x2="215.9" y2="1242.8" stroke="#000" stroke-width="3"/>
<text x="193.9" y="1252" font-size="25.4" text-anchor="end">500</text>
<line x1="207.9" y1="1187.4" x2="215.9" y2="1187.4" stroke="#000" stroke-width="3"/>
<text x="193.9" y="1196.6" font-size="25.4" text-anchor="end">600</text>
<line x1="207.9" y1="1132" x2="215.9" y2="1132" stroke="#000" stroke-width="3"/>
<text x="193.9" y="1141.2" font-size="25.4" text-anchor="end">700</text>
<line x1="207.9" y1="1076.6" x2="215.9" y2="1076.6" stroke="#000" stroke-width="3"/>
<text x="193.9" y="1085.8" font-size="25.4" text-anchor="end">800</text>
<line x1="215.9" y1="1519.8" x2="215.9" y2="1528.8" stroke="#000" stroke-width="3"/>
<text x="215.9" y="1558" font-size="24.5" text-anchor="middle">0</text>
<line x1="272.5" y1="1519.8" x2="272.5" y2="1528.8" stroke="#000" stroke-width="3"/>
<text x="272.5" y="1558" font-size="24.5" text-anchor="middle">10</text>
<line x1="329" y1="1519.8" x2="329" y2="1528.8" stroke="#000" stroke-width="3"/>
<text x="329" y="1558" font-size="24.5" text-anchor="middle">20</text>
<line x1="385.6" y1="1519.8" x2="385.6" y2="1528.8" stroke="#000" stroke-width="3"/>
<text x="385.6" y="1558" font-size="24.5" text-anchor="middle">30</text>
<line x1="442.2" y1="1519.8" x2="442.2" y2="1528.8" stroke="#000" stroke-width="3"/>
<text x="442.2" y="1558" font-size="24.5" text-anchor="middle">40</text>
<line x1="498.8" y1="1519.8" x2="498.8" y2="1528.8" stroke="#000" stroke-width="3"/>
<text x="498.8" y="1558" font-size="24.5" text-anchor="middle">50</text>
<line x1="555.3" y1="1519.8" x2="555.3" y2="1528.8" stroke="#000" stroke-width="3"/>
<text x="555.3" y="1558" font-size="24.5" text-anchor="middle">60</text>
<line x1="611.9" y1="1519.8" x2="611.9" y2="1528.8" stroke="#000" stroke-width="3"/>
<text x="611.9" y="1558" font-size="24.5" text-anchor="middle">70</text>
<line x1="668.5" y1="1519.8" x2="668.5" y2="1528.8" stroke="#000" stroke-width="3"/>
<text x="668.5" y="1558" font-size="24.5" text-anchor="middle">80</text>
<line x1="725" y1="1519.8" x2="725" y2="1528.8" stroke="#000" stroke-width="3"/>
<text x="725" y="1558" font-size="24.5" text-anchor="middle">90</text>
<line x1="781.6" y1="1519.8" x2="781.6" y2="1528.8" stroke="#000" stroke-width="3"/>
<text x="781.6" y="1558" font-size="24.5" text-anchor="middle">100</text>
<text x="499.5" y="1596" font-size="28" text-anchor="middle">Days</text>
<text x="132.4" y="1303" font-size="29.2" text-anchor="middle" transform="rotate(-90 132.4 1303)">Tumor volume (mm<tspan dy="-10.5" font-size="19">3</tspan><tspan dy="10.5">)</tspan></text>
<line x1="374.3" y1="1483.8" x2="374.3" y2="1475.5" stroke="#555" stroke-width="1.3"/>
<line x1="366.1" y1="1483.8" x2="382.5" y2="1483.8" stroke="#999" stroke-width="1.9"/>
<line x1="366.1" y1="1475.5" x2="382.5" y2="1475.5" stroke="#999" stroke-width="1.9"/>
<line x1="396.9" y1="1445" x2="396.9" y2="1421.2" stroke="#555" stroke-width="1.3"/>
<line x1="388.7" y1="1445" x2="405.1" y2="1445" stroke="#999" stroke-width="1.9"/>
<line x1="388.7" y1="1421.2" x2="405.1" y2="1421.2" stroke="#999" stroke-width="1.9"/>
<line x1="419.6" y1="1414.5" x2="419.6" y2="1376.9" stroke="#555" stroke-width="1.3"/>
<line x1="411.4" y1="1414.5" x2="427.8" y2="1414.5" stroke="#999" stroke-width="1.9"/>
<line x1="411.4" y1="1376.9" x2="427.8" y2="1376.9" stroke="#999" stroke-width="1.9"/>
<line x1="430.9" y1="1380.2" x2="430.9" y2="1331.4" stroke="#555" stroke-width="1.3"/>
<line x1="422.7" y1="1380.2" x2="439.1" y2="1380.2" stroke="#999" stroke-width="1.9"/>
<line x1="422.7" y1="1331.4" x2="439.1" y2="1331.4" stroke="#999" stroke-width="1.9"/>
<line x1="459.2" y1="1276" x2="459.2" y2="1227.8" stroke="#555" stroke-width="1.3"/>
<line x1="451" y1="1276" x2="467.4" y2="1276" stroke="#999" stroke-width="1.9"/>
<line x1="451" y1="1227.8" x2="467.4" y2="1227.8" stroke="#999" stroke-width="1.9"/>
<line x1="476.1" y1="1313.7" x2="476.1" y2="1249.4" stroke="#555" stroke-width="1.3"/>
<line x1="467.9" y1="1313.7" x2="484.3" y2="1313.7" stroke="#999" stroke-width="1.9"/>
<line x1="467.9" y1="1249.4" x2="484.3" y2="1249.4" stroke="#999" stroke-width="1.9"/>
<line x1="498.8" y1="1345.3" x2="498.8" y2="1282.7" stroke="#555" stroke-width="1.3"/>
<line x1="490.6" y1="1345.3" x2="506.9" y2="1345.3" stroke="#999" stroke-width="1.9"/>
<line x1="490.6" y1="1282.7" x2="506.9" y2="1282.7" stroke="#999" stroke-width="1.9"/>
<line x1="510.1" y1="1286" x2="510.1" y2="1210.7" stroke="#555" stroke-width="1.3"/>
<line x1="501.9" y1="1286" x2="518.3" y2="1286" stroke="#999" stroke-width="1.9"/>
<line x1="501.9" y1="1210.7" x2="518.3" y2="1210.7" stroke="#999" stroke-width="1.9"/>
<line x1="538.3" y1="1220.6" x2="538.3" y2="1118.1" stroke="#555" stroke-width="1.3"/>
<line x1="530.1" y1="1220.6" x2="546.5" y2="1220.6" stroke="#999" stroke-width="1.9"/>
<line x1="530.1" y1="1118.1" x2="546.5" y2="1118.1" stroke="#999" stroke-width="1.9"/>
<line x1="396.9" y1="1496.5" x2="396.9" y2="1489.3" stroke="#555" stroke-width="1.3"/>
<line x1="388.7" y1="1496.5" x2="405.1" y2="1496.5" stroke="#999" stroke-width="1.9"/>
<line x1="388.7" y1="1489.3" x2="405.1" y2="1489.3" stroke="#999" stroke-width="1.9"/>
<line x1="419.6" y1="1503.2" x2="419.6" y2="1496.5" stroke="#555" stroke-width="1.3"/>
<line x1="411.4" y1="1503.2" x2="427.8" y2="1503.2" stroke="#999" stroke-width="1.9"/>
<line x1="411.4" y1="1496.5" x2="427.8" y2="1496.5" stroke="#999" stroke-width="1.9"/>
<line x1="430.9" y1="1504.3" x2="430.9" y2="1497.6" stroke="#555" stroke-width="1.3"/>
<line x1="422.7" y1="1504.3" x2="439.1" y2="1504.3" stroke="#999" stroke-width="1.9"/>
<line x1="422.7" y1="1497.6" x2="439.1" y2="1497.6" stroke="#999" stroke-width="1.9"/>
<line x1="459.2" y1="1489.3" x2="459.2" y2="1478.2" stroke="#555" stroke-width="1.3"/>
<line x1="451" y1="1489.3" x2="467.4" y2="1489.3" stroke="#999" stroke-width="1.9"/>
<line x1="451" y1="1478.2" x2="467.4" y2="1478.2" stroke="#999" stroke-width="1.9"/>
<line x1="476.1" y1="1467.2" x2="476.1" y2="1450.5" stroke="#555" stroke-width="1.3"/>
<line x1="467.9" y1="1467.2" x2="484.3" y2="1467.2" stroke="#999" stroke-width="1.9"/>
<line x1="467.9" y1="1450.5" x2="484.3" y2="1450.5" stroke="#999" stroke-width="1.9"/>
<line x1="498.8" y1="1481" x2="498.8" y2="1460.5" stroke="#555" stroke-width="1.3"/>
<line x1="490.6" y1="1481" x2="506.9" y2="1481" stroke="#999" stroke-width="1.9"/>
<line x1="490.6" y1="1460.5" x2="506.9" y2="1460.5" stroke="#999" stroke-width="1.9"/>
<line x1="510.1" y1="1447.8" x2="510.1" y2="1410.1" stroke="#555" stroke-width="1.3"/>
<line x1="501.9" y1="1447.8" x2="518.3" y2="1447.8" stroke="#999" stroke-width="1.9"/>
<line x1="501.9" y1="1410.1" x2="518.3" y2="1410.1" stroke="#999" stroke-width="1.9"/>
<line x1="538.3" y1="1417.3" x2="538.3" y2="1370.2" stroke="#555" stroke-width="1.3"/>
<line x1="530.1" y1="1417.3" x2="546.5" y2="1417.3" stroke="#999" stroke-width="1.9"/>
<line x1="530.1" y1="1370.2" x2="546.5" y2="1370.2" stroke="#999" stroke-width="1.9"/>
<line x1="549.7" y1="1386.8" x2="549.7" y2="1334.2" stroke="#555" stroke-width="1.3"/>
<line x1="541.5" y1="1386.8" x2="557.9" y2="1386.8" stroke="#999" stroke-width="1.9"/>
<line x1="541.5" y1="1334.2" x2="557.9" y2="1334.2" stroke="#999" stroke-width="1.9"/>
<line x1="577.9" y1="1287.1" x2="577.9" y2="1190.2" stroke="#555" stroke-width="1.3"/>
<line x1="569.7" y1="1287.1" x2="586.1" y2="1287.1" stroke="#999" stroke-width="1.9"/>
<line x1="569.7" y1="1190.2" x2="586.1" y2="1190.2" stroke="#999" stroke-width="1.9"/>
<line x1="396.9" y1="1491" x2="396.9" y2="1482.1" stroke="#555" stroke-width="1.3"/>
<line x1="388.7" y1="1491" x2="405.1" y2="1491" stroke="#999" stroke-width="1.9"/>
<line x1="388.7" y1="1482.1" x2="405.1" y2="1482.1" stroke="#999" stroke-width="1.9"/>
<line x1="419.6" y1="1499.9" x2="419.6" y2="1492.1" stroke="#555" stroke-width="1.3"/>
<line x1="411.4" y1="1499.9" x2="427.8" y2="1499.9" stroke="#999" stroke-width="1.9"/>
<line x1="411.4" y1="1492.1" x2="427.8" y2="1492.1" stroke="#999" stroke-width="1.9"/>
<line x1="430.9" y1="1493.8" x2="430.9" y2="1485.5" stroke="#555" stroke-width="1.3"/>
<line x1="422.7" y1="1493.8" x2="439.1" y2="1493.8" stroke="#999" stroke-width="1.9"/>
<line x1="422.7" y1="1485.5" x2="439.1" y2="1485.5" stroke="#999" stroke-width="1.9"/>
<line x1="459.2" y1="1481" x2="459.2" y2="1471" stroke="#555" stroke-width="1.3"/>
<line x1="451" y1="1481" x2="467.4" y2="1481" stroke="#999" stroke-width="1.9"/>
<line x1="451" y1="1471" x2="467.4" y2="1471" stroke="#999" stroke-width="1.9"/>
<line x1="476.1" y1="1466.1" x2="476.1" y2="1449.4" stroke="#555" stroke-width="1.3"/>
<line x1="467.9" y1="1466.1" x2="484.3" y2="1466.1" stroke="#999" stroke-width="1.9"/>
<line x1="467.9" y1="1449.4" x2="484.3" y2="1449.4" stroke="#999" stroke-width="1.9"/>
<line x1="498.8" y1="1482.1" x2="498.8" y2="1469.9" stroke="#555" stroke-width="1.3"/>
<line x1="490.6" y1="1482.1" x2="506.9" y2="1482.1" stroke="#999" stroke-width="1.9"/>
<line x1="490.6" y1="1469.9" x2="506.9" y2="1469.9" stroke="#999" stroke-width="1.9"/>
<line x1="510.1" y1="1465.5" x2="510.1" y2="1446.7" stroke="#555" stroke-width="1.3"/>
<line x1="501.9" y1="1465.5" x2="518.3" y2="1465.5" stroke="#999" stroke-width="1.9"/>
<line x1="501.9" y1="1446.7" x2="518.3" y2="1446.7" stroke="#999" stroke-width="1.9"/>
<line x1="538.3" y1="1453.3" x2="538.3" y2="1428.4" stroke="#555" stroke-width="1.3"/>
<line x1="530.1" y1="1453.3" x2="546.5" y2="1453.3" stroke="#999" stroke-width="1.9"/>
<line x1="530.1" y1="1428.4" x2="546.5" y2="1428.4" stroke="#999" stroke-width="1.9"/>
<line x1="549.7" y1="1436.7" x2="549.7" y2="1407.9" stroke="#555" stroke-width="1.3"/>
<line x1="541.5" y1="1436.7" x2="557.9" y2="1436.7" stroke="#999" stroke-width="1.9"/>
<line x1="541.5" y1="1407.9" x2="557.9" y2="1407.9" stroke="#999" stroke-width="1.9"/>
<line x1="577.9" y1="1425.6" x2="577.9" y2="1387.9" stroke="#555" stroke-width="1.3"/>
<line x1="569.7" y1="1425.6" x2="586.1" y2="1425.6" stroke="#999" stroke-width="1.9"/>
<line x1="569.7" y1="1387.9" x2="586.1" y2="1387.9" stroke="#999" stroke-width="1.9"/>
<line x1="589.3" y1="1428.4" x2="589.3" y2="1349.7" stroke="#555" stroke-width="1.3"/>
<line x1="581.1" y1="1428.4" x2="597.5" y2="1428.4" stroke="#999" stroke-width="1.9"/>
<line x1="581.1" y1="1349.7" x2="597.5" y2="1349.7" stroke="#999" stroke-width="1.9"/>
<line x1="617.5" y1="1392.4" x2="617.5" y2="1350.8" stroke="#555" stroke-width="1.3"/>
<line x1="609.3" y1="1392.4" x2="625.7" y2="1392.4" stroke="#999" stroke-width="1.9"/>
<line x1="609.3" y1="1350.8" x2="625.7" y2="1350.8" stroke="#999" stroke-width="1.9"/>
<line x1="628.9" y1="1378" x2="628.9" y2="1332.5" stroke="#555" stroke-width="1.3"/>
<line x1="620.7" y1="1378" x2="637.1" y2="1378" stroke="#999" stroke-width="1.9"/>
<line x1="620.7" y1="1332.5" x2="637.1" y2="1332.5" stroke="#999" stroke-width="1.9"/>
<line x1="662.8" y1="1339.8" x2="662.8" y2="1279.9" stroke="#555" stroke-width="1.3"/>
<line x1="654.6" y1="1339.8" x2="671" y2="1339.8" stroke="#999" stroke-width="1.9"/>
<line x1="654.6" y1="1279.9" x2="671" y2="1279.9" stroke="#999" stroke-width="1.9"/>
<line x1="674.1" y1="1327" x2="674.1" y2="1278.3" stroke="#555" stroke-width="1.3"/>
<line x1="665.9" y1="1327" x2="682.3" y2="1327" stroke="#999" stroke-width="1.9"/>
<line x1="665.9" y1="1278.3" x2="682.3" y2="1278.3" stroke="#999" stroke-width="1.9"/>
<line x1="696.7" y1="1284.3" x2="696.7" y2="1227.3" stroke="#555" stroke-width="1.3"/>
<line x1="688.5" y1="1284.3" x2="704.9" y2="1284.3" stroke="#999" stroke-width="1.9"/>
<line x1="688.5" y1="1227.3" x2="704.9" y2="1227.3" stroke="#999" stroke-width="1.9"/>
<line x1="708.1" y1="1230.1" x2="708.1" y2="1156.9" stroke="#555" stroke-width="1.3"/>
<line x1="699.9" y1="1230.1" x2="716.3" y2="1230.1" stroke="#999" stroke-width="1.9"/>
<line x1="699.9" y1="1156.9" x2="716.3" y2="1156.9" stroke="#999" stroke-width="1.9"/>
<line x1="351.7" y1="1506" x2="351.7" y2="1497.6" stroke="#000" stroke-width="1.3"/>
<line x1="343.5" y1="1506" x2="359.9" y2="1506" stroke="#000" stroke-width="1.9"/>
<line x1="343.5" y1="1497.6" x2="359.9" y2="1497.6" stroke="#000" stroke-width="1.9"/>
<line x1="374.3" y1="1486.6" x2="374.3" y2="1472.7" stroke="#000" stroke-width="1.3"/>
<line x1="366.1" y1="1486.6" x2="382.5" y2="1486.6" stroke="#000" stroke-width="1.9"/>
<line x1="366.1" y1="1472.7" x2="382.5" y2="1472.7" stroke="#000" stroke-width="1.9"/>
<line x1="396.9" y1="1461.6" x2="396.9" y2="1443.3" stroke="#000" stroke-width="1.3"/>
<line x1="388.7" y1="1461.6" x2="405.1" y2="1461.6" stroke="#000" stroke-width="1.9"/>
<line x1="388.7" y1="1443.3" x2="405.1" y2="1443.3" stroke="#000" stroke-width="1.9"/>
<line x1="419.6" y1="1421.2" x2="419.6" y2="1395.1" stroke="#000" stroke-width="1.3"/>
<line x1="411.4" y1="1421.2" x2="427.8" y2="1421.2" stroke="#000" stroke-width="1.9"/>
<line x1="411.4" y1="1395.1" x2="427.8" y2="1395.1" stroke="#000" stroke-width="1.9"/>
<line x1="430.9" y1="1381.3" x2="430.9" y2="1334.2" stroke="#000" stroke-width="1.3"/>
<line x1="422.7" y1="1381.3" x2="439.1" y2="1381.3" stroke="#000" stroke-width="1.9"/>
<line x1="422.7" y1="1334.2" x2="439.1" y2="1334.2" stroke="#000" stroke-width="1.9"/>
<line x1="459.2" y1="1321.5" x2="459.2" y2="1276" stroke="#000" stroke-width="1.3"/>
<line x1="451" y1="1321.5" x2="467.4" y2="1321.5" stroke="#000" stroke-width="1.9"/>
<line x1="451" y1="1276" x2="467.4" y2="1276" stroke="#000" stroke-width="1.9"/>
<line x1="476.1" y1="1249.4" x2="476.1" y2="1178" stroke="#000" stroke-width="1.3"/>
<line x1="467.9" y1="1249.4" x2="484.3" y2="1249.4" stroke="#000" stroke-width="1.9"/>
<line x1="467.9" y1="1178" x2="484.3" y2="1178" stroke="#000" stroke-width="1.9"/>
<line x1="498.8" y1="1201.2" x2="498.8" y2="1110.9" stroke="#000" stroke-width="1.3"/>
<line x1="490.6" y1="1201.2" x2="506.9" y2="1201.2" stroke="#000" stroke-width="1.9"/>
<line x1="490.6" y1="1110.9" x2="506.9" y2="1110.9" stroke="#000" stroke-width="1.9"/>
<polyline points="215.9,1519.8 306.4,1517.6 351.7,1502.1 374.3,1481 396.9,1453.3 419.6,1409 430.9,1360.8 459.2,1298.2 476.1,1213.4 498.8,1155.8" fill="none" stroke="#000" stroke-width="3.1"/>
<circle cx="215.9" cy="1519.8" r="4.9" fill="#000"/>
<circle cx="306.4" cy="1517.6" r="4.9" fill="#000"/>
<circle cx="351.7" cy="1502.1" r="4.9" fill="#000"/>
<circle cx="374.3" cy="1481" r="4.9" fill="#000"/>
<circle cx="396.9" cy="1453.3" r="4.9" fill="#000"/>
<circle cx="419.6" cy="1409" r="4.9" fill="#000"/>
<circle cx="430.9" cy="1360.8" r="4.9" fill="#000"/>
<circle cx="459.2" cy="1298.2" r="4.9" fill="#000"/>
<circle cx="476.1" cy="1213.4" r="4.9" fill="#000"/>
<circle cx="498.8" cy="1155.8" r="4.9" fill="#000"/>
<polyline points="215.9,1519.8 306.4,1515.9 351.7,1497.6 374.3,1479.9 396.9,1433.9 419.6,1395.7 430.9,1356.4 459.2,1257.2 476.1,1281.6 498.8,1313.2 510.1,1248.3 538.3,1169.1" fill="none" stroke="#00b050" stroke-width="2.6"/>
<circle cx="215.9" cy="1519.8" r="4.9" fill="#00b050"/>
<circle cx="306.4" cy="1515.9" r="4.9" fill="#00b050"/>
<circle cx="351.7" cy="1497.6" r="4.9" fill="#00b050"/>
<circle cx="374.3" cy="1479.9" r="4.9" fill="#00b050"/>
<circle cx="396.9" cy="1433.9" r="4.9" fill="#00b050"/>
<circle cx="419.6" cy="1395.7" r="4.9" fill="#00b050"/>
<circle cx="430.9" cy="1356.4" r="4.9" fill="#00b050"/>
<circle cx="459.2" cy="1257.2" r="4.9" fill="#00b050"/>
<circle cx="476.1" cy="1281.6" r="4.9" fill="#00b050"/>
<circle cx="498.8" cy="1313.2" r="4.9" fill="#00b050"/>
<circle cx="510.1" cy="1248.3" r="4.9" fill="#00b050"/>
<circle cx="538.3" cy="1169.1" r="4.9" fill="#00b050"/>
<polyline points="215.9,1519.8 306.4,1518.1 351.7,1497.6 374.3,1478.2 396.9,1493.2 419.6,1500.4 430.9,1501.5 459.2,1484.9 476.1,1460 498.8,1469.9 510.1,1429.5 538.3,1393.5 549.7,1360.2 577.9,1238.9" fill="none" stroke="#d14fd1" stroke-width="2.6"/>
<circle cx="215.9" cy="1519.8" r="4.9" fill="#d14fd1"/>
<circle cx="306.4" cy="1518.1" r="4.9" fill="#d14fd1"/>
<circle cx="351.7" cy="1497.6" r="4.9" fill="#d14fd1"/>
<circle cx="374.3" cy="1478.2" r="4.9" fill="#d14fd1"/>
<circle cx="396.9" cy="1493.2" r="4.9" fill="#d14fd1"/>
<circle cx="419.6" cy="1500.4" r="4.9" fill="#d14fd1"/>
<circle cx="430.9" cy="1501.5" r="4.9" fill="#d14fd1"/>
<circle cx="459.2" cy="1484.9" r="4.9" fill="#d14fd1"/>
<circle cx="476.1" cy="1460" r="4.9" fill="#d14fd1"/>
<circle cx="498.8" cy="1469.9" r="4.9" fill="#d14fd1"/>
<circle cx="510.1" cy="1429.5" r="4.9" fill="#d14fd1"/>
<circle cx="538.3" cy="1393.5" r="4.9" fill="#d14fd1"/>
<circle cx="549.7" cy="1360.2" r="4.9" fill="#d14fd1"/>
<circle cx="577.9" cy="1238.9" r="4.9" fill="#d14fd1"/>
<polyline points="215.9,1519.8 306.4,1518.7 351.7,1498.7 374.3,1476.6 396.9,1486.6 419.6,1496 430.9,1489.3 459.2,1476.6 476.1,1458.3 498.8,1475.5 510.1,1456.1 538.3,1441.1 549.7,1421.7 577.9,1406.8 589.3,1389.1 617.5,1371.3 628.9,1355.3 662.8,1309.3 674.1,1302.6 696.7,1255.5 708.1,1192.9" fill="none" stroke="#35599f" stroke-width="2.6"/>
<circle cx="215.9" cy="1519.8" r="4.9" fill="#35599f"/>
<circle cx="306.4" cy="1518.7" r="4.9" fill="#35599f"/>
<circle cx="351.7" cy="1498.7" r="4.9" fill="#35599f"/>
<circle cx="374.3" cy="1476.6" r="4.9" fill="#35599f"/>
<circle cx="396.9" cy="1486.6" r="4.9" fill="#35599f"/>
<circle cx="419.6" cy="1496" r="4.9" fill="#35599f"/>
<circle cx="430.9" cy="1489.3" r="4.9" fill="#35599f"/>
<circle cx="459.2" cy="1476.6" r="4.9" fill="#35599f"/>
<circle cx="476.1" cy="1458.3" r="4.9" fill="#35599f"/>
<circle cx="498.8" cy="1475.5" r="4.9" fill="#35599f"/>
<circle cx="510.1" cy="1456.1" r="4.9" fill="#35599f"/>
<circle cx="538.3" cy="1441.1" r="4.9" fill="#35599f"/>
<circle cx="549.7" cy="1421.7" r="4.9" fill="#35599f"/>
<circle cx="577.9" cy="1406.8" r="4.9" fill="#35599f"/>
<circle cx="589.3" cy="1389.1" r="4.9" fill="#35599f"/>
<circle cx="617.5" cy="1371.3" r="4.9" fill="#35599f"/>
<circle cx="628.9" cy="1355.3" r="4.9" fill="#35599f"/>
<circle cx="662.8" cy="1309.3" r="4.9" fill="#35599f"/>
<circle cx="674.1" cy="1302.6" r="4.9" fill="#35599f"/>
<circle cx="696.7" cy="1255.5" r="4.9" fill="#35599f"/>
<circle cx="708.1" cy="1192.9" r="4.9" fill="#35599f"/>
<polygon points="366.2,1398.7 377.8,1398.7 377.8,1436 383.2,1436 372,1457.8 360.8,1436 366.2,1436" fill="#000"/>
<line x1="244.1" y1="1114.8" x2="296.1" y2="1114.8" stroke="#000" stroke-width="2.8"/>
<circle cx="269.8" cy="1114.8" r="6.9" fill="#000"/>
<text x="299.2" y="1120" font-size="25.5">Vehicle</text>
<line x1="244.1" y1="1142.7" x2="296.1" y2="1142.7" stroke="#d14fd1" stroke-width="2.8"/>
<circle cx="269.8" cy="1142.7" r="6.9" fill="#d14fd1"/>
<text x="299.2" y="1147.9" font-size="25.5">Osim</text>
<line x1="244.1" y1="1174" x2="296.1" y2="1174" stroke="#00b050" stroke-width="2.8"/>
<circle cx="269.8" cy="1174" r="6.9" fill="#00b050"/>
<text x="299.2" y="1179.2" font-size="25.5">Soraf</text>
<line x1="244.1" y1="1205.3" x2="296.1" y2="1205.3" stroke="#35599f" stroke-width="2.8"/>
<circle cx="269.8" cy="1205.3" r="6.9" fill="#35599f"/>
<text x="299.2" y="1210.5" font-size="25.5">Combo</text>
<text x="594.5" y="1160.2" font-size="24.9">p=0.0017</text>
<text x="830.5" y="1072.4" font-size="28">G</text>
<line x1="971.7" y1="1067" x2="971.7" y2="1526" stroke="#000" stroke-width="3.2"/>
<line x1="961.7" y1="1524.3" x2="1588.7" y2="1524.3" stroke="#000" stroke-width="3.2"/>
<line x1="961.7" y1="1524.3" x2="971.7" y2="1524.3" stroke="#000" stroke-width="3"/>
<text x="948.7" y="1533.1" font-size="24.5" text-anchor="end">0.0</text>
<line x1="961.7" y1="1437.1" x2="971.7" y2="1437.1" stroke="#000" stroke-width="3"/>
<text x="948.7" y="1445.9" font-size="24.5" text-anchor="end">0.2</text>
<line x1="961.7" y1="1349.8" x2="971.7" y2="1349.8" stroke="#000" stroke-width="3"/>
<text x="948.7" y="1358.6" font-size="24.5" text-anchor="end">0.4</text>
<line x1="961.7" y1="1262.6" x2="971.7" y2="1262.6" stroke="#000" stroke-width="3"/>
<text x="948.7" y="1271.4" font-size="24.5" text-anchor="end">0.6</text>
<line x1="961.7" y1="1175.3" x2="971.7" y2="1175.3" stroke="#000" stroke-width="3"/>
<text x="948.7" y="1184.1" font-size="24.5" text-anchor="end">0.8</text>
<line x1="961.7" y1="1088.1" x2="971.7" y2="1088.1" stroke="#000" stroke-width="3"/>
<text x="948.7" y="1096.9" font-size="24.5" text-anchor="end">1.0</text>
<line x1="971.7" y1="1524.3" x2="971.7" y2="1533.3" stroke="#000" stroke-width="3"/>
<text x="973.2" y="1563.5" font-size="24.5" text-anchor="middle">0</text>
<line x1="1038.2" y1="1524.3" x2="1038.2" y2="1533.3" stroke="#000" stroke-width="3"/>
<text x="1039.7" y="1563.5" font-size="24.5" text-anchor="middle">10</text>
<line x1="1104.7" y1="1524.3" x2="1104.7" y2="1533.3" stroke="#000" stroke-width="3"/>
<text x="1106.2" y="1563.5" font-size="24.5" text-anchor="middle">20</text>
<line x1="1171.3" y1="1524.3" x2="1171.3" y2="1533.3" stroke="#000" stroke-width="3"/>
<text x="1172.8" y="1563.5" font-size="24.5" text-anchor="middle">30</text>
<line x1="1237.8" y1="1524.3" x2="1237.8" y2="1533.3" stroke="#000" stroke-width="3"/>
<text x="1239.3" y="1563.5" font-size="24.5" text-anchor="middle">40</text>
<line x1="1304.3" y1="1524.3" x2="1304.3" y2="1533.3" stroke="#000" stroke-width="3"/>
<text x="1305.8" y="1563.5" font-size="24.5" text-anchor="middle">50</text>
<line x1="1370.8" y1="1524.3" x2="1370.8" y2="1533.3" stroke="#000" stroke-width="3"/>
<text x="1372.3" y="1563.5" font-size="24.5" text-anchor="middle">60</text>
<line x1="1437.3" y1="1524.3" x2="1437.3" y2="1533.3" stroke="#000" stroke-width="3"/>
<text x="1438.8" y="1563.5" font-size="24.5" text-anchor="middle">70</text>
<line x1="1503.9" y1="1524.3" x2="1503.9" y2="1533.3" stroke="#000" stroke-width="3"/>
<text x="1505.4" y="1563.5" font-size="24.5" text-anchor="middle">80</text>
<line x1="1570.4" y1="1524.3" x2="1570.4" y2="1533.3" stroke="#000" stroke-width="3"/>
<text x="1571.9" y="1563.5" font-size="24.5" text-anchor="middle">90</text>
<text x="1283.5" y="1598.5" font-size="28.6" text-anchor="middle">Days</text>
<text x="902.5" y="1296" font-size="28.6" text-anchor="middle" transform="rotate(-90 902.5 1296)">Survival</text>
<polyline points="1260.7,1088.1 1280.7,1212.9 1307.3,1399.5 1320.6,1461.9 1353.9,1461.9 1367.2,1461.9 1400.4,1524.3" fill="none" stroke="#000" stroke-width="2.6"/>
<circle cx="1260.7" cy="1088.1" r="4.9" fill="#000"/>
<circle cx="1280.7" cy="1212.9" r="4.9" fill="#000"/>
<circle cx="1307.3" cy="1399.5" r="4.9" fill="#000"/>
<circle cx="1320.6" cy="1461.9" r="4.9" fill="#000"/>
<circle cx="1353.9" cy="1461.9" r="4.9" fill="#000"/>
<circle cx="1367.2" cy="1461.9" r="4.9" fill="#000"/>
<circle cx="1400.4" cy="1524.3" r="4.9" fill="#000"/>
<polyline points="1227.5,1088.1 1260.7,1197.2 1280.7,1251.7 1307.3,1251.7 1320.6,1306.2 1353.9,1415.2 1367.2,1469.8 1400.4,1524.3" fill="none" stroke="#00b050" stroke-width="2.6"/>
<circle cx="1227.5" cy="1088.1" r="4.9" fill="#00b050"/>
<circle cx="1260.7" cy="1197.2" r="4.9" fill="#00b050"/>
<circle cx="1280.7" cy="1251.7" r="4.9" fill="#00b050"/>
<circle cx="1307.3" cy="1251.7" r="4.9" fill="#00b050"/>
<circle cx="1320.6" cy="1306.2" r="4.9" fill="#00b050"/>
<circle cx="1353.9" cy="1415.2" r="4.9" fill="#00b050"/>
<circle cx="1367.2" cy="1469.8" r="4.9" fill="#00b050"/>
<circle cx="1400.4" cy="1524.3" r="4.9" fill="#00b050"/>
<polyline points="1367.2,1088.1 1400.4,1306.2 1420.4,1306.2 1447,1379 1460.3,1379 1500.2,1379 1513.5,1379 1540.1,1524.3" fill="none" stroke="#d14fd1" stroke-width="2.6"/>
<circle cx="1367.2" cy="1088.1" r="4.9" fill="#d14fd1"/>
<circle cx="1400.4" cy="1306.2" r="4.9" fill="#d14fd1"/>
<circle cx="1420.4" cy="1306.2" r="4.9" fill="#d14fd1"/>
<circle cx="1447" cy="1379" r="4.9" fill="#d14fd1"/>
<circle cx="1460.3" cy="1379" r="4.9" fill="#d14fd1"/>
<circle cx="1500.2" cy="1379" r="4.9" fill="#d14fd1"/>
<circle cx="1513.5" cy="1379" r="4.9" fill="#d14fd1"/>
<circle cx="1540.1" cy="1524.3" r="4.9" fill="#d14fd1"/>
<polyline points="973.7,1088.1 1027.9,1088.1 1047.9,1088.1 1081.1,1088.1 1134.3,1088.1 1147.6,1088.1 1187.6,1088.1 1214.2,1088.1 1227.5,1088.1 1260.7,1088.1 1280.7,1088.1 1307.3,1088.1 1320.6,1088.1 1353.9,1088.1 1367.2,1088.1 1400.4,1088.1 1420.4,1142.6 1447,1142.6 1460.3,1142.6 1500.2,1197.2 1513.5,1197.2 1540.1,1197.2 1553.4,1251.7 1586.7,1524.3" fill="none" stroke="#35599f" stroke-width="2.6"/>
<circle cx="973.7" cy="1088.1" r="4.9" fill="#35599f"/>
<circle cx="1027.9" cy="1088.1" r="4.9" fill="#35599f"/>
<circle cx="1047.9" cy="1088.1" r="4.9" fill="#35599f"/>
<circle cx="1081.1" cy="1088.1" r="4.9" fill="#35599f"/>
<circle cx="1134.3" cy="1088.1" r="4.9" fill="#35599f"/>
<circle cx="1147.6" cy="1088.1" r="4.9" fill="#35599f"/>
<circle cx="1187.6" cy="1088.1" r="4.9" fill="#35599f"/>
<circle cx="1214.2" cy="1088.1" r="4.9" fill="#35599f"/>
<circle cx="1227.5" cy="1088.1" r="4.9" fill="#35599f"/>
<circle cx="1260.7" cy="1088.1" r="4.9" fill="#35599f"/>
<circle cx="1280.7" cy="1088.1" r="4.9" fill="#35599f"/>
<circle cx="1307.3" cy="1088.1" r="4.9" fill="#35599f"/>
<circle cx="1320.6" cy="1088.1" r="4.9" fill="#35599f"/>
<circle cx="1353.9" cy="1088.1" r="4.9" fill="#35599f"/>
<circle cx="1367.2" cy="1088.1" r="4.9" fill="#35599f"/>
<circle cx="1400.4" cy="1088.1" r="4.9" fill="#35599f"/>
<circle cx="1420.4" cy="1142.6" r="4.9" fill="#35599f"/>
<circle cx="1447" cy="1142.6" r="4.9" fill="#35599f"/>
<circle cx="1460.3" cy="1142.6" r="4.9" fill="#35599f"/>
<circle cx="1500.2" cy="1197.2" r="4.9" fill="#35599f"/>
<circle cx="1513.5" cy="1197.2" r="4.9" fill="#35599f"/>
<circle cx="1540.1" cy="1197.2" r="4.9" fill="#35599f"/>
<circle cx="1553.4" cy="1251.7" r="4.9" fill="#35599f"/>
<circle cx="1586.7" cy="1524.3" r="4.9" fill="#35599f"/>
<line x1="1020.3" y1="1133" x2="1072" y2="1133" stroke="#000" stroke-width="3.2"/>
<circle cx="1045.8" cy="1133" r="7" fill="#000"/>
<text x="1076.5" y="1136.6" font-size="25.6">Vehicle</text>
<line x1="1020.3" y1="1160.4" x2="1072" y2="1160.4" stroke="#d14fd1" stroke-width="3.2"/>
<circle cx="1045.8" cy="1160.4" r="7" fill="#d14fd1"/>
<text x="1076.5" y="1167.3" font-size="25.6">Osim</text>
<line x1="1020.3" y1="1192.1" x2="1072" y2="1192.1" stroke="#00b050" stroke-width="3.2"/>
<circle cx="1045.8" cy="1192.1" r="7" fill="#00b050"/>
<text x="1076.5" y="1200" font-size="25.6">Soraf</text>
<line x1="1020.3" y1="1221.7" x2="1072" y2="1221.7" stroke="#35599f" stroke-width="3.2"/>
<circle cx="1045.8" cy="1221.7" r="7" fill="#35599f"/>
<text x="1076.5" y="1231.3" font-size="25.6">Combo</text>
<text x="1424" y="1271.7" font-size="25.3">p=0.0017</text>
<text x="12.6" y="1622.3" font-size="25.5">H</text>
<line x1="107.5" y1="1653.9" x2="107.5" y2="1963.5" stroke="#000" stroke-width="3.6"/>
<line x1="94" y1="1961.8" x2="432.1" y2="1961.8" stroke="#000" stroke-width="3.6"/>
<line x1="94" y1="1655.4" x2="107.5" y2="1655.4" stroke="#000" stroke-width="3.3"/>
<text x="89.7" y="1664.6" font-size="23.8" text-anchor="end">25</text>
<line x1="94" y1="1716.8" x2="107.5" y2="1716.8" stroke="#000" stroke-width="3.3"/>
<text x="89.7" y="1726" font-size="23.8" text-anchor="end">20</text>
<line x1="94" y1="1778" x2="107.5" y2="1778" stroke="#000" stroke-width="3.3"/>
<text x="89.7" y="1787.2" font-size="23.8" text-anchor="end">15</text>
<line x1="94" y1="1839.2" x2="107.5" y2="1839.2" stroke="#000" stroke-width="3.3"/>
<text x="89.7" y="1848.4" font-size="23.8" text-anchor="end">10</text>
<line x1="94" y1="1900.6" x2="107.5" y2="1900.6" stroke="#000" stroke-width="3.3"/>
<text x="89.7" y="1909.8" font-size="23.8" text-anchor="end">5</text>
<line x1="94" y1="1961.8" x2="107.5" y2="1961.8" stroke="#000" stroke-width="3.3"/>
<text x="89.7" y="1971" font-size="23.8" text-anchor="end">0</text>
<path d="M121.5,1961.8 L121.5,1793.8 L140.6,1793.8 L140.6,1961.8" fill="none" stroke="#000" stroke-width="4.6"/>
<line x1="131" y1="1791.5" x2="131" y2="1767.6" stroke="#000" stroke-width="2.6"/>
<line x1="125" y1="1767.6" x2="137" y2="1767.6" stroke="#000" stroke-width="2.6"/>
<path d="M156.9,1961.8 L156.9,1805 L176.5,1805 L176.5,1961.8" fill="none" stroke="#ff0000" stroke-width="4.6"/>
<line x1="166.7" y1="1802.7" x2="166.7" y2="1772.4" stroke="#ff0000" stroke-width="2.6"/>
<line x1="160.7" y1="1772.4" x2="172.7" y2="1772.4" stroke="#ff0000" stroke-width="2.6"/>
<path d="M192.5,1961.8 L192.5,1748 L212.4,1748 L212.4,1961.8" fill="none" stroke="#00b050" stroke-width="4.6"/>
<line x1="202.5" y1="1745.7" x2="202.5" y2="1703.6" stroke="#00b050" stroke-width="2.6"/>
<line x1="196.5" y1="1703.6" x2="208.5" y2="1703.6" stroke="#00b050" stroke-width="2.6"/>
<path d="M229,1961.8 L229,1800.5 L248,1800.5 L248,1961.8" fill="none" stroke="#0070c0" stroke-width="4.6"/>
<line x1="238.5" y1="1798.2" x2="238.5" y2="1758.4" stroke="#0070c0" stroke-width="2.6"/>
<line x1="232.5" y1="1758.4" x2="244.5" y2="1758.4" stroke="#0070c0" stroke-width="2.6"/>
<path d="M324.4,1961.8 L324.4,1790.4 L343.5,1790.4 L343.5,1961.8" fill="none" stroke="#ff0000" stroke-width="4.6"/>
<line x1="333.9" y1="1788.1" x2="333.9" y2="1764.5" stroke="#ff0000" stroke-width="2.6"/>
<line x1="327.9" y1="1764.5" x2="339.9" y2="1764.5" stroke="#ff0000" stroke-width="2.6"/>
<path d="M396,1961.8 L396,1790.1 L415.6,1790.1 L415.6,1961.8" fill="none" stroke="#0070c0" stroke-width="4.6"/>
<line x1="405.8" y1="1787.8" x2="405.8" y2="1744.9" stroke="#0070c0" stroke-width="2.6"/>
<line x1="399.8" y1="1744.9" x2="411.8" y2="1744.9" stroke="#0070c0" stroke-width="2.6"/>
<circle cx="123.9" cy="1766.4" r="5" fill="#000"/>
<circle cx="138.2" cy="1772.6" r="5" fill="#000"/>
<circle cx="123.9" cy="1779.8" r="5" fill="#000"/>
<circle cx="131" cy="1778.8" r="5" fill="#000"/>
<circle cx="138.2" cy="1789.3" r="5" fill="#000"/>
<circle cx="131" cy="1793.2" r="5" fill="#000"/>
<circle cx="131" cy="1816.6" r="5" fill="#000"/>
<circle cx="131" cy="1836" r="5" fill="#000"/>
<rect x="161.9" y="1740.8" width="9.8" height="9.8" fill="#ff0000"/>
<rect x="161.9" y="1767.4" width="9.8" height="9.8" fill="#ff0000"/>
<rect x="161.9" y="1789.8" width="9.8" height="9.8" fill="#ff0000"/>
<rect x="161.9" y="1802" width="9.8" height="9.8" fill="#ff0000"/>
<rect x="154.7" y="1814" width="9.8" height="9.8" fill="#ff0000"/>
<rect x="162.5" y="1815.4" width="9.8" height="9.8" fill="#ff0000"/>
<rect x="154.7" y="1825.1" width="9.8" height="9.8" fill="#ff0000"/>
<rect x="168.7" y="1822.8" width="9.8" height="9.8" fill="#ff0000"/>
<polygon points="197.1,1678.6 208.1,1678.6 202.6,1668.7" fill="#00b050"/>
<polygon points="197.1,1708.6 208.1,1708.6 202.6,1698.7" fill="#00b050"/>
<polygon points="190,1748.6 201,1748.6 195.5,1738.7" fill="#00b050"/>
<polygon points="197.1,1748.6 208.1,1748.6 202.6,1738.7" fill="#00b050"/>
<polygon points="204,1748.6 215,1748.6 209.5,1738.7" fill="#00b050"/>
<polygon points="197.1,1769.2 208.1,1769.2 202.6,1759.3" fill="#00b050"/>
<polygon points="197.1,1786 208.1,1786 202.6,1776.1" fill="#00b050"/>
<polygon points="197.1,1810.5 208.1,1810.5 202.6,1800.6" fill="#00b050"/>
<polygon points="233,1709.4 244,1709.4 238.5,1719.3" fill="#0070c0"/>
<polygon points="233.2,1769.7 244.2,1769.7 238.7,1779.6" fill="#0070c0"/>
<polygon points="225.8,1786.4 236.8,1786.4 231.3,1796.3" fill="#0070c0"/>
<polygon points="240.4,1789 251.4,1789 245.9,1798.9" fill="#0070c0"/>
<polygon points="233.2,1810.8 244.2,1810.8 238.7,1820.7" fill="#0070c0"/>
<polygon points="225.8,1815.6 236.8,1815.6 231.3,1825.5" fill="#0070c0"/>
<polygon points="240.4,1816.6 251.4,1816.6 245.9,1826.5" fill="#0070c0"/>
<polygon points="233.2,1839.1 244.2,1839.1 238.7,1849" fill="#0070c0"/>
<rect x="322" y="1758.5" width="9.8" height="9.8" fill="#ff0000"/>
<rect x="336.6" y="1752.9" width="9.8" height="9.8" fill="#ff0000"/>
<rect x="329" y="1768.9" width="9.8" height="9.8" fill="#ff0000"/>
<rect x="322" y="1772.6" width="9.8" height="9.8" fill="#ff0000"/>
<rect x="329" y="1781.5" width="9.8" height="9.8" fill="#ff0000"/>
<rect x="329" y="1802.6" width="9.8" height="9.8" fill="#ff0000"/>
<rect x="322" y="1808.8" width="9.8" height="9.8" fill="#ff0000"/>
<rect x="336.6" y="1808.8" width="9.8" height="9.8" fill="#ff0000"/>
<polygon points="400.3,1692.5 411.3,1692.5 405.8,1702.4" fill="#0070c0"/>
<polygon points="393,1760.4 404,1760.4 398.5,1770.3" fill="#0070c0"/>
<polygon points="400.3,1766 411.3,1766 405.8,1775.9" fill="#0070c0"/>
<polygon points="400.3,1784.3 411.3,1784.3 405.8,1794.2" fill="#0070c0"/>
<polygon points="407,1802.5 418,1802.5 412.5,1812.4" fill="#0070c0"/>
<polygon points="393,1813.8 404,1813.8 398.5,1823.7" fill="#0070c0"/>
<polygon points="400.3,1809 411.3,1809 405.8,1818.9" fill="#0070c0"/>
<line x1="184.4" y1="1961.8" x2="184.4" y2="1974.3" stroke="#000" stroke-width="3.3"/>
<text x="184.4" y="2000.2" font-size="24" text-anchor="middle">10 days</text>
<line x1="351.6" y1="1961.8" x2="351.6" y2="1974.3" stroke="#000" stroke-width="3.3"/>
<text x="351.6" y="2000.2" font-size="24" text-anchor="middle">28 days</text>
<text x="269.9" y="2028.1" font-size="25" font-weight="normal" text-anchor="middle">Leukocytes</text>
<polyline points="130.5,1675.6 130.5,1662.4 159.4,1662.4 159.4,1675.6" fill="none" stroke="#000" stroke-width="3.5" stroke-linejoin="miter" stroke-linecap="butt"/>
<polyline points="167,1675.6 167,1662.4 237.1,1662.4 237.1,1675.6" fill="none" stroke="#000" stroke-width="3.5" stroke-linejoin="miter" stroke-linecap="butt"/>
<polyline points="130.5,1632.1 130.5,1618.1 237.1,1618.1 237.1,1632.1" fill="none" stroke="#000" stroke-width="3.5" stroke-linejoin="miter" stroke-linecap="butt"/>
<polyline points="332.5,1678.4 332.5,1663.8 404.1,1663.8 404.1,1678.4" fill="none" stroke="#000" stroke-width="3.5" stroke-linejoin="miter" stroke-linecap="butt"/>
<text x="145.1" y="1648.9" font-size="21.5" font-weight="normal" text-anchor="middle">ns</text>
<text x="202" y="1648.9" font-size="21.5" font-weight="normal" text-anchor="middle">ns</text>
<text x="184.1" y="1604.6" font-size="21.5" font-weight="normal" text-anchor="middle">ns</text>
<text x="368.2" y="1650.3" font-size="21.5" font-weight="normal" text-anchor="middle">ns</text>
<text x="47.5" y="1807.9" font-size="26.5" text-anchor="middle" transform="rotate(-90 47.5 1807.9)">10<tspan dy="-11.5" font-size="20">9</tspan><tspan dy="11.5">/L</tspan></text>
<line x1="519.6" y1="1653.9" x2="519.6" y2="1963.5" stroke="#000" stroke-width="3.6"/>
<line x1="506.1" y1="1961.8" x2="843.7" y2="1961.8" stroke="#000" stroke-width="3.6"/>
<line x1="506.1" y1="1655.4" x2="519.6" y2="1655.4" stroke="#000" stroke-width="3.3"/>
<text x="501.8" y="1664.6" font-size="23.8" text-anchor="end">2.0</text>
<line x1="506.1" y1="1732" x2="519.6" y2="1732" stroke="#000" stroke-width="3.3"/>
<text x="501.8" y="1741.2" font-size="23.8" text-anchor="end">1.5</text>
<line x1="506.1" y1="1808.6" x2="519.6" y2="1808.6" stroke="#000" stroke-width="3.3"/>
<text x="501.8" y="1817.8" font-size="23.8" text-anchor="end">1.0</text>
<line x1="506.1" y1="1885.2" x2="519.6" y2="1885.2" stroke="#000" stroke-width="3.3"/>
<text x="501.8" y="1894.4" font-size="23.8" text-anchor="end">0.5</text>
<line x1="506.1" y1="1961.8" x2="519.6" y2="1961.8" stroke="#000" stroke-width="3.3"/>
<text x="501.8" y="1971" font-size="23.8" text-anchor="end">0.0</text>
<path d="M533.9,1961.8 L533.9,1823 L553,1823 L553,1961.8" fill="none" stroke="#000" stroke-width="4.6"/>
<line x1="543.5" y1="1820.7" x2="543.5" y2="1802.4" stroke="#000" stroke-width="2.6"/>
<line x1="537.5" y1="1802.4" x2="549.5" y2="1802.4" stroke="#000" stroke-width="2.6"/>
<path d="M569.6,1961.8 L569.6,1821.8 L588.9,1821.8 L588.9,1961.8" fill="none" stroke="#ff0000" stroke-width="4.6"/>
<line x1="579.2" y1="1819.5" x2="579.2" y2="1770.2" stroke="#ff0000" stroke-width="2.6"/>
<line x1="573.2" y1="1770.2" x2="585.2" y2="1770.2" stroke="#ff0000" stroke-width="2.6"/>
<path d="M605.5,1961.8 L605.5,1797.1 L624.6,1797.1 L624.6,1961.8" fill="none" stroke="#00b050" stroke-width="4.6"/>
<line x1="615" y1="1794.8" x2="615" y2="1755.6" stroke="#00b050" stroke-width="2.6"/>
<line x1="609" y1="1755.6" x2="621" y2="1755.6" stroke="#00b050" stroke-width="2.6"/>
<path d="M641.4,1961.8 L641.4,1835 L661,1835 L661,1961.8" fill="none" stroke="#0070c0" stroke-width="4.6"/>
<line x1="651.2" y1="1832.7" x2="651.2" y2="1802.4" stroke="#0070c0" stroke-width="2.6"/>
<line x1="645.2" y1="1802.4" x2="657.2" y2="1802.4" stroke="#0070c0" stroke-width="2.6"/>
<path d="M737.4,1961.8 L737.4,1837.3 L756.4,1837.3 L756.4,1961.8" fill="none" stroke="#ff0000" stroke-width="4.6"/>
<line x1="746.9" y1="1835" x2="746.9" y2="1804.7" stroke="#ff0000" stroke-width="2.6"/>
<line x1="740.9" y1="1804.7" x2="752.9" y2="1804.7" stroke="#ff0000" stroke-width="2.6"/>
<path d="M808.9,1961.8 L808.9,1823 L828.6,1823 L828.6,1961.8" fill="none" stroke="#0070c0" stroke-width="4.6"/>
<line x1="818.8" y1="1820.7" x2="818.8" y2="1786.4" stroke="#0070c0" stroke-width="2.6"/>
<line x1="812.8" y1="1786.4" x2="824.8" y2="1786.4" stroke="#0070c0" stroke-width="2.6"/>
<circle cx="543.5" cy="1793.4" r="5" fill="#000"/>
<circle cx="536.5" cy="1807.5" r="5" fill="#000"/>
<circle cx="543.5" cy="1814.5" r="5" fill="#000"/>
<circle cx="536.5" cy="1822.9" r="5" fill="#000"/>
<circle cx="550.5" cy="1822.9" r="5" fill="#000"/>
<circle cx="536.5" cy="1836.9" r="5" fill="#000"/>
<circle cx="550.5" cy="1836.9" r="5" fill="#000"/>
<circle cx="543.5" cy="1870.6" r="5" fill="#000"/>
<rect x="574.5" y="1711.9" width="9.8" height="9.8" fill="#ff0000"/>
<rect x="574.5" y="1773.7" width="9.8" height="9.8" fill="#ff0000"/>
<rect x="574.5" y="1834.8" width="9.8" height="9.8" fill="#ff0000"/>
<rect x="568" y="1848.9" width="9.8" height="9.8" fill="#ff0000"/>
<rect x="581.2" y="1848.9" width="9.8" height="9.8" fill="#ff0000"/>
<rect x="574.5" y="1848.9" width="9.8" height="9.8" fill="#ff0000"/>
<polygon points="610.1,1738.1 621.1,1738.1 615.6,1728.2" fill="#00b050"/>
<polygon points="610.1,1755.5 621.1,1755.5 615.6,1745.6" fill="#00b050"/>
<polygon points="602.5,1784.4 613.5,1784.4 608,1774.5" fill="#00b050"/>
<polygon points="610.1,1797 621.1,1797 615.6,1787.1" fill="#00b050"/>
<polygon points="617.1,1797 628.1,1797 622.6,1787.1" fill="#00b050"/>
<polygon points="610.1,1830.1 621.1,1830.1 615.6,1820.2" fill="#00b050"/>
<polygon points="602.5,1846.1 613.5,1846.1 608,1836.2" fill="#00b050"/>
<polygon points="617.1,1846.1 628.1,1846.1 622.6,1836.2" fill="#00b050"/>
<polygon points="645.4,1773.1 656.4,1773.1 650.9,1783" fill="#0070c0"/>
<polygon points="638.2,1802.5 649.2,1802.5 643.7,1812.4" fill="#0070c0"/>
<polygon points="645.4,1802.5 656.4,1802.5 650.9,1812.4" fill="#0070c0"/>
<polygon points="638.2,1818 649.2,1818 643.7,1827.9" fill="#0070c0"/>
<polygon points="653,1818 664,1818 658.5,1827.9" fill="#0070c0"/>
<polygon points="645.4,1846 656.4,1846 650.9,1855.9" fill="#0070c0"/>
<polygon points="645.4,1862.9 656.4,1862.9 650.9,1872.8" fill="#0070c0"/>
<rect x="742" y="1773.7" width="9.8" height="9.8" fill="#ff0000"/>
<rect x="742" y="1802.6" width="9.8" height="9.8" fill="#ff0000"/>
<rect x="742" y="1819.4" width="9.8" height="9.8" fill="#ff0000"/>
<rect x="735" y="1848.9" width="9.8" height="9.8" fill="#ff0000"/>
<rect x="749" y="1848.9" width="9.8" height="9.8" fill="#ff0000"/>
<rect x="742" y="1865.7" width="9.8" height="9.8" fill="#ff0000"/>
<polygon points="813,1756.2 824,1756.2 818.5,1766.1" fill="#0070c0"/>
<polygon points="813,1787.1 824,1787.1 818.5,1797" fill="#0070c0"/>
<polygon points="806,1802.5 817,1802.5 811.5,1812.4" fill="#0070c0"/>
<polygon points="813,1815.2 824,1815.2 818.5,1825.1" fill="#0070c0"/>
<polygon points="806,1862.9 817,1862.9 811.5,1872.8" fill="#0070c0"/>
<polygon points="820,1862.9 831,1862.9 825.5,1872.8" fill="#0070c0"/>
<line x1="596.8" y1="1961.8" x2="596.8" y2="1974.3" stroke="#000" stroke-width="3.3"/>
<text x="596.8" y="2000.2" font-size="24" text-anchor="middle">10 days</text>
<line x1="764.6" y1="1961.8" x2="764.6" y2="1974.3" stroke="#000" stroke-width="3.3"/>
<text x="764.6" y="2000.2" font-size="24" text-anchor="middle">28 days</text>
<text x="685.2" y="2026.3" font-size="25" font-weight="normal" text-anchor="middle">Monocytes</text>
<polyline points="537.3,1700.3 537.3,1686.8 577.1,1686.8 577.1,1700.3" fill="none" stroke="#000" stroke-width="3.5" stroke-linejoin="miter" stroke-linecap="butt"/>
<polyline points="580.5,1700.3 580.5,1686.8 651.5,1686.8 651.5,1700.3" fill="none" stroke="#000" stroke-width="3.5" stroke-linejoin="miter" stroke-linecap="butt"/>
<polyline points="543.5,1653.1 543.5,1639.1 650.1,1639.1 650.1,1653.1" fill="none" stroke="#000" stroke-width="3.5" stroke-linejoin="miter" stroke-linecap="butt"/>
<polyline points="742.7,1758.4 742.7,1724.7 824.1,1724.7 824.1,1740.1" fill="none" stroke="#000" stroke-width="3.5" stroke-linejoin="miter" stroke-linecap="butt"/>
<text x="556.7" y="1672.8" font-size="21.5" font-weight="normal" text-anchor="middle">ns</text>
<text x="616.4" y="1672.8" font-size="21.5" font-weight="normal" text-anchor="middle">ns</text>
<text x="596.8" y="1625.9" font-size="21.5" font-weight="normal" text-anchor="middle">ns</text>
<text x="782.8" y="1710.7" font-size="21.5" font-weight="normal" text-anchor="middle">ns</text>
<text x="453.9" y="1808.1" font-size="26.5" text-anchor="middle" transform="rotate(-90 453.9 1808.1)">10<tspan dy="-11.5" font-size="20">9</tspan><tspan dy="11.5">/L</tspan></text>
<line x1="922.6" y1="1655" x2="922.6" y2="1964.1" stroke="#000" stroke-width="3.6"/>
<line x1="909.1" y1="1962.4" x2="1247.6" y2="1962.4" stroke="#000" stroke-width="3.6"/>
<line x1="909.1" y1="1656.5" x2="922.6" y2="1656.5" stroke="#000" stroke-width="3.3"/>
<text x="904.8" y="1665.7" font-size="23.8" text-anchor="end">20</text>
<line x1="909.1" y1="1733.1" x2="922.6" y2="1733.1" stroke="#000" stroke-width="3.3"/>
<text x="904.8" y="1742.3" font-size="23.8" text-anchor="end">15</text>
<line x1="909.1" y1="1809.4" x2="922.6" y2="1809.4" stroke="#000" stroke-width="3.3"/>
<text x="904.8" y="1818.6" font-size="23.8" text-anchor="end">10</text>
<line x1="909.1" y1="1886" x2="922.6" y2="1886" stroke="#000" stroke-width="3.3"/>
<text x="904.8" y="1895.2" font-size="23.8" text-anchor="end">5</text>
<line x1="909.1" y1="1962.4" x2="922.6" y2="1962.4" stroke="#000" stroke-width="3.3"/>
<text x="904.8" y="1971.6" font-size="23.8" text-anchor="end">0</text>
<path d="M937.8,1962.4 L937.8,1872.4 L956.5,1872.4 L956.5,1962.4" fill="none" stroke="#000" stroke-width="4.6"/>
<line x1="947.2" y1="1870.1" x2="947.2" y2="1836.9" stroke="#000" stroke-width="2.6"/>
<line x1="941.2" y1="1836.9" x2="953.2" y2="1836.9" stroke="#000" stroke-width="2.6"/>
<path d="M972.8,1962.4 L972.8,1886.9 L991.9,1886.9 L991.9,1962.4" fill="none" stroke="#ff0000" stroke-width="4.6"/>
<line x1="982.4" y1="1884.6" x2="982.4" y2="1874" stroke="#ff0000" stroke-width="2.6"/>
<line x1="976.4" y1="1874" x2="988.4" y2="1874" stroke="#ff0000" stroke-width="2.6"/>
<path d="M1009,1962.4 L1009,1828 L1028.1,1828 L1028.1,1962.4" fill="none" stroke="#00b050" stroke-width="4.6"/>
<line x1="1018.6" y1="1825.7" x2="1018.6" y2="1800.5" stroke="#00b050" stroke-width="2.6"/>
<line x1="1012.6" y1="1800.5" x2="1024.6" y2="1800.5" stroke="#00b050" stroke-width="2.6"/>
<path d="M1044.1,1962.4 L1044.1,1906.6 L1064,1906.6 L1064,1962.4" fill="none" stroke="#0070c0" stroke-width="4.6"/>
<line x1="1054.1" y1="1904.3" x2="1054.1" y2="1881.8" stroke="#0070c0" stroke-width="2.6"/>
<line x1="1048.1" y1="1881.8" x2="1060.1" y2="1881.8" stroke="#0070c0" stroke-width="2.6"/>
<path d="M1140.4,1962.4 L1140.4,1827.2 L1159.4,1827.2 L1159.4,1962.4" fill="none" stroke="#ff0000" stroke-width="4.6"/>
<line x1="1149.9" y1="1824.9" x2="1149.9" y2="1803.3" stroke="#ff0000" stroke-width="2.6"/>
<line x1="1143.9" y1="1803.3" x2="1155.9" y2="1803.3" stroke="#ff0000" stroke-width="2.6"/>
<path d="M1212.5,1962.4 L1212.5,1847.7 L1231,1847.7 L1231,1962.4" fill="none" stroke="#0070c0" stroke-width="4.6"/>
<line x1="1221.7" y1="1845.4" x2="1221.7" y2="1797.7" stroke="#0070c0" stroke-width="2.6"/>
<line x1="1215.7" y1="1797.7" x2="1227.7" y2="1797.7" stroke="#0070c0" stroke-width="2.6"/>
<circle cx="947" cy="1825.7" r="5" fill="#000"/>
<circle cx="939.4" cy="1851" r="5" fill="#000"/>
<circle cx="947" cy="1856" r="5" fill="#000"/>
<circle cx="947" cy="1863.6" r="5" fill="#000"/>
<circle cx="947" cy="1891.7" r="5" fill="#000"/>
<circle cx="947" cy="1906.5" r="5" fill="#000"/>
<circle cx="947" cy="1916.9" r="5" fill="#000"/>
<rect x="980" y="1848.9" width="9.8" height="9.8" fill="#ff0000"/>
<rect x="976.6" y="1879.7" width="9.8" height="9.8" fill="#ff0000"/>
<rect x="986.5" y="1879.7" width="9.8" height="9.8" fill="#ff0000"/>
<rect x="980" y="1892.4" width="9.8" height="9.8" fill="#ff0000"/>
<rect x="973.3" y="1910.6" width="9.8" height="9.8" fill="#ff0000"/>
<rect x="986.5" y="1910.6" width="9.8" height="9.8" fill="#ff0000"/>
<rect x="980" y="1912" width="9.8" height="9.8" fill="#ff0000"/>
<polygon points="1013.1,1797 1024.1,1797 1018.6,1787.1" fill="#00b050"/>
<polygon points="1016.7,1797 1027.7,1797 1022.2,1787.1" fill="#00b050"/>
<polygon points="1013.1,1816.6 1024.1,1816.6 1018.6,1806.7" fill="#00b050"/>
<polygon points="1009.7,1827.9 1020.7,1827.9 1015.2,1818" fill="#00b050"/>
<polygon points="1018.1,1827.9 1029.1,1827.9 1023.6,1818" fill="#00b050"/>
<polygon points="1013.1,1845.5 1024.1,1845.5 1018.6,1835.6" fill="#00b050"/>
<polygon points="1006.3,1855.9 1017.3,1855.9 1011.8,1846" fill="#00b050"/>
<polygon points="1016.7,1855.9 1027.7,1855.9 1022.2,1846" fill="#00b050"/>
<polygon points="1049,1857.2 1060,1857.2 1054.5,1867.1" fill="#0070c0"/>
<polygon points="1049,1872.7 1060,1872.7 1054.5,1882.6" fill="#0070c0"/>
<polygon points="1049,1888.1 1060,1888.1 1054.5,1898" fill="#0070c0"/>
<polygon points="1042,1912 1053,1912 1047.5,1921.9" fill="#0070c0"/>
<polygon points="1056,1912 1067,1912 1061.5,1921.9" fill="#0070c0"/>
<polygon points="1049,1914.8 1060,1914.8 1054.5,1924.7" fill="#0070c0"/>
<rect x="1145" y="1791.4" width="9.8" height="9.8" fill="#ff0000"/>
<rect x="1152" y="1787.7" width="9.8" height="9.8" fill="#ff0000"/>
<rect x="1145" y="1806.8" width="9.8" height="9.8" fill="#ff0000"/>
<rect x="1142.2" y="1815.2" width="9.8" height="9.8" fill="#ff0000"/>
<rect x="1145" y="1832" width="9.8" height="9.8" fill="#ff0000"/>
<rect x="1138" y="1844.7" width="9.8" height="9.8" fill="#ff0000"/>
<rect x="1152" y="1841.9" width="9.8" height="9.8" fill="#ff0000"/>
<polygon points="1216.5,1731 1227.5,1731 1222,1740.9" fill="#0070c0"/>
<polygon points="1216.5,1823.6 1227.5,1823.6 1222,1833.5" fill="#0070c0"/>
<polygon points="1216.5,1835.6 1227.5,1835.6 1222,1845.5" fill="#0070c0"/>
<polygon points="1216.5,1854.4 1227.5,1854.4 1222,1864.3" fill="#0070c0"/>
<polygon points="1209.5,1874.1 1220.5,1874.1 1215,1884" fill="#0070c0"/>
<polygon points="1220.2,1864.3 1231.2,1864.3 1225.7,1874.2" fill="#0070c0"/>
<line x1="1000.1" y1="1962.4" x2="1000.1" y2="1974.9" stroke="#000" stroke-width="3.3"/>
<text x="1000.1" y="2000.8" font-size="24" text-anchor="middle">10 days</text>
<line x1="1167.6" y1="1962.4" x2="1167.6" y2="1974.9" stroke="#000" stroke-width="3.3"/>
<text x="1167.6" y="2000.8" font-size="24" text-anchor="middle">28 days</text>
<text x="1093" y="2027" font-size="25" font-weight="normal" text-anchor="middle">Neutrophils/Granulocytes</text>
<polyline points="940.3,1783.6 940.3,1769.6 980.1,1769.6 980.1,1783.6" fill="none" stroke="#000" stroke-width="3.5" stroke-linejoin="miter" stroke-linecap="butt"/>
<polyline points="987.1,1783.6 987.1,1769.6 1057.3,1769.6 1057.3,1783.6" fill="none" stroke="#000" stroke-width="3.5" stroke-linejoin="miter" stroke-linecap="butt"/>
<polyline points="943.6,1727.5 943.6,1713.5 1050.3,1713.5 1050.3,1727.5" fill="none" stroke="#000" stroke-width="3.5" stroke-linejoin="miter" stroke-linecap="butt"/>
<polyline points="1147.1,1716.3 1147.1,1700.8 1227.1,1700.8 1227.1,1716.3" fill="none" stroke="#000" stroke-width="3.5" stroke-linejoin="miter" stroke-linecap="butt"/>
<text x="959.9" y="1756.1" font-size="21.5" font-weight="normal" text-anchor="middle">ns</text>
<text x="1022.2" y="1756.1" font-size="21.5" font-weight="normal" text-anchor="middle">ns</text>
<text x="997" y="1699.4" font-size="21.5" font-weight="normal" text-anchor="middle">ns</text>
<text x="1186.4" y="1686.8" font-size="21.5" font-weight="normal" text-anchor="middle">ns</text>
<text x="863.9" y="1809" font-size="26.5" text-anchor="middle" transform="rotate(-90 863.9 1809)">10<tspan dy="-11.5" font-size="20">9</tspan><tspan dy="11.5">/L</tspan></text>
<line x1="1327.4" y1="1654.4" x2="1327.4" y2="1964.1" stroke="#000" stroke-width="3.6"/>
<line x1="1313.9" y1="1962.4" x2="1650.1" y2="1962.4" stroke="#000" stroke-width="3.6"/>
<line x1="1313.9" y1="1655.9" x2="1327.4" y2="1655.9" stroke="#000" stroke-width="3.3"/>
<text x="1309.6" y="1665.1" font-size="23.8" text-anchor="end">15</text>
<line x1="1313.9" y1="1758.4" x2="1327.4" y2="1758.4" stroke="#000" stroke-width="3.3"/>
<text x="1309.6" y="1767.6" font-size="23.8" text-anchor="end">10</text>
<line x1="1313.9" y1="1860.2" x2="1327.4" y2="1860.2" stroke="#000" stroke-width="3.3"/>
<text x="1309.6" y="1869.4" font-size="23.8" text-anchor="end">5</text>
<line x1="1313.9" y1="1962.4" x2="1327.4" y2="1962.4" stroke="#000" stroke-width="3.3"/>
<text x="1309.6" y="1971.6" font-size="23.8" text-anchor="end">0</text>
<path d="M1342.3,1962.4 L1342.3,1824.6 L1360.3,1824.6 L1360.3,1962.4" fill="none" stroke="#000" stroke-width="4.6"/>
<line x1="1351.3" y1="1822.3" x2="1351.3" y2="1778.9" stroke="#000" stroke-width="2.6"/>
<line x1="1345.3" y1="1778.9" x2="1357.3" y2="1778.9" stroke="#000" stroke-width="2.6"/>
<path d="M1376.8,1962.4 L1376.8,1810.6 L1395.9,1810.6 L1395.9,1962.4" fill="none" stroke="#ff0000" stroke-width="4.6"/>
<line x1="1386.4" y1="1808.3" x2="1386.4" y2="1783.6" stroke="#ff0000" stroke-width="2.6"/>
<line x1="1380.4" y1="1783.6" x2="1392.4" y2="1783.6" stroke="#ff0000" stroke-width="2.6"/>
<path d="M1413.3,1962.4 L1413.3,1808.4 L1431.8,1808.4 L1431.8,1962.4" fill="none" stroke="#00b050" stroke-width="4.6"/>
<line x1="1422.6" y1="1806.1" x2="1422.6" y2="1761.7" stroke="#00b050" stroke-width="2.6"/>
<line x1="1416.6" y1="1761.7" x2="1428.6" y2="1761.7" stroke="#00b050" stroke-width="2.6"/>
<path d="M1449.2,1962.4 L1449.2,1788.2 L1468,1788.2 L1468,1962.4" fill="none" stroke="#0070c0" stroke-width="4.6"/>
<line x1="1458.6" y1="1785.9" x2="1458.6" y2="1748.5" stroke="#0070c0" stroke-width="2.6"/>
<line x1="1452.6" y1="1748.5" x2="1464.6" y2="1748.5" stroke="#0070c0" stroke-width="2.6"/>
<path d="M1544.4,1962.4 L1544.4,1865.9 L1563.4,1865.9 L1563.4,1962.4" fill="none" stroke="#ff0000" stroke-width="4.6"/>
<line x1="1553.9" y1="1863.6" x2="1553.9" y2="1863.6" stroke="#ff0000" stroke-width="2.6"/>
<line x1="1547.9" y1="1863.6" x2="1559.9" y2="1863.6" stroke="#ff0000" stroke-width="2.6"/>
<path d="M1615.9,1962.4 L1615.9,1850.5 L1634.4,1850.5 L1634.4,1962.4" fill="none" stroke="#0070c0" stroke-width="4.6"/>
<line x1="1625.2" y1="1848.2" x2="1625.2" y2="1832.7" stroke="#0070c0" stroke-width="2.6"/>
<line x1="1619.2" y1="1832.7" x2="1631.2" y2="1832.7" stroke="#0070c0" stroke-width="2.6"/>
<circle cx="1350.7" cy="1754.2" r="5" fill="#000"/>
<circle cx="1350.7" cy="1772.4" r="5" fill="#000"/>
<circle cx="1343.4" cy="1807.5" r="5" fill="#000"/>
<circle cx="1358.3" cy="1822.9" r="5" fill="#000"/>
<circle cx="1350.7" cy="1827.1" r="5" fill="#000"/>
<circle cx="1358.3" cy="1844" r="5" fill="#000"/>
<circle cx="1350.7" cy="1851" r="5" fill="#000"/>
<circle cx="1350.7" cy="1880.4" r="5" fill="#000"/>
<rect x="1374.5" y="1764.7" width="9.8" height="9.8" fill="#ff0000"/>
<rect x="1382" y="1772.6" width="9.8" height="9.8" fill="#ff0000"/>
<rect x="1382" y="1789.9" width="9.8" height="9.8" fill="#ff0000"/>
<rect x="1374.5" y="1805.4" width="9.8" height="9.8" fill="#ff0000"/>
<rect x="1388.5" y="1805.4" width="9.8" height="9.8" fill="#ff0000"/>
<rect x="1382" y="1818" width="9.8" height="9.8" fill="#ff0000"/>
<rect x="1382" y="1836.3" width="9.8" height="9.8" fill="#ff0000"/>
<rect x="1374.5" y="1816.6" width="9.8" height="9.8" fill="#ff0000"/>
<polygon points="1416.8,1745.1 1427.8,1745.1 1422.3,1735.2" fill="#00b050"/>
<polygon points="1416.8,1768.9 1427.8,1768.9 1422.3,1759" fill="#00b050"/>
<polygon points="1416.8,1788.6 1427.8,1788.6 1422.3,1778.7" fill="#00b050"/>
<polygon points="1424.4,1804 1435.4,1804 1429.9,1794.1" fill="#00b050"/>
<polygon points="1416.8,1843.3 1427.8,1843.3 1422.3,1833.4" fill="#00b050"/>
<polygon points="1424.4,1848.9 1435.4,1848.9 1429.9,1839" fill="#00b050"/>
<polygon points="1416.8,1851.7 1427.8,1851.7 1422.3,1841.8" fill="#00b050"/>
<polygon points="1416.8,1871.4 1427.8,1871.4 1422.3,1861.5" fill="#00b050"/>
<polygon points="1452.4,1701.5 1463.4,1701.5 1457.9,1711.4" fill="#0070c0"/>
<polygon points="1452.4,1754.8 1463.4,1754.8 1457.9,1764.7" fill="#0070c0"/>
<polygon points="1452.4,1781.5 1463.4,1781.5 1457.9,1791.4" fill="#0070c0"/>
<polygon points="1452.4,1789.9 1463.4,1789.9 1457.9,1799.8" fill="#0070c0"/>
<polygon points="1460,1803.9 1471,1803.9 1465.5,1813.8" fill="#0070c0"/>
<polygon points="1452.4,1823 1463.4,1823 1457.9,1832.9" fill="#0070c0"/>
<rect x="1542" y="1853.1" width="9.8" height="9.8" fill="#ff0000"/>
<rect x="1556" y="1860.1" width="9.8" height="9.8" fill="#ff0000"/>
<rect x="1542" y="1868.5" width="9.8" height="9.8" fill="#ff0000"/>
<rect x="1556" y="1872.7" width="9.8" height="9.8" fill="#ff0000"/>
<rect x="1542" y="1882.6" width="9.8" height="9.8" fill="#ff0000"/>
<rect x="1549" y="1882.6" width="9.8" height="9.8" fill="#ff0000"/>
<polygon points="1612.4,1819.4 1623.4,1819.4 1617.9,1829.3" fill="#0070c0"/>
<polygon points="1619.4,1827.8 1630.4,1827.8 1624.9,1837.7" fill="#0070c0"/>
<polygon points="1615.2,1832 1626.2,1832 1620.7,1841.9" fill="#0070c0"/>
<polygon points="1612.4,1848.8 1623.4,1848.8 1617.9,1858.7" fill="#0070c0"/>
<polygon points="1619.4,1858.6 1630.4,1858.6 1624.9,1868.5" fill="#0070c0"/>
<line x1="1403.9" y1="1962.4" x2="1403.9" y2="1974.9" stroke="#000" stroke-width="3.3"/>
<text x="1403.9" y="2000.8" font-size="24" text-anchor="middle">10 days</text>
<line x1="1571.4" y1="1962.4" x2="1571.4" y2="1974.9" stroke="#000" stroke-width="3.3"/>
<text x="1571.4" y="2000.8" font-size="24" text-anchor="middle">28 days</text>
<text x="1507" y="2027" font-size="25" font-weight="normal" text-anchor="middle">Lymphocytes</text>
<polyline points="1345.7,1696.1 1345.7,1682 1385.5,1682 1385.5,1696.1" fill="none" stroke="#000" stroke-width="3.5" stroke-linejoin="miter" stroke-linecap="butt"/>
<polyline points="1388.6,1696.1 1388.6,1682 1459.9,1682 1459.9,1696.1" fill="none" stroke="#000" stroke-width="3.5" stroke-linejoin="miter" stroke-linecap="butt"/>
<polyline points="1349.9,1654 1349.9,1639.9 1456.5,1639.9 1456.5,1654" fill="none" stroke="#000" stroke-width="3.5" stroke-linejoin="miter" stroke-linecap="butt"/>
<polyline points="1543.5,1825.7 1543.5,1792.6 1624.1,1792.6 1624.1,1807.5" fill="none" stroke="#000" stroke-width="3.5" stroke-linejoin="miter" stroke-linecap="butt"/>
<text x="1365.3" y="1668.6" font-size="21.5" font-weight="normal" text-anchor="middle">ns</text>
<text x="1424.8" y="1668.6" font-size="21.5" font-weight="normal" text-anchor="middle">ns</text>
<text x="1404" y="1626.5" font-size="21.5" font-weight="normal" text-anchor="middle">ns</text>
<text x="1583.6" y="1778" font-size="21.5" font-weight="normal" text-anchor="middle">ns</text>
<text x="1267" y="1808.2" font-size="26.5" text-anchor="middle" transform="rotate(-90 1267 1808.2)">10<tspan dy="-11.5" font-size="20">9</tspan><tspan dy="11.5">/L</tspan></text>
<ellipse cx="1525.8" cy="1629.8" rx="11.3" ry="8" fill="#000"/>
<rect x="1514.5" y="1655.5" width="22.5" height="16" fill="#ff0000"/>
<polygon points="1514.6,1704.4 1536.6,1704.4 1525.6,1688.4" fill="#00b050"/>
<polygon points="1514.7,1725.5 1536.5,1725.5 1525.6,1742.1" fill="#4472c4"/>
<text x="1544.9" y="1637.7" font-size="25.5">Control</text>
<text x="1544.9" y="1671.4" font-size="25.5">Osim</text>
<text x="1544.9" y="1705.1" font-size="25.5">Soraf</text>
<text x="1544.9" y="1740.1" font-size="25.5">Combo</text>
<line x1="111.4" y1="2120.8" x2="111.4" y2="2429.3" stroke="#000" stroke-width="3.6"/>
<line x1="97.9" y1="2427.6" x2="429.3" y2="2427.6" stroke="#000" stroke-width="3.6"/>
<line x1="97.9" y1="2122.3" x2="111.4" y2="2122.3" stroke="#000" stroke-width="3.3"/>
<text x="93.6" y="2131.5" font-size="23.8" text-anchor="end">1500</text>
<line x1="97.9" y1="2224.2" x2="111.4" y2="2224.2" stroke="#000" stroke-width="3.3"/>
<text x="93.6" y="2233.4" font-size="23.8" text-anchor="end">1000</text>
<line x1="97.9" y1="2326" x2="111.4" y2="2326" stroke="#000" stroke-width="3.3"/>
<text x="93.6" y="2335.2" font-size="23.8" text-anchor="end">500</text>
<line x1="97.9" y1="2427.6" x2="111.4" y2="2427.6" stroke="#000" stroke-width="3.3"/>
<text x="93.6" y="2436.8" font-size="23.8" text-anchor="end">0</text>
<path d="M125.2,2427.6 L125.2,2364.8 L143.7,2364.8 L143.7,2427.6" fill="none" stroke="#000" stroke-width="4.6"/>
<line x1="134.4" y1="2362.5" x2="134.4" y2="2353.2" stroke="#000" stroke-width="2.6"/>
<line x1="128.4" y1="2353.2" x2="140.4" y2="2353.2" stroke="#000" stroke-width="2.6"/>
<path d="M160.2,2427.6 L160.2,2324.7 L178.7,2324.7 L178.7,2427.6" fill="none" stroke="#ff0000" stroke-width="4.6"/>
<line x1="169.5" y1="2322.4" x2="169.5" y2="2285.3" stroke="#ff0000" stroke-width="2.6"/>
<line x1="163.5" y1="2285.3" x2="175.5" y2="2285.3" stroke="#ff0000" stroke-width="2.6"/>
<path d="M195.3,2427.6 L195.3,2348 L213.8,2348 L213.8,2427.6" fill="none" stroke="#00b050" stroke-width="4.6"/>
<line x1="204.6" y1="2345.7" x2="204.6" y2="2315.9" stroke="#00b050" stroke-width="2.6"/>
<line x1="198.6" y1="2315.9" x2="210.6" y2="2315.9" stroke="#00b050" stroke-width="2.6"/>
<path d="M231,2427.6 L231,2310.6 L249.5,2310.6 L249.5,2427.6" fill="none" stroke="#0070c0" stroke-width="4.6"/>
<line x1="240.2" y1="2308.3" x2="240.2" y2="2265.7" stroke="#0070c0" stroke-width="2.6"/>
<line x1="234.2" y1="2265.7" x2="246.2" y2="2265.7" stroke="#0070c0" stroke-width="2.6"/>
<path d="M324.4,2427.6 L324.4,2328.3 L342.9,2328.3 L342.9,2427.6" fill="none" stroke="#ff0000" stroke-width="4.6"/>
<line x1="333.7" y1="2326" x2="333.7" y2="2295.2" stroke="#ff0000" stroke-width="2.6"/>
<line x1="327.7" y1="2295.2" x2="339.7" y2="2295.2" stroke="#ff0000" stroke-width="2.6"/>
<path d="M395.1,2427.6 L395.1,2291 L413,2291 L413,2427.6" fill="none" stroke="#0070c0" stroke-width="4.6"/>
<line x1="404.1" y1="2288.7" x2="404.1" y2="2257.8" stroke="#0070c0" stroke-width="2.6"/>
<line x1="398.1" y1="2257.8" x2="410.1" y2="2257.8" stroke="#0070c0" stroke-width="2.6"/>
<circle cx="127.7" cy="2347.6" r="5" fill="#000"/>
<circle cx="141.7" cy="2346.2" r="5" fill="#000"/>
<circle cx="134.7" cy="2353.2" r="5" fill="#000"/>
<circle cx="127.7" cy="2361.7" r="5" fill="#000"/>
<circle cx="141.7" cy="2363.1" r="5" fill="#000"/>
<circle cx="134.7" cy="2371.5" r="5" fill="#000"/>
<circle cx="141.7" cy="2377.1" r="5" fill="#000"/>
<circle cx="127.7" cy="2385.5" r="5" fill="#000"/>
<rect x="164.6" y="2248.2" width="9.8" height="9.8" fill="#ff0000"/>
<rect x="157.9" y="2309.1" width="9.8" height="9.8" fill="#ff0000"/>
<rect x="171.3" y="2305.7" width="9.8" height="9.8" fill="#ff0000"/>
<rect x="164.6" y="2324.5" width="9.8" height="9.8" fill="#ff0000"/>
<rect x="164.6" y="2340.8" width="9.8" height="9.8" fill="#ff0000"/>
<rect x="164.6" y="2375.8" width="9.8" height="9.8" fill="#ff0000"/>
<polygon points="199.3,2297.9 210.3,2297.9 204.8,2288" fill="#00b050"/>
<polygon points="199.3,2325.9 210.3,2325.9 204.8,2316" fill="#00b050"/>
<polygon points="199.3,2336.6 210.3,2336.6 204.8,2326.7" fill="#00b050"/>
<polygon points="203.6,2356.8 214.6,2356.8 209.1,2346.9" fill="#00b050"/>
<polygon points="196,2356.8 207,2356.8 201.5,2346.9" fill="#00b050"/>
<polygon points="199.3,2373.6 210.3,2373.6 204.8,2363.7" fill="#00b050"/>
<polygon points="199.3,2389.1 210.3,2389.1 204.8,2379.2" fill="#00b050"/>
<polygon points="234.4,2229 245.4,2229 239.9,2238.9" fill="#0070c0"/>
<polygon points="234.4,2266.9 245.4,2266.9 239.9,2276.8" fill="#0070c0"/>
<polygon points="234.4,2284.6 245.4,2284.6 239.9,2294.5" fill="#0070c0"/>
<polygon points="234.4,2295 245.4,2295 239.9,2304.9" fill="#0070c0"/>
<polygon points="234.4,2311 245.4,2311 239.9,2320.9" fill="#0070c0"/>
<polygon points="234.4,2325.8 245.4,2325.8 239.9,2335.7" fill="#0070c0"/>
<polygon points="234.4,2346.9 245.4,2346.9 239.9,2356.8" fill="#0070c0"/>
<polygon points="234.4,2363.2 245.4,2363.2 239.9,2373.1" fill="#0070c0"/>
<rect x="336" y="2278.8" width="9.8" height="9.8" fill="#ff0000"/>
<rect x="329" y="2285.8" width="9.8" height="9.8" fill="#ff0000"/>
<rect x="336" y="2303.4" width="9.8" height="9.8" fill="#ff0000"/>
<rect x="329" y="2306.3" width="9.8" height="9.8" fill="#ff0000"/>
<rect x="329" y="2331.5" width="9.8" height="9.8" fill="#ff0000"/>
<rect x="329" y="2348.3" width="9.8" height="9.8" fill="#ff0000"/>
<rect x="329" y="2363.8" width="9.8" height="9.8" fill="#ff0000"/>
<polygon points="398.6,2233.2 409.6,2233.2 404.1,2243.1" fill="#0070c0"/>
<polygon points="398.6,2256.5 409.6,2256.5 404.1,2266.4" fill="#0070c0"/>
<polygon points="391.6,2276.7 402.6,2276.7 397.1,2286.6" fill="#0070c0"/>
<polygon points="398.6,2273.9 409.6,2273.9 404.1,2283.8" fill="#0070c0"/>
<polygon points="398.6,2290.8 409.6,2290.8 404.1,2300.7" fill="#0070c0"/>
<polygon points="391.6,2325.8 402.6,2325.8 397.1,2335.7" fill="#0070c0"/>
<polygon points="405.6,2318.8 416.6,2318.8 411.1,2328.7" fill="#0070c0"/>
<line x1="187.2" y1="2427.6" x2="187.2" y2="2440.1" stroke="#000" stroke-width="3.3"/>
<text x="187.2" y="2463.4" font-size="24" text-anchor="middle">10 days</text>
<line x1="350.8" y1="2427.6" x2="350.8" y2="2440.1" stroke="#000" stroke-width="3.3"/>
<text x="350.8" y="2463.4" font-size="24" text-anchor="middle">28 days</text>
<text x="274" y="2487.8" font-size="25" font-weight="normal" text-anchor="middle">Platelets</text>
<polyline points="129.1,2211.5 129.1,2197.5 167.5,2197.5 167.5,2211.5" fill="none" stroke="#000" stroke-width="3.5" stroke-linejoin="miter" stroke-linecap="butt"/>
<polyline points="174.5,2211.5 174.5,2197.5 242.7,2197.5 242.7,2211.5" fill="none" stroke="#000" stroke-width="3.5" stroke-linejoin="miter" stroke-linecap="butt"/>
<polyline points="131.3,2155.4 131.3,2141.9 235.2,2141.9 235.2,2155.4" fill="none" stroke="#000" stroke-width="3.5" stroke-linejoin="miter" stroke-linecap="butt"/>
<polyline points="331.7,2217.1 331.7,2202.6 408.9,2202.6 408.9,2217.1" fill="none" stroke="#000" stroke-width="3.5" stroke-linejoin="miter" stroke-linecap="butt"/>
<text x="147.9" y="2184.3" font-size="21.5" font-weight="normal" text-anchor="middle">ns</text>
<text x="209.1" y="2184.3" font-size="21.5" font-weight="normal" text-anchor="middle">ns</text>
<text x="186.6" y="2119.8" font-size="18.2" font-weight="normal" text-anchor="middle">P=0.0186</text>
<text x="370.4" y="2188.5" font-size="21.5" font-weight="normal" text-anchor="middle">ns</text>
<text x="26" y="2274.6" font-size="26.5" text-anchor="middle" transform="rotate(-90 26 2274.6)">10<tspan dy="-11.5" font-size="20">9</tspan><tspan dy="11.5">/L</tspan></text>
<line x1="538.7" y1="2120.2" x2="538.7" y2="2428.5" stroke="#000" stroke-width="3.6"/>
<line x1="525.2" y1="2426.8" x2="856.4" y2="2426.8" stroke="#000" stroke-width="3.6"/>
<line x1="525.2" y1="2121.7" x2="538.7" y2="2121.7" stroke="#000" stroke-width="3.3"/>
<text x="520.9" y="2130.9" font-size="23.8" text-anchor="end">15</text>
<line x1="525.2" y1="2274.7" x2="538.7" y2="2274.7" stroke="#000" stroke-width="3.3"/>
<text x="520.9" y="2283.9" font-size="23.8" text-anchor="end">10</text>
<line x1="525.2" y1="2426.8" x2="538.7" y2="2426.8" stroke="#000" stroke-width="3.3"/>
<text x="520.9" y="2436" font-size="23.8" text-anchor="end">5</text>
<path d="M552.7,2426.8 L552.7,2277.5 L571.2,2277.5 L571.2,2426.8" fill="none" stroke="#000" stroke-width="4.6"/>
<line x1="562" y1="2275.2" x2="562" y2="2246.6" stroke="#000" stroke-width="2.6"/>
<line x1="556" y1="2246.6" x2="568" y2="2246.6" stroke="#000" stroke-width="2.6"/>
<path d="M587.8,2426.8 L587.8,2277.5 L606.3,2277.5 L606.3,2426.8" fill="none" stroke="#ff0000" stroke-width="4.6"/>
<line x1="597.1" y1="2275.2" x2="597.1" y2="2257.8" stroke="#ff0000" stroke-width="2.6"/>
<line x1="591.1" y1="2257.8" x2="603.1" y2="2257.8" stroke="#ff0000" stroke-width="2.6"/>
<path d="M622.9,2426.8 L622.9,2282.6 L641.4,2282.6 L641.4,2426.8" fill="none" stroke="#00b050" stroke-width="4.6"/>
<line x1="632.1" y1="2280.3" x2="632.1" y2="2263.4" stroke="#00b050" stroke-width="2.6"/>
<line x1="626.1" y1="2263.4" x2="638.1" y2="2263.4" stroke="#00b050" stroke-width="2.6"/>
<path d="M658.3,2426.8 L658.3,2294.6 L676.5,2294.6 L676.5,2426.8" fill="none" stroke="#0070c0" stroke-width="4.6"/>
<line x1="667.4" y1="2292.3" x2="667.4" y2="2274.7" stroke="#0070c0" stroke-width="2.6"/>
<line x1="661.4" y1="2274.7" x2="673.4" y2="2274.7" stroke="#0070c0" stroke-width="2.6"/>
<path d="M751.4,2426.8 L751.4,2312.9 L770.5,2312.9 L770.5,2426.8" fill="none" stroke="#ff0000" stroke-width="4.6"/>
<line x1="760.9" y1="2310.6" x2="760.9" y2="2298.5" stroke="#ff0000" stroke-width="2.6"/>
<line x1="754.9" y1="2298.5" x2="766.9" y2="2298.5" stroke="#ff0000" stroke-width="2.6"/>
<path d="M822.1,2426.8 L822.1,2333.7 L840.6,2333.7 L840.6,2426.8" fill="none" stroke="#0070c0" stroke-width="4.6"/>
<line x1="831.4" y1="2331.4" x2="831.4" y2="2295.7" stroke="#0070c0" stroke-width="2.6"/>
<line x1="825.4" y1="2295.7" x2="837.4" y2="2295.7" stroke="#0070c0" stroke-width="2.6"/>
<circle cx="559.7" cy="2216.6" r="5" fill="#000"/>
<circle cx="555.5" cy="2276.1" r="5" fill="#000"/>
<circle cx="563.1" cy="2273.3" r="5" fill="#000"/>
<circle cx="567.9" cy="2274.7" r="5" fill="#000"/>
<circle cx="559.7" cy="2278.9" r="5" fill="#000"/>
<circle cx="559.7" cy="2288.7" r="5" fill="#000"/>
<circle cx="559.7" cy="2323.8" r="5" fill="#000"/>
<rect x="584.9" y="2252.4" width="9.8" height="9.8" fill="#ff0000"/>
<rect x="598.9" y="2252.9" width="9.8" height="9.8" fill="#ff0000"/>
<rect x="591.9" y="2257.1" width="9.8" height="9.8" fill="#ff0000"/>
<rect x="584.9" y="2264.2" width="9.8" height="9.8" fill="#ff0000"/>
<rect x="598.9" y="2264.2" width="9.8" height="9.8" fill="#ff0000"/>
<rect x="591.9" y="2269.8" width="9.8" height="9.8" fill="#ff0000"/>
<rect x="589.1" y="2279.6" width="9.8" height="9.8" fill="#ff0000"/>
<rect x="589.1" y="2309.1" width="9.8" height="9.8" fill="#ff0000"/>
<polygon points="623.6,2267 634.6,2267 629.1,2257.1" fill="#00b050"/>
<polygon points="630.6,2267 641.6,2267 636.1,2257.1" fill="#00b050"/>
<polygon points="620.8,2281 631.8,2281 626.3,2271.1" fill="#00b050"/>
<polygon points="634.2,2281 645.2,2281 639.7,2271.1" fill="#00b050"/>
<polygon points="626.9,2288 637.9,2288 632.4,2278.1" fill="#00b050"/>
<polygon points="620.8,2304.9 631.8,2304.9 626.3,2295" fill="#00b050"/>
<polygon points="634.2,2304.9 645.2,2304.9 639.7,2295" fill="#00b050"/>
<polygon points="655.8,2264.1 666.8,2264.1 661.3,2274" fill="#0070c0"/>
<polygon points="662.8,2271.1 673.8,2271.1 668.3,2281" fill="#0070c0"/>
<polygon points="669.9,2272.5 680.9,2272.5 675.4,2282.4" fill="#0070c0"/>
<polygon points="659.2,2279.5 670.2,2279.5 664.7,2289.4" fill="#0070c0"/>
<polygon points="659.2,2309 670.2,2309 664.7,2318.9" fill="#0070c0"/>
<polygon points="665.7,2311.8 676.7,2311.8 671.2,2321.7" fill="#0070c0"/>
<polygon points="661.4,2317.4 672.4,2317.4 666.9,2327.3" fill="#0070c0"/>
<rect x="753.8" y="2281" width="9.8" height="9.8" fill="#ff0000"/>
<rect x="753.8" y="2293.6" width="9.8" height="9.8" fill="#ff0000"/>
<rect x="749" y="2307.7" width="9.8" height="9.8" fill="#ff0000"/>
<rect x="758.9" y="2307.7" width="9.8" height="9.8" fill="#ff0000"/>
<rect x="753.8" y="2316.1" width="9.8" height="9.8" fill="#ff0000"/>
<rect x="753.8" y="2331.5" width="9.8" height="9.8" fill="#ff0000"/>
<polygon points="825.6,2290.8 836.6,2290.8 831.1,2300.7" fill="#0070c0"/>
<polygon points="818.6,2303.4 829.6,2303.4 824.1,2313.3" fill="#0070c0"/>
<polygon points="832.6,2310.4 843.6,2310.4 838.1,2320.3" fill="#0070c0"/>
<polygon points="818.6,2317.4 829.6,2317.4 824.1,2327.3" fill="#0070c0"/>
<polygon points="825.6,2316 836.6,2316 831.1,2325.9" fill="#0070c0"/>
<polygon points="825.6,2355.3 836.6,2355.3 831.1,2365.2" fill="#0070c0"/>
<polygon points="825.6,2394.6 836.6,2394.6 831.1,2404.5" fill="#0070c0"/>
<line x1="614.5" y1="2426.8" x2="614.5" y2="2439.3" stroke="#000" stroke-width="3.3"/>
<text x="614.5" y="2463.3" font-size="24" text-anchor="middle">10 days</text>
<line x1="777.8" y1="2426.8" x2="777.8" y2="2439.3" stroke="#000" stroke-width="3.3"/>
<text x="777.8" y="2463.3" font-size="24" text-anchor="middle">28 days</text>
<text x="707" y="2489.2" font-size="25" font-weight="normal" text-anchor="middle">Erythrocytes</text>
<polyline points="556.1,2200.3 556.1,2187.7 595.4,2187.7 595.4,2200.3" fill="none" stroke="#000" stroke-width="3.5" stroke-linejoin="miter" stroke-linecap="butt"/>
<polyline points="601,2200.3 601,2187.7 670.6,2187.7 670.6,2200.3" fill="none" stroke="#000" stroke-width="3.5" stroke-linejoin="miter" stroke-linecap="butt"/>
<polyline points="558.9,2161 558.9,2148.4 662.7,2148.4 662.7,2161" fill="none" stroke="#000" stroke-width="3.5" stroke-linejoin="miter" stroke-linecap="butt"/>
<polyline points="758.7,2254.2 758.7,2239.6 836.2,2239.6 836.2,2254.2" fill="none" stroke="#000" stroke-width="3.5" stroke-linejoin="miter" stroke-linecap="butt"/>
<text x="575.2" y="2172.8" font-size="21.5" font-weight="normal" text-anchor="middle">ns</text>
<text x="636.1" y="2172.8" font-size="21.5" font-weight="normal" text-anchor="middle">ns</text>
<text x="610.8" y="2133.5" font-size="21.5" font-weight="normal" text-anchor="middle">ns</text>
<text x="797.4" y="2225.6" font-size="21.5" font-weight="normal" text-anchor="middle">ns</text>
<text x="481" y="2274.3" font-size="26.5" text-anchor="middle" transform="rotate(-90 481 2274.3)">10<tspan dy="-11.5" font-size="20">12</tspan><tspan dy="11.5">/L</tspan></text>
<line x1="935.4" y1="2119" x2="935.4" y2="2427.2" stroke="#000" stroke-width="3.6"/>
<line x1="921.9" y1="2425.5" x2="1246.9" y2="2425.5" stroke="#000" stroke-width="3.6"/>
<line x1="921.9" y1="2120.5" x2="935.4" y2="2120.5" stroke="#000" stroke-width="3.3"/>
<text x="917.6" y="2129.7" font-size="23.8" text-anchor="end">20</text>
<line x1="921.9" y1="2272.6" x2="935.4" y2="2272.6" stroke="#000" stroke-width="3.3"/>
<text x="917.6" y="2281.8" font-size="23.8" text-anchor="end">15</text>
<line x1="921.9" y1="2425.5" x2="935.4" y2="2425.5" stroke="#000" stroke-width="3.3"/>
<text x="917.6" y="2434.7" font-size="23.8" text-anchor="end">10</text>
<path d="M949.2,2425.5 L949.2,2243.1 L966.5,2243.1 L966.5,2425.5" fill="none" stroke="#000" stroke-width="4.6"/>
<line x1="957.9" y1="2240.8" x2="957.9" y2="2187.5" stroke="#000" stroke-width="2.6"/>
<line x1="951.9" y1="2187.5" x2="963.9" y2="2187.5" stroke="#000" stroke-width="2.6"/>
<path d="M983.4,2425.5 L983.4,2244 L1001.6,2244 L1001.6,2425.5" fill="none" stroke="#ff0000" stroke-width="4.6"/>
<line x1="992.5" y1="2241.7" x2="992.5" y2="2216.4" stroke="#ff0000" stroke-width="2.6"/>
<line x1="986.5" y1="2216.4" x2="998.5" y2="2216.4" stroke="#ff0000" stroke-width="2.6"/>
<path d="M1018.5,2425.5 L1018.5,2247.4 L1036.1,2247.4 L1036.1,2425.5" fill="none" stroke="#00b050" stroke-width="4.6"/>
<line x1="1027.3" y1="2245.1" x2="1027.3" y2="2220.6" stroke="#00b050" stroke-width="2.6"/>
<line x1="1021.3" y1="2220.6" x2="1033.3" y2="2220.6" stroke="#00b050" stroke-width="2.6"/>
<path d="M1053.6,2425.5 L1053.6,2256.6 L1070.6,2256.6 L1070.6,2425.5" fill="none" stroke="#0070c0" stroke-width="4.6"/>
<line x1="1062.1" y1="2254.3" x2="1062.1" y2="2219.8" stroke="#0070c0" stroke-width="2.6"/>
<line x1="1056.1" y1="2219.8" x2="1068.1" y2="2219.8" stroke="#0070c0" stroke-width="2.6"/>
<path d="M1145.6,2425.5 L1145.6,2326.8 L1163,2326.8 L1163,2425.5" fill="none" stroke="#ff0000" stroke-width="4.6"/>
<line x1="1154.3" y1="2324.5" x2="1154.3" y2="2303.4" stroke="#ff0000" stroke-width="2.6"/>
<line x1="1148.3" y1="2303.4" x2="1160.3" y2="2303.4" stroke="#ff0000" stroke-width="2.6"/>
<path d="M1214.4,2425.5 L1214.4,2322.6 L1231.2,2322.6 L1231.2,2425.5" fill="none" stroke="#0070c0" stroke-width="4.6"/>
<line x1="1222.8" y1="2320.3" x2="1222.8" y2="2274.5" stroke="#0070c0" stroke-width="2.6"/>
<line x1="1216.8" y1="2274.5" x2="1228.8" y2="2274.5" stroke="#0070c0" stroke-width="2.6"/>
<circle cx="957.9" cy="2136.5" r="5" fill="#000"/>
<circle cx="957.9" cy="2222" r="5" fill="#000"/>
<circle cx="950.8" cy="2237.5" r="5" fill="#000"/>
<circle cx="957.9" cy="2241.7" r="5" fill="#000"/>
<circle cx="950.8" cy="2252.9" r="5" fill="#000"/>
<circle cx="957.9" cy="2252.9" r="5" fill="#000"/>
<circle cx="957.9" cy="2328.7" r="5" fill="#000"/>
<rect x="994.5" y="2208.2" width="9.8" height="9.8" fill="#ff0000"/>
<rect x="987.2" y="2212.9" width="9.8" height="9.8" fill="#ff0000"/>
<rect x="994.5" y="2217.1" width="9.8" height="9.8" fill="#ff0000"/>
<rect x="980.5" y="2225.6" width="9.8" height="9.8" fill="#ff0000"/>
<rect x="988" y="2239.6" width="9.8" height="9.8" fill="#ff0000"/>
<rect x="988" y="2248" width="9.8" height="9.8" fill="#ff0000"/>
<rect x="988" y="2286.7" width="9.8" height="9.8" fill="#ff0000"/>
<polygon points="1028.1,2218.6 1039.1,2218.6 1033.6,2208.7" fill="#00b050"/>
<polygon points="1021.7,2221.9 1032.7,2221.9 1027.2,2212" fill="#00b050"/>
<polygon points="1021.1,2241.6 1032.1,2241.6 1026.6,2231.7" fill="#00b050"/>
<polygon points="1014.1,2243.3 1025.1,2243.3 1019.6,2233.4" fill="#00b050"/>
<polygon points="1021.1,2261.2 1032.1,2261.2 1026.6,2251.3" fill="#00b050"/>
<polygon points="1028.1,2276.1 1039.1,2276.1 1033.6,2266.2" fill="#00b050"/>
<polygon points="1014.1,2281.7 1025.1,2281.7 1019.6,2271.8" fill="#00b050"/>
<polygon points="1056.2,2206.7 1067.2,2206.7 1061.7,2216.6" fill="#0070c0"/>
<polygon points="1049.2,2219.9 1060.2,2219.9 1054.7,2229.8" fill="#0070c0"/>
<polygon points="1056.2,2219.9 1067.2,2219.9 1061.7,2229.8" fill="#0070c0"/>
<polygon points="1049.2,2232 1060.2,2232 1054.7,2241.9" fill="#0070c0"/>
<polygon points="1056.2,2239.5 1067.2,2239.5 1061.7,2249.4" fill="#0070c0"/>
<polygon points="1056.2,2259.2 1067.2,2259.2 1061.7,2269.1" fill="#0070c0"/>
<polygon points="1056.2,2288.6 1067.2,2288.6 1061.7,2298.5" fill="#0070c0"/>
<polygon points="1056.2,2304.1 1067.2,2304.1 1061.7,2314" fill="#0070c0"/>
<rect x="1148.8" y="2268.5" width="9.8" height="9.8" fill="#ff0000"/>
<rect x="1148.8" y="2292.9" width="9.8" height="9.8" fill="#ff0000"/>
<rect x="1148.8" y="2312.6" width="9.8" height="9.8" fill="#ff0000"/>
<rect x="1145.2" y="2322.4" width="9.8" height="9.8" fill="#ff0000"/>
<rect x="1156.4" y="2322.4" width="9.8" height="9.8" fill="#ff0000"/>
<rect x="1148.8" y="2341.5" width="9.8" height="9.8" fill="#ff0000"/>
<rect x="1148.8" y="2356.9" width="9.8" height="9.8" fill="#ff0000"/>
<polygon points="1217,2262 1228,2262 1222.5,2271.9" fill="#0070c0"/>
<polygon points="1217,2278.8 1228,2278.8 1222.5,2288.7" fill="#0070c0"/>
<polygon points="1210,2297.1 1221,2297.1 1215.5,2307" fill="#0070c0"/>
<polygon points="1224,2297.1 1235,2297.1 1229.5,2307" fill="#0070c0"/>
<polygon points="1217,2309.7 1228,2309.7 1222.5,2319.6" fill="#0070c0"/>
<polygon points="1217,2350.4 1228,2350.4 1222.5,2360.3" fill="#0070c0"/>
<polygon points="1217,2405.1 1228,2405.1 1222.5,2415" fill="#0070c0"/>
<line x1="1009.2" y1="2425.5" x2="1009.2" y2="2438" stroke="#000" stroke-width="3.3"/>
<text x="1009.2" y="2462" font-size="24" text-anchor="middle">10 days</text>
<line x1="1170.6" y1="2425.5" x2="1170.6" y2="2438" stroke="#000" stroke-width="3.3"/>
<text x="1170.6" y="2462" font-size="24" text-anchor="middle">28 days</text>
<text x="1105.8" y="2484.3" font-size="25" font-weight="normal" text-anchor="middle">Hemoglobin</text>
<polyline points="951.7,2123.3 951.7,2110.4 990.1,2110.4 990.1,2123.3" fill="none" stroke="#000" stroke-width="3.5" stroke-linejoin="miter" stroke-linecap="butt"/>
<polyline points="996.6,2123.3 996.6,2110.4 1064.5,2110.4 1064.5,2123.3" fill="none" stroke="#000" stroke-width="3.5" stroke-linejoin="miter" stroke-linecap="butt"/>
<polyline points="955.1,2084.5 955.1,2071.1 1056.6,2071.1 1056.6,2084.5" fill="none" stroke="#000" stroke-width="3.5" stroke-linejoin="miter" stroke-linecap="butt"/>
<polyline points="1150.9,2174.3 1150.9,2160.3 1227.2,2160.3 1227.2,2174.3" fill="none" stroke="#000" stroke-width="3.5" stroke-linejoin="miter" stroke-linecap="butt"/>
<text x="971.3" y="2096.3" font-size="21.5" font-weight="normal" text-anchor="middle">ns</text>
<text x="1030.8" y="2096.3" font-size="21.5" font-weight="normal" text-anchor="middle">ns</text>
<text x="1006.1" y="2057" font-size="21.5" font-weight="normal" text-anchor="middle">ns</text>
<text x="1188.8" y="2146.8" font-size="21.5" font-weight="normal" text-anchor="middle">ns</text>
<text x="876.8" y="2273" font-size="26.5" text-anchor="middle" transform="rotate(-90 876.8 2273)">g/dL</text>
<line x1="1333.1" y1="2116.2" x2="1333.1" y2="2423.3" stroke="#000" stroke-width="3.6"/>
<line x1="1319.6" y1="2421.6" x2="1652.4" y2="2421.6" stroke="#000" stroke-width="3.6"/>
<line x1="1319.6" y1="2117.7" x2="1333.1" y2="2117.7" stroke="#000" stroke-width="3.3"/>
<text x="1310.9" y="2126.9" font-size="25" text-anchor="end">80</text>
<line x1="1319.6" y1="2178.6" x2="1333.1" y2="2178.6" stroke="#000" stroke-width="3.3"/>
<text x="1310.9" y="2187.8" font-size="25" text-anchor="end">70</text>
<line x1="1319.6" y1="2239.5" x2="1333.1" y2="2239.5" stroke="#000" stroke-width="3.3"/>
<text x="1310.9" y="2248.7" font-size="25" text-anchor="end">60</text>
<line x1="1319.6" y1="2300.4" x2="1333.1" y2="2300.4" stroke="#000" stroke-width="3.3"/>
<text x="1310.9" y="2309.6" font-size="25" text-anchor="end">50</text>
<line x1="1319.6" y1="2361.3" x2="1333.1" y2="2361.3" stroke="#000" stroke-width="3.3"/>
<text x="1310.9" y="2370.5" font-size="25" text-anchor="end">40</text>
<line x1="1319.6" y1="2421.6" x2="1333.1" y2="2421.6" stroke="#000" stroke-width="3.3"/>
<text x="1310.9" y="2430.8" font-size="25" text-anchor="end">30</text>
<path d="M1347.9,2421.6 L1347.9,2285.9 L1365.9,2285.9 L1365.9,2421.6" fill="none" stroke="#000" stroke-width="4.6"/>
<line x1="1356.9" y1="2283.6" x2="1356.9" y2="2249.1" stroke="#000" stroke-width="2.6"/>
<line x1="1350.9" y1="2249.1" x2="1362.9" y2="2249.1" stroke="#000" stroke-width="2.6"/>
<path d="M1382.5,2421.6 L1382.5,2282.2 L1401.5,2282.2 L1401.5,2421.6" fill="none" stroke="#ff0000" stroke-width="4.6"/>
<line x1="1392" y1="2279.9" x2="1392" y2="2261.7" stroke="#ff0000" stroke-width="2.6"/>
<line x1="1386" y1="2261.7" x2="1398" y2="2261.7" stroke="#ff0000" stroke-width="2.6"/>
<path d="M1417.5,2421.6 L1417.5,2287 L1436.6,2287 L1436.6,2421.6" fill="none" stroke="#00b050" stroke-width="4.6"/>
<line x1="1427.1" y1="2284.7" x2="1427.1" y2="2268.7" stroke="#00b050" stroke-width="2.6"/>
<line x1="1421.1" y1="2268.7" x2="1433.1" y2="2268.7" stroke="#00b050" stroke-width="2.6"/>
<path d="M1453.5,2421.6 L1453.5,2299.1 L1471.7,2299.1 L1471.7,2421.6" fill="none" stroke="#0070c0" stroke-width="4.6"/>
<line x1="1462.6" y1="2296.8" x2="1462.6" y2="2278.5" stroke="#0070c0" stroke-width="2.6"/>
<line x1="1456.6" y1="2278.5" x2="1468.6" y2="2278.5" stroke="#0070c0" stroke-width="2.6"/>
<path d="M1546.6,2421.6 L1546.6,2329.9 L1565.7,2329.9 L1565.7,2421.6" fill="none" stroke="#ff0000" stroke-width="4.6"/>
<line x1="1556.1" y1="2327.6" x2="1556.1" y2="2312.8" stroke="#ff0000" stroke-width="2.6"/>
<line x1="1550.1" y1="2312.8" x2="1562.1" y2="2312.8" stroke="#ff0000" stroke-width="2.6"/>
<path d="M1617.6,2421.6 L1617.6,2332.2 L1636.4,2332.2 L1636.4,2421.6" fill="none" stroke="#0070c0" stroke-width="4.6"/>
<line x1="1627" y1="2329.9" x2="1627" y2="2294.8" stroke="#0070c0" stroke-width="2.6"/>
<line x1="1621" y1="2294.8" x2="1633" y2="2294.8" stroke="#0070c0" stroke-width="2.6"/>
<circle cx="1358.9" cy="2215.4" r="5" fill="#000"/>
<circle cx="1355.5" cy="2272.9" r="5" fill="#000"/>
<circle cx="1362.5" cy="2286.9" r="5" fill="#000"/>
<circle cx="1355.5" cy="2288.3" r="5" fill="#000"/>
<circle cx="1355.5" cy="2295.9" r="5" fill="#000"/>
<circle cx="1362.5" cy="2285.5" r="5" fill="#000"/>
<circle cx="1355.5" cy="2336.9" r="5" fill="#000"/>
<rect x="1387.1" y="2254.5" width="9.8" height="9.8" fill="#ff0000"/>
<rect x="1380.9" y="2263" width="9.8" height="9.8" fill="#ff0000"/>
<rect x="1394.1" y="2261" width="9.8" height="9.8" fill="#ff0000"/>
<rect x="1387.1" y="2275" width="9.8" height="9.8" fill="#ff0000"/>
<rect x="1380.9" y="2287.7" width="9.8" height="9.8" fill="#ff0000"/>
<rect x="1394.1" y="2280.6" width="9.8" height="9.8" fill="#ff0000"/>
<rect x="1387.1" y="2315.7" width="9.8" height="9.8" fill="#ff0000"/>
<polygon points="1421.6,2266.6 1432.6,2266.6 1427.1,2256.7" fill="#00b050"/>
<polygon points="1414.5,2269.4 1425.5,2269.4 1420,2259.5" fill="#00b050"/>
<polygon points="1428.6,2282.9 1439.6,2282.9 1434.1,2273" fill="#00b050"/>
<polygon points="1421.6,2296.9 1432.6,2296.9 1427.1,2287" fill="#00b050"/>
<polygon points="1414.5,2311.5 1425.5,2311.5 1420,2301.6" fill="#00b050"/>
<polygon points="1428.6,2311.5 1439.6,2311.5 1434.1,2301.6" fill="#00b050"/>
<polygon points="1450.2,2265.2 1461.2,2265.2 1455.7,2275.1" fill="#0070c0"/>
<polygon points="1458,2270.8 1469,2270.8 1463.5,2280.7" fill="#0070c0"/>
<polygon points="1464.2,2276.4 1475.2,2276.4 1469.7,2286.3" fill="#0070c0"/>
<polygon points="1457.2,2301.6 1468.2,2301.6 1462.7,2311.5" fill="#0070c0"/>
<polygon points="1450.2,2324.1 1461.2,2324.1 1455.7,2334" fill="#0070c0"/>
<polygon points="1464.2,2317.1 1475.2,2317.1 1469.7,2327" fill="#0070c0"/>
<rect x="1549.3" y="2291.9" width="9.8" height="9.8" fill="#ff0000"/>
<rect x="1549.3" y="2311.5" width="9.8" height="9.8" fill="#ff0000"/>
<rect x="1542.8" y="2325.5" width="9.8" height="9.8" fill="#ff0000"/>
<rect x="1555.5" y="2326.9" width="9.8" height="9.8" fill="#ff0000"/>
<rect x="1549.3" y="2334" width="9.8" height="9.8" fill="#ff0000"/>
<rect x="1549.3" y="2350.8" width="9.8" height="9.8" fill="#ff0000"/>
<polygon points="1621.4,2283.4 1632.4,2283.4 1626.9,2293.3" fill="#0070c0"/>
<polygon points="1621.4,2291.8 1632.4,2291.8 1626.9,2301.7" fill="#0070c0"/>
<polygon points="1613.8,2305.8 1624.8,2305.8 1619.3,2315.7" fill="#0070c0"/>
<polygon points="1628.4,2314.3 1639.4,2314.3 1633.9,2324.2" fill="#0070c0"/>
<polygon points="1621.4,2322.7 1632.4,2322.7 1626.9,2332.6" fill="#0070c0"/>
<polygon points="1621.4,2343.7 1632.4,2343.7 1626.9,2353.6" fill="#0070c0"/>
<polygon points="1621.4,2392.8 1632.4,2392.8 1626.9,2402.7" fill="#0070c0"/>
<line x1="1409.8" y1="2421.6" x2="1409.8" y2="2434.1" stroke="#000" stroke-width="3.3"/>
<text x="1409.8" y="2456.3" font-size="24" text-anchor="middle">10 days</text>
<line x1="1574.5" y1="2421.6" x2="1574.5" y2="2434.1" stroke="#000" stroke-width="3.3"/>
<text x="1574.5" y="2456.3" font-size="24" text-anchor="middle">28 days</text>
<text x="1507" y="2488.9" font-size="25" font-weight="normal" text-anchor="middle">Hematocrit</text>
<polyline points="1351.3,2195.2 1351.3,2182.6 1389.2,2182.6 1389.2,2195.2" fill="none" stroke="#000" stroke-width="3.5" stroke-linejoin="miter" stroke-linecap="butt"/>
<polyline points="1396.8,2195.2 1396.8,2182.6 1465.5,2182.6 1465.5,2195.2" fill="none" stroke="#000" stroke-width="3.5" stroke-linejoin="miter" stroke-linecap="butt"/>
<polyline points="1354.1,2150 1354.1,2136.8 1457.9,2136.8 1457.9,2150" fill="none" stroke="#000" stroke-width="3.5" stroke-linejoin="miter" stroke-linecap="butt"/>
<polyline points="1553.9,2264.5 1553.9,2250.5 1631.1,2250.5 1631.1,2264.5" fill="none" stroke="#000" stroke-width="3.5" stroke-linejoin="miter" stroke-linecap="butt"/>
<text x="1370.4" y="2168.2" font-size="21.5" font-weight="normal" text-anchor="middle">ns</text>
<text x="1431.3" y="2168.2" font-size="21.5" font-weight="normal" text-anchor="middle">ns</text>
<text x="1406" y="2123.3" font-size="21.5" font-weight="normal" text-anchor="middle">ns</text>
<text x="1592.6" y="2236.4" font-size="21.5" font-weight="normal" text-anchor="middle">ns</text>
<text x="1276.9" y="2269.8" font-size="26.5" text-anchor="middle" transform="rotate(-90 1276.9 2269.8)">%</text>
</svg>
</body></html>
